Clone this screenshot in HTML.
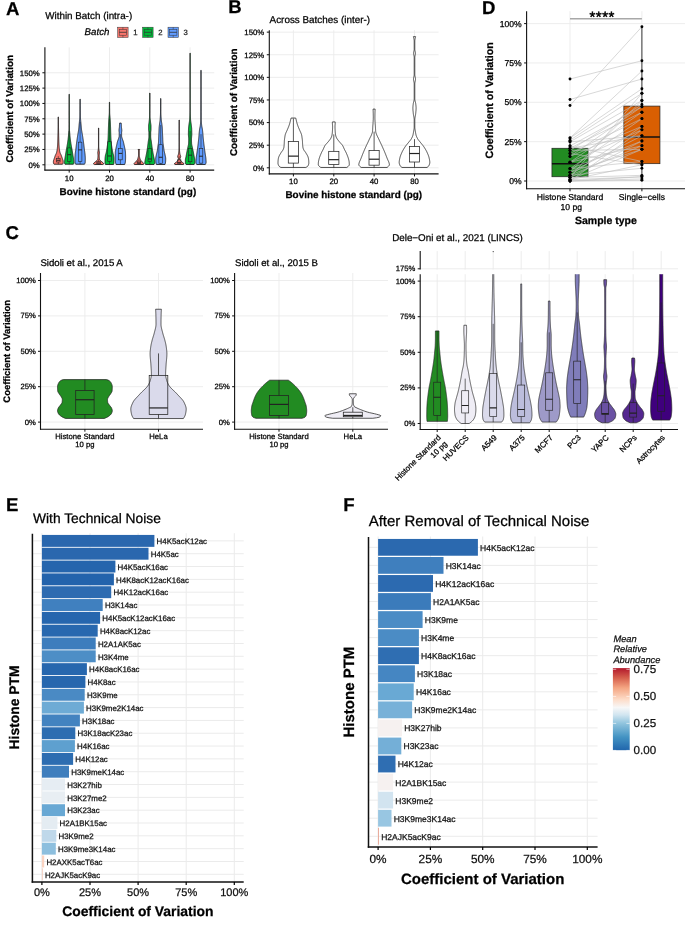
<!DOCTYPE html><html><head><meta charset="utf-8"><style>html,body{margin:0;padding:0;background:#fff;}svg{display:block;will-change:transform;}</style></head><body><svg text-rendering="geometricPrecision" width="685" height="928" viewBox="0 0 685 928" font-family='"Liberation Sans", sans-serif'>
<style>text{stroke:currentColor;stroke-width:0.25px;paint-order:stroke;}</style>
<rect width="685" height="928" fill="#fff"/>
<line x1="44.90" y1="164.80" x2="214.20" y2="164.80" stroke="#EBEBEB" stroke-width="0.9"/>
<line x1="44.90" y1="149.46" x2="214.20" y2="149.46" stroke="#EBEBEB" stroke-width="0.9"/>
<line x1="44.90" y1="134.12" x2="214.20" y2="134.12" stroke="#EBEBEB" stroke-width="0.9"/>
<line x1="44.90" y1="118.79" x2="214.20" y2="118.79" stroke="#EBEBEB" stroke-width="0.9"/>
<line x1="44.90" y1="103.45" x2="214.20" y2="103.45" stroke="#EBEBEB" stroke-width="0.9"/>
<line x1="44.90" y1="88.11" x2="214.20" y2="88.11" stroke="#EBEBEB" stroke-width="0.9"/>
<line x1="44.90" y1="72.78" x2="214.20" y2="72.78" stroke="#EBEBEB" stroke-width="0.9"/>
<line x1="69.20" y1="47.30" x2="69.20" y2="170.10" stroke="#EBEBEB" stroke-width="0.9"/>
<line x1="109.50" y1="47.30" x2="109.50" y2="170.10" stroke="#EBEBEB" stroke-width="0.9"/>
<line x1="149.80" y1="47.30" x2="149.80" y2="170.10" stroke="#EBEBEB" stroke-width="0.9"/>
<line x1="190.10" y1="47.30" x2="190.10" y2="170.10" stroke="#EBEBEB" stroke-width="0.9"/>
<path d="M62.50,164.19 L62.90,163.68 L63.17,163.18 L63.20,162.68 L63.20,162.18 L63.20,161.67 L63.20,161.17 L63.14,160.67 L62.96,160.17 L62.75,159.66 L62.56,159.16 L62.40,158.66 L62.24,158.16 L62.07,157.65 L61.90,157.15 L61.73,156.65 L61.55,156.15 L61.36,155.64 L61.17,155.14 L60.94,154.64 L60.67,154.14 L60.40,153.63 L60.20,153.13 L60.04,152.63 L59.90,152.13 L59.78,151.62 L59.68,151.12 L59.59,150.62 L59.51,150.12 L59.44,149.61 L59.37,149.11 L59.31,148.61 L59.25,148.10 L59.20,147.60 L59.15,147.10 L59.11,146.60 L59.08,146.09 L59.05,145.59 L59.01,145.09 L58.98,144.59 L58.96,144.08 L58.93,143.58 L58.90,143.08 L58.88,142.58 L58.86,142.07 L58.84,141.57 L58.82,141.07 L58.81,140.57 L58.79,140.06 L58.78,139.56 L58.77,139.06 L58.75,138.56 L58.74,138.05 L58.73,137.55 L58.72,137.05 L58.70,136.55 L58.69,136.04 L58.68,135.54 L58.67,135.04 L58.65,134.54 L58.64,134.03 L58.63,133.53 L58.62,133.03 L58.61,132.53 L58.60,132.02 L58.59,131.52 L58.58,131.02 L58.57,130.52 L58.56,130.01 L58.55,129.51 L58.54,129.01 L58.53,128.51 L58.52,128.00 L58.51,127.50 L58.50,127.00 L58.50,126.50 L58.49,125.99 L58.48,125.49 L58.48,124.99 L58.47,124.49 L58.46,123.98 L58.46,123.48 L58.45,122.98 L58.45,122.48 L58.44,121.97 L58.44,121.47 L58.43,120.97 L58.43,120.46 L58.43,119.96 L58.43,119.46 L58.42,118.96 L58.42,118.45 L58.42,117.95 L58.42,117.45 L58.42,116.95 L58.18,116.95 L58.18,117.45 L58.18,117.95 L58.18,118.45 L58.18,118.96 L58.17,119.46 L58.17,119.96 L58.17,120.46 L58.17,120.97 L58.16,121.47 L58.16,121.97 L58.15,122.48 L58.15,122.98 L58.14,123.48 L58.14,123.98 L58.13,124.49 L58.12,124.99 L58.12,125.49 L58.11,125.99 L58.10,126.50 L58.10,127.00 L58.09,127.50 L58.08,128.00 L58.07,128.51 L58.06,129.01 L58.05,129.51 L58.04,130.01 L58.03,130.52 L58.02,131.02 L58.01,131.52 L58.00,132.02 L57.99,132.53 L57.98,133.03 L57.97,133.53 L57.96,134.03 L57.95,134.54 L57.93,135.04 L57.92,135.54 L57.91,136.04 L57.90,136.55 L57.88,137.05 L57.87,137.55 L57.86,138.05 L57.85,138.56 L57.83,139.06 L57.82,139.56 L57.81,140.06 L57.79,140.57 L57.78,141.07 L57.76,141.57 L57.74,142.07 L57.72,142.58 L57.70,143.08 L57.67,143.58 L57.64,144.08 L57.62,144.59 L57.59,145.09 L57.55,145.59 L57.52,146.09 L57.49,146.60 L57.45,147.10 L57.40,147.60 L57.35,148.10 L57.29,148.61 L57.23,149.11 L57.16,149.61 L57.09,150.12 L57.01,150.62 L56.92,151.12 L56.82,151.62 L56.70,152.13 L56.56,152.63 L56.40,153.13 L56.20,153.63 L55.93,154.14 L55.66,154.64 L55.43,155.14 L55.24,155.64 L55.05,156.15 L54.87,156.65 L54.70,157.15 L54.53,157.65 L54.36,158.16 L54.20,158.66 L54.04,159.16 L53.85,159.66 L53.64,160.17 L53.46,160.67 L53.40,161.17 L53.40,161.67 L53.40,162.18 L53.40,162.68 L53.43,163.18 L53.70,163.68 L54.10,164.19 Z" fill="#F8766D" stroke="#1a1a1a" stroke-width="0.85" stroke-linejoin="round"/>
<g stroke="#222" stroke-width="0.6">
<line x1="58.30" y1="164.19" x2="58.30" y2="161.98" stroke="#222" stroke-width="0.6"/>
<line x1="58.30" y1="158.67" x2="58.30" y2="156.21" stroke="#222" stroke-width="0.6"/>
<rect x="56.50" y="158.67" width="3.60" height="3.31" fill="none" stroke="#222" stroke-width="0.6"/>
<line x1="56.50" y1="160.26" x2="60.10" y2="160.26" stroke="#222" stroke-width="1.0"/>
</g>
<path d="M73.40,164.19 L73.69,163.68 L73.88,163.18 L73.90,162.68 L73.88,162.17 L73.84,161.67 L73.80,161.17 L73.76,160.66 L73.70,160.16 L73.64,159.66 L73.57,159.15 L73.50,158.65 L73.43,158.15 L73.35,157.65 L73.26,157.14 L73.18,156.64 L73.09,156.14 L73.01,155.63 L72.92,155.13 L72.84,154.63 L72.76,154.12 L72.68,153.62 L72.60,153.12 L72.52,152.61 L72.44,152.11 L72.36,151.61 L72.27,151.10 L72.18,150.60 L72.09,150.10 L72.00,149.59 L71.91,149.09 L71.81,148.59 L71.71,148.09 L71.62,147.58 L71.52,147.08 L71.43,146.58 L71.34,146.07 L71.26,145.57 L71.17,145.07 L71.09,144.56 L71.00,144.06 L70.92,143.56 L70.84,143.05 L70.77,142.55 L70.69,142.05 L70.62,141.54 L70.55,141.04 L70.48,140.54 L70.42,140.03 L70.35,139.53 L70.29,139.03 L70.23,138.53 L70.17,138.02 L70.12,137.52 L70.07,137.02 L70.01,136.51 L69.97,136.01 L69.92,135.51 L69.87,135.00 L69.83,134.50 L69.79,134.00 L69.75,133.49 L69.71,132.99 L69.66,132.49 L69.62,131.98 L69.58,131.48 L69.54,130.98 L69.50,130.47 L69.47,129.97 L69.44,129.47 L69.42,128.97 L69.41,128.46 L69.40,127.96 L69.40,127.46 L69.39,126.95 L69.39,126.45 L69.39,125.95 L69.39,125.44 L69.38,124.94 L69.38,124.44 L69.38,123.93 L69.38,123.43 L69.37,122.93 L69.37,122.42 L69.37,121.92 L69.37,121.42 L69.37,120.91 L69.36,120.41 L69.36,119.91 L69.36,119.41 L69.36,118.90 L69.36,118.40 L69.35,117.90 L69.35,117.39 L69.35,116.89 L69.35,116.39 L69.35,115.88 L69.35,115.38 L69.34,114.88 L69.34,114.37 L69.34,113.87 L69.34,113.37 L69.34,112.86 L69.34,112.36 L69.34,111.86 L69.34,111.35 L69.33,110.85 L69.33,110.35 L69.33,109.85 L69.33,109.34 L69.33,108.84 L69.33,108.34 L69.33,107.83 L69.33,107.33 L69.33,106.83 L69.33,106.32 L69.33,105.82 L69.33,105.32 L69.33,104.81 L69.32,104.31 L69.32,103.81 L69.32,103.30 L69.32,102.80 L69.32,102.30 L69.32,101.79 L69.32,101.29 L69.32,100.79 L69.32,100.29 L69.32,99.78 L69.32,99.28 L69.32,98.78 L69.32,98.27 L69.32,97.77 L69.32,97.27 L69.32,96.76 L69.32,96.26 L69.32,95.76 L69.32,95.25 L69.32,94.75 L69.32,94.25 L69.08,94.25 L69.08,94.75 L69.08,95.25 L69.08,95.76 L69.08,96.26 L69.08,96.76 L69.08,97.27 L69.08,97.77 L69.08,98.27 L69.08,98.78 L69.08,99.28 L69.08,99.78 L69.08,100.29 L69.08,100.79 L69.08,101.29 L69.08,101.79 L69.08,102.30 L69.08,102.80 L69.08,103.30 L69.08,103.81 L69.08,104.31 L69.07,104.81 L69.07,105.32 L69.07,105.82 L69.07,106.32 L69.07,106.83 L69.07,107.33 L69.07,107.83 L69.07,108.34 L69.07,108.84 L69.07,109.34 L69.07,109.85 L69.07,110.35 L69.07,110.85 L69.06,111.35 L69.06,111.86 L69.06,112.36 L69.06,112.86 L69.06,113.37 L69.06,113.87 L69.06,114.37 L69.06,114.88 L69.05,115.38 L69.05,115.88 L69.05,116.39 L69.05,116.89 L69.05,117.39 L69.05,117.90 L69.04,118.40 L69.04,118.90 L69.04,119.41 L69.04,119.91 L69.04,120.41 L69.03,120.91 L69.03,121.42 L69.03,121.92 L69.03,122.42 L69.03,122.93 L69.02,123.43 L69.02,123.93 L69.02,124.44 L69.02,124.94 L69.01,125.44 L69.01,125.95 L69.01,126.45 L69.01,126.95 L69.00,127.46 L69.00,127.96 L68.99,128.46 L68.98,128.97 L68.96,129.47 L68.93,129.97 L68.90,130.47 L68.86,130.98 L68.82,131.48 L68.78,131.98 L68.74,132.49 L68.69,132.99 L68.65,133.49 L68.61,134.00 L68.57,134.50 L68.53,135.00 L68.48,135.51 L68.43,136.01 L68.39,136.51 L68.33,137.02 L68.28,137.52 L68.23,138.02 L68.17,138.53 L68.11,139.03 L68.05,139.53 L67.98,140.03 L67.92,140.54 L67.85,141.04 L67.78,141.54 L67.71,142.05 L67.63,142.55 L67.56,143.05 L67.48,143.56 L67.40,144.06 L67.31,144.56 L67.23,145.07 L67.14,145.57 L67.06,146.07 L66.97,146.58 L66.88,147.08 L66.78,147.58 L66.69,148.09 L66.59,148.59 L66.49,149.09 L66.40,149.59 L66.31,150.10 L66.22,150.60 L66.13,151.10 L66.04,151.61 L65.96,152.11 L65.88,152.61 L65.80,153.12 L65.72,153.62 L65.64,154.12 L65.56,154.63 L65.48,155.13 L65.39,155.63 L65.31,156.14 L65.22,156.64 L65.14,157.14 L65.05,157.65 L64.97,158.15 L64.90,158.65 L64.83,159.15 L64.76,159.66 L64.70,160.16 L64.64,160.66 L64.60,161.17 L64.56,161.67 L64.52,162.17 L64.50,162.68 L64.52,163.18 L64.71,163.68 L65.00,164.19 Z" fill="#00BA38" stroke="#1a1a1a" stroke-width="0.85" stroke-linejoin="round"/>
<g stroke="#222" stroke-width="0.6">
<line x1="69.20" y1="164.19" x2="69.20" y2="161.55" stroke="#222" stroke-width="0.6"/>
<line x1="69.20" y1="147.93" x2="69.20" y2="131.06" stroke="#222" stroke-width="0.6"/>
<rect x="67.40" y="147.93" width="3.60" height="13.62" fill="none" stroke="#222" stroke-width="0.6"/>
<line x1="67.40" y1="154.68" x2="71.00" y2="154.68" stroke="#222" stroke-width="1.0"/>
</g>
<path d="M84.50,164.19 L84.75,163.69 L84.99,163.19 L85.15,162.69 L85.21,162.19 L85.23,161.69 L85.25,161.19 L85.27,160.68 L85.28,160.18 L85.29,159.68 L85.30,159.18 L85.30,158.68 L85.29,158.18 L85.28,157.68 L85.26,157.18 L85.22,156.68 L85.19,156.18 L85.15,155.68 L85.11,155.18 L85.08,154.68 L85.03,154.18 L84.97,153.68 L84.91,153.18 L84.85,152.68 L84.78,152.18 L84.71,151.68 L84.64,151.18 L84.56,150.68 L84.49,150.18 L84.43,149.68 L84.36,149.18 L84.30,148.68 L84.24,148.18 L84.18,147.68 L84.12,147.18 L84.06,146.68 L84.01,146.18 L83.95,145.68 L83.89,145.18 L83.83,144.68 L83.77,144.18 L83.70,143.68 L83.64,143.18 L83.58,142.68 L83.51,142.18 L83.44,141.68 L83.37,141.18 L83.30,140.68 L83.23,140.18 L83.16,139.67 L83.08,139.17 L83.01,138.67 L82.93,138.17 L82.86,137.67 L82.78,137.17 L82.70,136.67 L82.63,136.17 L82.55,135.67 L82.47,135.17 L82.39,134.67 L82.31,134.17 L82.22,133.67 L82.13,133.17 L82.04,132.67 L81.95,132.17 L81.86,131.67 L81.78,131.17 L81.70,130.67 L81.62,130.17 L81.56,129.67 L81.49,129.17 L81.44,128.67 L81.39,128.17 L81.34,127.67 L81.30,127.17 L81.25,126.67 L81.21,126.17 L81.17,125.67 L81.12,125.17 L81.08,124.67 L81.03,124.17 L80.97,123.67 L80.92,123.17 L80.87,122.67 L80.83,122.17 L80.78,121.67 L80.74,121.17 L80.69,120.67 L80.65,120.17 L80.60,119.67 L80.55,119.17 L80.51,118.66 L80.47,118.16 L80.44,117.66 L80.40,117.16 L80.38,116.66 L80.36,116.16 L80.35,115.66 L80.34,115.16 L80.33,114.66 L80.33,114.16 L80.32,113.66 L80.31,113.16 L80.31,112.66 L80.30,112.16 L80.29,111.66 L80.29,111.16 L80.28,110.66 L80.28,110.16 L80.27,109.66 L80.27,109.16 L80.26,108.66 L80.26,108.16 L80.25,107.66 L80.25,107.16 L80.25,106.66 L80.24,106.16 L80.24,105.66 L80.24,105.16 L80.23,104.66 L80.23,104.16 L80.23,103.66 L80.23,103.16 L80.23,102.66 L80.22,102.16 L80.22,101.66 L80.22,101.16 L80.22,100.66 L80.22,100.16 L80.22,99.66 L80.22,99.16 L79.98,99.16 L79.98,99.66 L79.98,100.16 L79.98,100.66 L79.98,101.16 L79.98,101.66 L79.98,102.16 L79.97,102.66 L79.97,103.16 L79.97,103.66 L79.97,104.16 L79.97,104.66 L79.96,105.16 L79.96,105.66 L79.96,106.16 L79.95,106.66 L79.95,107.16 L79.95,107.66 L79.94,108.16 L79.94,108.66 L79.93,109.16 L79.93,109.66 L79.92,110.16 L79.92,110.66 L79.91,111.16 L79.91,111.66 L79.90,112.16 L79.89,112.66 L79.89,113.16 L79.88,113.66 L79.87,114.16 L79.87,114.66 L79.86,115.16 L79.85,115.66 L79.84,116.16 L79.82,116.66 L79.80,117.16 L79.76,117.66 L79.73,118.16 L79.69,118.66 L79.65,119.17 L79.60,119.67 L79.55,120.17 L79.51,120.67 L79.46,121.17 L79.42,121.67 L79.37,122.17 L79.33,122.67 L79.28,123.17 L79.23,123.67 L79.17,124.17 L79.12,124.67 L79.08,125.17 L79.03,125.67 L78.99,126.17 L78.95,126.67 L78.90,127.17 L78.86,127.67 L78.81,128.17 L78.76,128.67 L78.71,129.17 L78.64,129.67 L78.58,130.17 L78.50,130.67 L78.42,131.17 L78.34,131.67 L78.25,132.17 L78.16,132.67 L78.07,133.17 L77.98,133.67 L77.89,134.17 L77.81,134.67 L77.73,135.17 L77.65,135.67 L77.57,136.17 L77.50,136.67 L77.42,137.17 L77.34,137.67 L77.27,138.17 L77.19,138.67 L77.12,139.17 L77.04,139.67 L76.97,140.18 L76.90,140.68 L76.83,141.18 L76.76,141.68 L76.69,142.18 L76.62,142.68 L76.56,143.18 L76.50,143.68 L76.43,144.18 L76.37,144.68 L76.31,145.18 L76.25,145.68 L76.19,146.18 L76.14,146.68 L76.08,147.18 L76.02,147.68 L75.96,148.18 L75.90,148.68 L75.84,149.18 L75.77,149.68 L75.71,150.18 L75.64,150.68 L75.56,151.18 L75.49,151.68 L75.42,152.18 L75.35,152.68 L75.29,153.18 L75.23,153.68 L75.17,154.18 L75.12,154.68 L75.09,155.18 L75.05,155.68 L75.01,156.18 L74.98,156.68 L74.94,157.18 L74.92,157.68 L74.91,158.18 L74.90,158.68 L74.90,159.18 L74.91,159.68 L74.92,160.18 L74.93,160.68 L74.95,161.19 L74.97,161.69 L74.99,162.19 L75.05,162.69 L75.21,163.19 L75.45,163.69 L75.70,164.19 Z" fill="#619CFF" stroke="#1a1a1a" stroke-width="0.85" stroke-linejoin="round"/>
<g stroke="#222" stroke-width="0.6">
<line x1="80.10" y1="164.19" x2="80.10" y2="161.55" stroke="#222" stroke-width="0.6"/>
<line x1="80.10" y1="142.16" x2="80.10" y2="121.86" stroke="#222" stroke-width="0.6"/>
<rect x="78.30" y="142.16" width="3.60" height="19.39" fill="none" stroke="#222" stroke-width="0.6"/>
<line x1="78.30" y1="149.89" x2="81.90" y2="149.89" stroke="#222" stroke-width="1.0"/>
</g>
<path d="M102.80,164.49 L103.66,163.99 L103.58,163.49 L103.22,162.99 L102.75,162.49 L102.13,161.99 L101.48,161.49 L100.76,160.99 L100.19,160.49 L99.82,159.99 L99.56,159.49 L99.46,158.99 L99.39,158.49 L99.33,157.99 L99.28,157.49 L99.24,156.99 L99.22,156.49 L99.20,155.99 L99.20,155.49 L99.22,154.99 L99.26,154.49 L99.31,153.99 L99.35,153.49 L99.39,152.99 L99.40,152.49 L99.35,151.99 L99.25,151.49 L99.15,150.99 L99.08,150.49 L99.01,149.99 L98.95,149.49 L98.89,148.99 L98.84,148.49 L98.79,147.99 L98.76,147.49 L98.73,146.99 L98.72,146.49 L98.72,145.99 L98.72,145.49 L98.72,144.99 L98.72,144.49 L98.72,143.99 L98.72,143.49 L98.72,142.99 L98.72,142.49 L98.72,141.99 L98.72,141.49 L98.72,140.99 L98.72,140.49 L98.72,139.99 L98.72,139.49 L98.72,138.99 L98.72,138.49 L98.72,137.99 L98.72,137.49 L98.72,136.99 L98.72,136.49 L98.72,135.99 L98.72,135.49 L98.72,134.99 L98.72,134.49 L98.72,133.99 L98.72,133.49 L98.72,132.99 L98.72,132.49 L98.72,131.99 L98.72,131.49 L98.72,130.99 L98.72,130.49 L98.72,129.99 L98.72,129.49 L98.72,128.99 L98.72,128.49 L98.72,127.99 L98.48,127.99 L98.48,128.49 L98.48,128.99 L98.48,129.49 L98.48,129.99 L98.48,130.49 L98.48,130.99 L98.48,131.49 L98.48,131.99 L98.48,132.49 L98.48,132.99 L98.48,133.49 L98.48,133.99 L98.48,134.49 L98.48,134.99 L98.48,135.49 L98.48,135.99 L98.48,136.49 L98.48,136.99 L98.48,137.49 L98.48,137.99 L98.48,138.49 L98.48,138.99 L98.48,139.49 L98.48,139.99 L98.48,140.49 L98.48,140.99 L98.48,141.49 L98.48,141.99 L98.48,142.49 L98.48,142.99 L98.48,143.49 L98.48,143.99 L98.48,144.49 L98.48,144.99 L98.48,145.49 L98.48,145.99 L98.48,146.49 L98.47,146.99 L98.44,147.49 L98.41,147.99 L98.36,148.49 L98.31,148.99 L98.25,149.49 L98.19,149.99 L98.12,150.49 L98.05,150.99 L97.95,151.49 L97.85,151.99 L97.80,152.49 L97.81,152.99 L97.85,153.49 L97.89,153.99 L97.94,154.49 L97.98,154.99 L98.00,155.49 L98.00,155.99 L97.98,156.49 L97.96,156.99 L97.92,157.49 L97.87,157.99 L97.81,158.49 L97.74,158.99 L97.64,159.49 L97.38,159.99 L97.01,160.49 L96.44,160.99 L95.72,161.49 L95.07,161.99 L94.45,162.49 L93.98,162.99 L93.62,163.49 L93.54,163.99 L94.40,164.49 Z" fill="#F8766D" stroke="#1a1a1a" stroke-width="0.85" stroke-linejoin="round"/>
<g stroke="#222" stroke-width="0.6">
<line x1="98.60" y1="164.49" x2="98.60" y2="163.88" stroke="#222" stroke-width="0.6"/>
<line x1="98.60" y1="161.73" x2="98.60" y2="159.28" stroke="#222" stroke-width="0.6"/>
<rect x="96.80" y="161.73" width="3.60" height="2.15" fill="none" stroke="#222" stroke-width="0.6"/>
<line x1="96.80" y1="162.96" x2="100.40" y2="162.96" stroke="#222" stroke-width="1.0"/>
</g>
<path d="M113.50,164.49 L113.72,163.99 L113.91,163.49 L114.00,162.99 L114.00,162.48 L114.00,161.98 L114.00,161.48 L114.00,160.98 L114.00,160.48 L114.00,159.97 L113.99,159.47 L113.97,158.97 L113.94,158.47 L113.90,157.96 L113.85,157.46 L113.79,156.96 L113.73,156.46 L113.66,155.96 L113.57,155.45 L113.45,154.95 L113.31,154.45 L113.17,153.95 L113.03,153.45 L112.90,152.94 L112.78,152.44 L112.68,151.94 L112.57,151.44 L112.47,150.93 L112.38,150.43 L112.28,149.93 L112.20,149.43 L112.11,148.93 L112.03,148.42 L111.95,147.92 L111.87,147.42 L111.80,146.92 L111.72,146.41 L111.65,145.91 L111.58,145.41 L111.51,144.91 L111.44,144.41 L111.38,143.90 L111.32,143.40 L111.27,142.90 L111.23,142.40 L111.18,141.90 L111.14,141.39 L111.11,140.89 L111.07,140.39 L111.04,139.89 L111.00,139.38 L110.97,138.88 L110.94,138.38 L110.92,137.88 L110.89,137.38 L110.87,136.87 L110.84,136.37 L110.82,135.87 L110.80,135.37 L110.78,134.86 L110.76,134.36 L110.75,133.86 L110.73,133.36 L110.72,132.86 L110.70,132.35 L110.69,131.85 L110.68,131.35 L110.66,130.85 L110.65,130.35 L110.64,129.84 L110.62,129.34 L110.61,128.84 L110.59,128.34 L110.58,127.83 L110.56,127.33 L110.54,126.83 L110.53,126.33 L110.51,125.83 L110.49,125.32 L110.47,124.82 L110.45,124.32 L110.43,123.82 L110.41,123.31 L110.39,122.81 L110.36,122.31 L110.33,121.81 L110.30,121.31 L110.27,120.80 L110.24,120.30 L110.21,119.80 L110.18,119.30 L110.14,118.79 L110.11,118.29 L110.07,117.79 L110.03,117.29 L109.99,116.79 L109.94,116.28 L109.90,115.78 L109.85,115.28 L109.81,114.78 L109.77,114.28 L109.74,113.77 L109.72,113.27 L109.70,112.77 L109.69,112.27 L109.69,111.76 L109.68,111.26 L109.67,110.76 L109.67,110.26 L109.66,109.76 L109.66,109.25 L109.65,108.75 L109.65,108.25 L109.64,107.75 L109.64,107.24 L109.64,106.74 L109.63,106.24 L109.63,105.74 L109.63,105.24 L109.62,104.73 L109.62,104.23 L109.62,103.73 L109.62,103.23 L109.62,102.73 L109.62,102.22 L109.38,102.22 L109.38,102.73 L109.38,103.23 L109.38,103.73 L109.38,104.23 L109.38,104.73 L109.37,105.24 L109.37,105.74 L109.37,106.24 L109.36,106.74 L109.36,107.24 L109.36,107.75 L109.35,108.25 L109.35,108.75 L109.34,109.25 L109.34,109.76 L109.33,110.26 L109.33,110.76 L109.32,111.26 L109.31,111.76 L109.31,112.27 L109.30,112.77 L109.28,113.27 L109.26,113.77 L109.23,114.28 L109.19,114.78 L109.15,115.28 L109.10,115.78 L109.06,116.28 L109.01,116.79 L108.97,117.29 L108.93,117.79 L108.89,118.29 L108.86,118.79 L108.82,119.30 L108.79,119.80 L108.76,120.30 L108.73,120.80 L108.70,121.31 L108.67,121.81 L108.64,122.31 L108.61,122.81 L108.59,123.31 L108.57,123.82 L108.55,124.32 L108.53,124.82 L108.51,125.32 L108.49,125.83 L108.47,126.33 L108.46,126.83 L108.44,127.33 L108.42,127.83 L108.41,128.34 L108.39,128.84 L108.38,129.34 L108.36,129.84 L108.35,130.35 L108.34,130.85 L108.32,131.35 L108.31,131.85 L108.30,132.35 L108.28,132.86 L108.27,133.36 L108.25,133.86 L108.24,134.36 L108.22,134.86 L108.20,135.37 L108.18,135.87 L108.16,136.37 L108.13,136.87 L108.11,137.38 L108.08,137.88 L108.06,138.38 L108.03,138.88 L108.00,139.38 L107.96,139.89 L107.93,140.39 L107.89,140.89 L107.86,141.39 L107.82,141.90 L107.77,142.40 L107.73,142.90 L107.68,143.40 L107.62,143.90 L107.56,144.41 L107.49,144.91 L107.42,145.41 L107.35,145.91 L107.28,146.41 L107.20,146.92 L107.13,147.42 L107.05,147.92 L106.97,148.42 L106.89,148.93 L106.80,149.43 L106.72,149.93 L106.62,150.43 L106.53,150.93 L106.43,151.44 L106.32,151.94 L106.22,152.44 L106.10,152.94 L105.97,153.45 L105.83,153.95 L105.69,154.45 L105.55,154.95 L105.43,155.45 L105.34,155.96 L105.27,156.46 L105.21,156.96 L105.15,157.46 L105.10,157.96 L105.06,158.47 L105.03,158.97 L105.01,159.47 L105.00,159.97 L105.00,160.48 L105.00,160.98 L105.00,161.48 L105.00,161.98 L105.00,162.48 L105.00,162.99 L105.09,163.49 L105.28,163.99 L105.50,164.49 Z" fill="#00BA38" stroke="#1a1a1a" stroke-width="0.85" stroke-linejoin="round"/>
<g stroke="#222" stroke-width="0.6">
<line x1="109.50" y1="164.49" x2="109.50" y2="161.55" stroke="#222" stroke-width="0.6"/>
<line x1="109.50" y1="141.73" x2="109.50" y2="118.79" stroke="#222" stroke-width="0.6"/>
<rect x="107.70" y="141.73" width="3.60" height="19.82" fill="none" stroke="#222" stroke-width="0.6"/>
<line x1="107.70" y1="155.97" x2="111.30" y2="155.97" stroke="#222" stroke-width="1.0"/>
</g>
<path d="M124.70,164.49 L124.87,163.99 L125.03,163.48 L125.17,162.98 L125.29,162.47 L125.38,161.97 L125.42,161.46 L125.46,160.96 L125.49,160.45 L125.53,159.95 L125.55,159.44 L125.57,158.94 L125.59,158.43 L125.60,157.93 L125.60,157.42 L125.60,156.92 L125.59,156.41 L125.59,155.91 L125.58,155.40 L125.57,154.90 L125.56,154.39 L125.54,153.89 L125.53,153.38 L125.51,152.88 L125.49,152.37 L125.45,151.87 L125.39,151.36 L125.32,150.86 L125.22,150.35 L125.13,149.85 L125.02,149.34 L124.92,148.84 L124.82,148.33 L124.72,147.83 L124.62,147.32 L124.51,146.82 L124.40,146.31 L124.28,145.81 L124.17,145.30 L124.05,144.80 L123.94,144.29 L123.83,143.79 L123.73,143.28 L123.62,142.78 L123.50,142.27 L123.38,141.77 L123.23,141.26 L123.06,140.76 L122.87,140.25 L122.67,139.75 L122.48,139.24 L122.30,138.74 L122.14,138.23 L121.98,137.73 L121.82,137.22 L121.69,136.72 L121.61,136.21 L121.60,135.71 L121.60,135.20 L121.60,134.70 L121.60,134.19 L121.60,133.69 L121.60,133.18 L121.60,132.68 L121.64,132.17 L121.70,131.67 L121.76,131.16 L121.80,130.66 L121.79,130.15 L121.76,129.65 L121.70,129.14 L121.63,128.64 L121.56,128.13 L121.48,127.63 L121.43,127.12 L121.39,126.62 L121.37,126.11 L121.35,125.61 L121.34,125.10 L121.31,124.60 L121.29,124.09 L121.25,123.59 L121.20,123.08 L119.60,123.08 L119.55,123.59 L119.51,124.09 L119.49,124.60 L119.46,125.10 L119.45,125.61 L119.43,126.11 L119.41,126.62 L119.37,127.12 L119.32,127.63 L119.24,128.13 L119.17,128.64 L119.10,129.14 L119.04,129.65 L119.01,130.15 L119.00,130.66 L119.04,131.16 L119.10,131.67 L119.16,132.17 L119.20,132.68 L119.20,133.18 L119.20,133.69 L119.20,134.19 L119.20,134.70 L119.20,135.20 L119.20,135.71 L119.19,136.21 L119.11,136.72 L118.98,137.22 L118.82,137.73 L118.66,138.23 L118.50,138.74 L118.32,139.24 L118.13,139.75 L117.93,140.25 L117.74,140.76 L117.57,141.26 L117.42,141.77 L117.30,142.27 L117.18,142.78 L117.07,143.28 L116.97,143.79 L116.86,144.29 L116.75,144.80 L116.63,145.30 L116.52,145.81 L116.40,146.31 L116.29,146.82 L116.18,147.32 L116.08,147.83 L115.98,148.33 L115.88,148.84 L115.78,149.34 L115.67,149.85 L115.58,150.35 L115.48,150.86 L115.41,151.36 L115.35,151.87 L115.31,152.37 L115.29,152.88 L115.27,153.38 L115.26,153.89 L115.24,154.39 L115.23,154.90 L115.22,155.40 L115.21,155.91 L115.21,156.41 L115.20,156.92 L115.20,157.42 L115.20,157.93 L115.21,158.43 L115.23,158.94 L115.25,159.44 L115.27,159.95 L115.31,160.45 L115.34,160.96 L115.38,161.46 L115.42,161.97 L115.51,162.47 L115.63,162.98 L115.77,163.48 L115.93,163.99 L116.10,164.49 Z" fill="#619CFF" stroke="#1a1a1a" stroke-width="0.85" stroke-linejoin="round"/>
<g stroke="#222" stroke-width="0.6">
<line x1="120.40" y1="164.49" x2="120.40" y2="159.83" stroke="#222" stroke-width="0.6"/>
<line x1="120.40" y1="148.48" x2="120.40" y2="134.12" stroke="#222" stroke-width="0.6"/>
<rect x="118.60" y="148.48" width="3.60" height="11.35" fill="none" stroke="#222" stroke-width="0.6"/>
<line x1="118.60" y1="153.39" x2="122.20" y2="153.39" stroke="#222" stroke-width="1.0"/>
</g>
<path d="M143.40,164.49 L143.88,163.99 L143.71,163.49 L143.23,162.99 L142.78,162.49 L142.31,161.99 L141.85,161.49 L141.38,160.99 L140.92,160.49 L140.55,159.98 L140.30,159.48 L140.09,158.98 L139.92,158.48 L139.78,157.98 L139.64,157.48 L139.51,156.98 L139.39,156.48 L139.32,155.98 L139.30,155.47 L139.30,154.97 L139.30,154.47 L139.30,153.97 L139.30,153.47 L139.30,152.97 L139.30,152.47 L139.30,151.97 L139.30,151.47 L139.30,150.97 L139.32,150.46 L139.49,149.96 L139.70,149.46 L138.10,149.46 L138.31,149.96 L138.48,150.46 L138.50,150.97 L138.50,151.47 L138.50,151.97 L138.50,152.47 L138.50,152.97 L138.50,153.47 L138.50,153.97 L138.50,154.47 L138.50,154.97 L138.50,155.47 L138.48,155.98 L138.41,156.48 L138.29,156.98 L138.16,157.48 L138.02,157.98 L137.88,158.48 L137.71,158.98 L137.50,159.48 L137.25,159.98 L136.88,160.49 L136.42,160.99 L135.95,161.49 L135.49,161.99 L135.02,162.49 L134.57,162.99 L134.09,163.49 L133.92,163.99 L134.40,164.49 Z" fill="#F8766D" stroke="#1a1a1a" stroke-width="0.85" stroke-linejoin="round"/>
<g stroke="#222" stroke-width="0.6">
<line x1="138.90" y1="164.49" x2="138.90" y2="163.45" stroke="#222" stroke-width="0.6"/>
<line x1="138.90" y1="161.12" x2="138.90" y2="158.67" stroke="#222" stroke-width="0.6"/>
<rect x="137.10" y="161.12" width="3.60" height="2.33" fill="none" stroke="#222" stroke-width="0.6"/>
<line x1="137.10" y1="162.84" x2="140.70" y2="162.84" stroke="#222" stroke-width="1.0"/>
</g>
<path d="M154.00,164.49 L154.37,163.99 L154.67,163.49 L154.80,162.98 L154.78,162.48 L154.74,161.98 L154.67,161.47 L154.59,160.97 L154.50,160.47 L154.41,159.96 L154.33,159.46 L154.23,158.96 L154.13,158.45 L154.01,157.95 L153.90,157.45 L153.79,156.94 L153.67,156.44 L153.57,155.94 L153.47,155.43 L153.37,154.93 L153.27,154.43 L153.18,153.92 L153.08,153.42 L152.99,152.92 L152.90,152.41 L152.81,151.91 L152.72,151.41 L152.63,150.90 L152.55,150.40 L152.47,149.90 L152.38,149.39 L152.31,148.89 L152.23,148.39 L152.16,147.88 L152.09,147.38 L152.02,146.88 L151.95,146.37 L151.88,145.87 L151.82,145.37 L151.75,144.86 L151.69,144.36 L151.62,143.86 L151.56,143.35 L151.50,142.85 L151.43,142.35 L151.37,141.84 L151.29,141.34 L151.21,140.84 L151.12,140.33 L151.04,139.83 L150.96,139.33 L150.88,138.82 L150.82,138.32 L150.76,137.82 L150.72,137.31 L150.70,136.81 L150.70,136.31 L150.70,135.80 L150.70,135.30 L150.70,134.80 L150.70,134.29 L150.70,133.79 L150.70,133.29 L150.70,132.78 L150.72,132.28 L150.77,131.78 L150.82,131.27 L150.88,130.77 L150.94,130.27 L150.98,129.76 L151.00,129.26 L151.00,128.76 L151.00,128.25 L151.00,127.75 L151.00,127.25 L151.00,126.74 L151.00,126.24 L150.99,125.74 L150.96,125.23 L150.90,124.73 L150.84,124.23 L150.76,123.72 L150.68,123.22 L150.61,122.72 L150.54,122.21 L150.49,121.71 L150.43,121.21 L150.38,120.70 L150.33,120.20 L150.27,119.70 L150.22,119.19 L150.17,118.69 L150.13,118.19 L150.09,117.68 L150.05,117.18 L150.03,116.68 L150.01,116.17 L150.00,115.67 L150.00,115.17 L149.99,114.66 L149.99,114.16 L149.98,113.66 L149.98,113.15 L149.98,112.65 L149.97,112.15 L149.97,111.64 L149.97,111.14 L149.96,110.64 L149.96,110.13 L149.96,109.63 L149.96,109.13 L149.95,108.62 L149.95,108.12 L149.95,107.62 L149.95,107.11 L149.94,106.61 L149.94,106.11 L149.94,105.60 L149.94,105.10 L149.94,104.60 L149.94,104.09 L149.93,103.59 L149.93,103.09 L149.93,102.58 L149.93,102.08 L149.93,101.58 L149.93,101.07 L149.93,100.57 L149.93,100.07 L149.93,99.56 L149.92,99.06 L149.92,98.56 L149.92,98.05 L149.92,97.55 L149.92,97.05 L149.92,96.54 L149.92,96.04 L149.92,95.54 L149.92,95.03 L149.92,94.53 L149.92,94.03 L149.92,93.52 L149.92,93.02 L149.68,93.02 L149.68,93.52 L149.68,94.03 L149.68,94.53 L149.68,95.03 L149.68,95.54 L149.68,96.04 L149.68,96.54 L149.68,97.05 L149.68,97.55 L149.68,98.05 L149.68,98.56 L149.68,99.06 L149.67,99.56 L149.67,100.07 L149.67,100.57 L149.67,101.07 L149.67,101.58 L149.67,102.08 L149.67,102.58 L149.67,103.09 L149.67,103.59 L149.66,104.09 L149.66,104.60 L149.66,105.10 L149.66,105.60 L149.66,106.11 L149.66,106.61 L149.65,107.11 L149.65,107.62 L149.65,108.12 L149.65,108.62 L149.64,109.13 L149.64,109.63 L149.64,110.13 L149.64,110.64 L149.63,111.14 L149.63,111.64 L149.63,112.15 L149.62,112.65 L149.62,113.15 L149.62,113.66 L149.61,114.16 L149.61,114.66 L149.60,115.17 L149.60,115.67 L149.59,116.17 L149.57,116.68 L149.55,117.18 L149.51,117.68 L149.47,118.19 L149.43,118.69 L149.38,119.19 L149.33,119.70 L149.27,120.20 L149.22,120.70 L149.17,121.21 L149.11,121.71 L149.06,122.21 L148.99,122.72 L148.92,123.22 L148.84,123.72 L148.76,124.23 L148.70,124.73 L148.64,125.23 L148.61,125.74 L148.60,126.24 L148.60,126.74 L148.60,127.25 L148.60,127.75 L148.60,128.25 L148.60,128.76 L148.60,129.26 L148.62,129.76 L148.66,130.27 L148.72,130.77 L148.78,131.27 L148.83,131.78 L148.88,132.28 L148.90,132.78 L148.90,133.29 L148.90,133.79 L148.90,134.29 L148.90,134.80 L148.90,135.30 L148.90,135.80 L148.90,136.31 L148.90,136.81 L148.88,137.31 L148.84,137.82 L148.78,138.32 L148.72,138.82 L148.64,139.33 L148.56,139.83 L148.48,140.33 L148.39,140.84 L148.31,141.34 L148.23,141.84 L148.17,142.35 L148.10,142.85 L148.04,143.35 L147.98,143.86 L147.91,144.36 L147.85,144.86 L147.78,145.37 L147.72,145.87 L147.65,146.37 L147.58,146.88 L147.51,147.38 L147.44,147.88 L147.37,148.39 L147.29,148.89 L147.22,149.39 L147.13,149.90 L147.05,150.40 L146.97,150.90 L146.88,151.41 L146.79,151.91 L146.70,152.41 L146.61,152.92 L146.52,153.42 L146.42,153.92 L146.33,154.43 L146.23,154.93 L146.13,155.43 L146.03,155.94 L145.93,156.44 L145.81,156.94 L145.70,157.45 L145.59,157.95 L145.47,158.45 L145.37,158.96 L145.27,159.46 L145.19,159.96 L145.10,160.47 L145.01,160.97 L144.93,161.47 L144.86,161.98 L144.82,162.48 L144.80,162.98 L144.93,163.49 L145.23,163.99 L145.60,164.49 Z" fill="#00BA38" stroke="#1a1a1a" stroke-width="0.85" stroke-linejoin="round"/>
<g stroke="#222" stroke-width="0.6">
<line x1="149.80" y1="164.49" x2="149.80" y2="161.55" stroke="#222" stroke-width="0.6"/>
<line x1="149.80" y1="148.66" x2="149.80" y2="131.06" stroke="#222" stroke-width="0.6"/>
<rect x="148.00" y="148.66" width="3.60" height="12.88" fill="none" stroke="#222" stroke-width="0.6"/>
<line x1="148.00" y1="158.97" x2="151.60" y2="158.97" stroke="#222" stroke-width="1.0"/>
</g>
<path d="M165.00,164.49 L165.15,163.99 L165.29,163.49 L165.42,162.98 L165.51,162.48 L165.58,161.98 L165.61,161.47 L165.64,160.97 L165.66,160.47 L165.68,159.96 L165.69,159.46 L165.70,158.96 L165.70,158.45 L165.66,157.95 L165.60,157.45 L165.51,156.94 L165.41,156.44 L165.30,155.93 L165.19,155.43 L165.09,154.93 L164.98,154.42 L164.87,153.92 L164.74,153.42 L164.61,152.91 L164.48,152.41 L164.36,151.91 L164.24,151.40 L164.14,150.90 L164.05,150.40 L163.97,149.89 L163.90,149.39 L163.83,148.89 L163.76,148.38 L163.70,147.88 L163.63,147.38 L163.57,146.87 L163.50,146.37 L163.42,145.87 L163.34,145.36 L163.26,144.86 L163.18,144.36 L163.10,143.85 L163.03,143.35 L162.97,142.85 L162.92,142.34 L162.88,141.84 L162.86,141.33 L162.83,140.83 L162.81,140.33 L162.79,139.82 L162.78,139.32 L162.76,138.82 L162.74,138.31 L162.72,137.81 L162.70,137.31 L162.68,136.80 L162.66,136.30 L162.64,135.80 L162.61,135.29 L162.59,134.79 L162.56,134.29 L162.54,133.78 L162.52,133.28 L162.49,132.78 L162.47,132.27 L162.46,131.77 L162.44,131.27 L162.42,130.76 L162.40,130.26 L162.39,129.76 L162.36,129.25 L162.34,128.75 L162.31,128.25 L162.28,127.74 L162.24,127.24 L162.19,126.73 L162.14,126.23 L162.08,125.73 L162.01,125.22 L161.95,124.72 L161.89,124.22 L161.82,123.71 L161.75,123.21 L161.67,122.71 L161.58,122.20 L161.51,121.70 L161.43,121.20 L161.37,120.69 L161.32,120.19 L161.27,119.69 L161.23,119.18 L161.19,118.68 L161.16,118.18 L161.12,117.67 L161.09,117.17 L161.06,116.67 L161.03,116.16 L161.00,115.66 L160.97,115.16 L160.95,114.65 L160.93,114.15 L160.92,113.65 L160.91,113.14 L160.90,112.64 L160.89,112.14 L160.89,111.63 L160.88,111.13 L160.88,110.62 L160.87,110.12 L160.87,109.62 L160.87,109.11 L160.86,108.61 L160.86,108.11 L160.85,107.60 L160.85,107.10 L160.85,106.60 L160.84,106.09 L160.84,105.59 L160.84,105.09 L160.83,104.58 L160.83,104.08 L160.83,103.58 L160.83,103.07 L160.83,102.57 L160.83,102.07 L160.82,101.56 L160.82,101.06 L160.82,100.56 L160.82,100.05 L160.82,99.55 L160.82,99.05 L160.82,98.54 L160.58,98.54 L160.58,99.05 L160.58,99.55 L160.58,100.05 L160.58,100.56 L160.58,101.06 L160.58,101.56 L160.57,102.07 L160.57,102.57 L160.57,103.07 L160.57,103.58 L160.57,104.08 L160.57,104.58 L160.56,105.09 L160.56,105.59 L160.56,106.09 L160.55,106.60 L160.55,107.10 L160.55,107.60 L160.54,108.11 L160.54,108.61 L160.53,109.11 L160.53,109.62 L160.53,110.12 L160.52,110.62 L160.52,111.13 L160.51,111.63 L160.51,112.14 L160.50,112.64 L160.49,113.14 L160.48,113.65 L160.47,114.15 L160.45,114.65 L160.43,115.16 L160.40,115.66 L160.37,116.16 L160.34,116.67 L160.31,117.17 L160.28,117.67 L160.24,118.18 L160.21,118.68 L160.17,119.18 L160.13,119.69 L160.08,120.19 L160.03,120.69 L159.97,121.20 L159.89,121.70 L159.82,122.20 L159.73,122.71 L159.65,123.21 L159.58,123.71 L159.51,124.22 L159.45,124.72 L159.39,125.22 L159.32,125.73 L159.26,126.23 L159.21,126.73 L159.16,127.24 L159.12,127.74 L159.09,128.25 L159.06,128.75 L159.04,129.25 L159.01,129.76 L159.00,130.26 L158.98,130.76 L158.96,131.27 L158.94,131.77 L158.93,132.27 L158.91,132.78 L158.88,133.28 L158.86,133.78 L158.84,134.29 L158.81,134.79 L158.79,135.29 L158.76,135.80 L158.74,136.30 L158.72,136.80 L158.70,137.31 L158.68,137.81 L158.66,138.31 L158.64,138.82 L158.62,139.32 L158.61,139.82 L158.59,140.33 L158.57,140.83 L158.54,141.33 L158.52,141.84 L158.48,142.34 L158.43,142.85 L158.37,143.35 L158.30,143.85 L158.22,144.36 L158.14,144.86 L158.06,145.36 L157.98,145.87 L157.90,146.37 L157.83,146.87 L157.77,147.38 L157.70,147.88 L157.64,148.38 L157.57,148.89 L157.50,149.39 L157.43,149.89 L157.35,150.40 L157.26,150.90 L157.16,151.40 L157.04,151.91 L156.92,152.41 L156.79,152.91 L156.66,153.42 L156.53,153.92 L156.42,154.42 L156.31,154.93 L156.21,155.43 L156.10,155.93 L155.99,156.44 L155.89,156.94 L155.80,157.45 L155.74,157.95 L155.70,158.45 L155.70,158.96 L155.71,159.46 L155.72,159.96 L155.74,160.47 L155.76,160.97 L155.79,161.47 L155.82,161.98 L155.89,162.48 L155.98,162.98 L156.11,163.49 L156.25,163.99 L156.40,164.49 Z" fill="#619CFF" stroke="#1a1a1a" stroke-width="0.85" stroke-linejoin="round"/>
<g stroke="#222" stroke-width="0.6">
<line x1="160.70" y1="164.49" x2="160.70" y2="163.27" stroke="#222" stroke-width="0.6"/>
<line x1="160.70" y1="144.74" x2="160.70" y2="124.92" stroke="#222" stroke-width="0.6"/>
<rect x="158.90" y="144.74" width="3.60" height="18.53" fill="none" stroke="#222" stroke-width="0.6"/>
<line x1="158.90" y1="157.25" x2="162.50" y2="157.25" stroke="#222" stroke-width="1.0"/>
</g>
<path d="M183.40,164.49 L184.07,163.99 L183.85,163.48 L183.22,162.98 L182.61,162.47 L181.97,161.97 L181.39,161.46 L180.83,160.96 L180.48,160.45 L180.27,159.94 L180.11,159.44 L180.01,158.93 L180.04,158.43 L180.29,157.92 L180.50,157.42 L180.62,156.91 L180.69,156.41 L180.64,155.90 L180.38,155.40 L180.17,154.89 L180.04,154.38 L179.92,153.88 L179.82,153.37 L179.74,152.87 L179.68,152.36 L179.63,151.86 L179.58,151.35 L179.54,150.85 L179.50,150.34 L179.46,149.84 L179.42,149.33 L179.39,148.82 L179.37,148.32 L179.35,147.81 L179.33,147.31 L179.32,146.80 L179.32,146.30 L179.32,145.79 L179.32,145.29 L179.32,144.78 L179.32,144.28 L179.32,143.77 L179.32,143.26 L179.32,142.76 L179.32,142.25 L179.32,141.75 L179.32,141.24 L179.32,140.74 L179.32,140.23 L179.32,139.73 L179.32,139.22 L179.32,138.72 L179.32,138.21 L179.32,137.70 L179.32,137.20 L179.32,136.69 L179.32,136.19 L179.32,135.68 L179.32,135.18 L179.32,134.67 L179.32,134.17 L179.32,133.66 L179.32,133.16 L179.32,132.65 L179.32,132.15 L179.32,131.64 L179.32,131.13 L179.32,130.63 L179.32,130.12 L179.32,129.62 L179.32,129.11 L179.32,128.61 L179.32,128.10 L179.32,127.60 L179.32,127.09 L179.32,126.59 L179.32,126.08 L179.32,125.57 L179.32,125.07 L179.32,124.56 L179.32,124.06 L179.32,123.55 L179.32,123.05 L179.32,122.54 L179.32,122.04 L179.32,121.53 L179.32,121.03 L179.32,120.52 L179.32,120.01 L179.08,120.01 L179.08,120.52 L179.08,121.03 L179.08,121.53 L179.08,122.04 L179.08,122.54 L179.08,123.05 L179.08,123.55 L179.08,124.06 L179.08,124.56 L179.08,125.07 L179.08,125.57 L179.08,126.08 L179.08,126.59 L179.08,127.09 L179.08,127.60 L179.08,128.10 L179.08,128.61 L179.08,129.11 L179.08,129.62 L179.08,130.12 L179.08,130.63 L179.08,131.13 L179.08,131.64 L179.08,132.15 L179.08,132.65 L179.08,133.16 L179.08,133.66 L179.08,134.17 L179.08,134.67 L179.08,135.18 L179.08,135.68 L179.08,136.19 L179.08,136.69 L179.08,137.20 L179.08,137.70 L179.08,138.21 L179.08,138.72 L179.08,139.22 L179.08,139.73 L179.08,140.23 L179.08,140.74 L179.08,141.24 L179.08,141.75 L179.08,142.25 L179.08,142.76 L179.08,143.26 L179.08,143.77 L179.08,144.28 L179.08,144.78 L179.08,145.29 L179.08,145.79 L179.08,146.30 L179.08,146.80 L179.07,147.31 L179.05,147.81 L179.03,148.32 L179.01,148.82 L178.98,149.33 L178.94,149.84 L178.90,150.34 L178.86,150.85 L178.82,151.35 L178.77,151.86 L178.72,152.36 L178.66,152.87 L178.58,153.37 L178.48,153.88 L178.36,154.38 L178.23,154.89 L178.02,155.40 L177.76,155.90 L177.71,156.41 L177.78,156.91 L177.90,157.42 L178.11,157.92 L178.36,158.43 L178.39,158.93 L178.29,159.44 L178.13,159.94 L177.92,160.45 L177.57,160.96 L177.01,161.46 L176.43,161.97 L175.79,162.47 L175.18,162.98 L174.55,163.48 L174.33,163.99 L175.00,164.49 Z" fill="#F8766D" stroke="#1a1a1a" stroke-width="0.85" stroke-linejoin="round"/>
<g stroke="#222" stroke-width="0.6">
<line x1="179.20" y1="164.49" x2="179.20" y2="163.57" stroke="#222" stroke-width="0.6"/>
<line x1="179.20" y1="159.89" x2="179.20" y2="156.21" stroke="#222" stroke-width="0.6"/>
<rect x="177.40" y="159.89" width="3.60" height="3.68" fill="none" stroke="#222" stroke-width="0.6"/>
<line x1="177.40" y1="162.35" x2="181.00" y2="162.35" stroke="#222" stroke-width="1.0"/>
</g>
<path d="M194.10,164.49 L194.41,163.99 L194.67,163.49 L194.80,162.99 L194.82,162.49 L194.83,161.99 L194.84,161.48 L194.85,160.98 L194.85,160.48 L194.83,159.98 L194.78,159.48 L194.70,158.98 L194.60,158.47 L194.49,157.97 L194.37,157.47 L194.25,156.97 L194.15,156.47 L194.06,155.97 L193.97,155.46 L193.87,154.96 L193.78,154.46 L193.69,153.96 L193.60,153.46 L193.50,152.96 L193.41,152.46 L193.31,151.95 L193.21,151.45 L193.10,150.95 L193.00,150.45 L192.89,149.95 L192.78,149.45 L192.67,148.94 L192.57,148.44 L192.46,147.94 L192.36,147.44 L192.25,146.94 L192.14,146.44 L192.02,145.93 L191.91,145.43 L191.80,144.93 L191.71,144.43 L191.65,143.93 L191.60,143.43 L191.58,142.93 L191.57,142.42 L191.55,141.92 L191.53,141.42 L191.52,140.92 L191.51,140.42 L191.50,139.92 L191.50,139.41 L191.50,138.91 L191.51,138.41 L191.54,137.91 L191.58,137.41 L191.62,136.91 L191.67,136.40 L191.71,135.90 L191.75,135.40 L191.78,134.90 L191.80,134.40 L191.80,133.90 L191.80,133.40 L191.79,132.89 L191.78,132.39 L191.78,131.89 L191.76,131.39 L191.75,130.89 L191.74,130.39 L191.72,129.88 L191.71,129.38 L191.69,128.88 L191.66,128.38 L191.62,127.88 L191.57,127.38 L191.51,126.87 L191.46,126.37 L191.39,125.87 L191.33,125.37 L191.27,124.87 L191.21,124.37 L191.14,123.87 L191.07,123.36 L190.99,122.86 L190.90,122.36 L190.82,121.86 L190.75,121.36 L190.68,120.86 L190.63,120.35 L190.59,119.85 L190.56,119.35 L190.53,118.85 L190.50,118.35 L190.47,117.85 L190.45,117.34 L190.42,116.84 L190.39,116.34 L190.37,115.84 L190.35,115.34 L190.33,114.84 L190.31,114.34 L190.29,113.83 L190.28,113.33 L190.26,112.83 L190.25,112.33 L190.24,111.83 L190.23,111.33 L190.23,110.82 L190.22,110.32 L190.22,109.82 L190.22,109.32 L190.22,108.82 L190.22,108.32 L190.22,107.81 L190.22,107.31 L190.22,106.81 L190.22,106.31 L190.22,105.81 L190.22,105.31 L190.22,104.81 L190.22,104.30 L190.22,103.80 L190.22,103.30 L190.22,102.80 L190.22,102.30 L190.22,101.80 L190.22,101.29 L190.22,100.79 L190.22,100.29 L190.22,99.79 L190.22,99.29 L190.22,98.79 L190.22,98.28 L190.22,97.78 L190.22,97.28 L190.22,96.78 L190.22,96.28 L190.22,95.78 L190.22,95.28 L190.22,94.77 L190.22,94.27 L190.22,93.77 L190.22,93.27 L190.22,92.77 L190.22,92.27 L190.22,91.76 L190.22,91.26 L190.22,90.76 L190.22,90.26 L190.22,89.76 L190.22,89.26 L190.22,88.76 L190.22,88.25 L190.22,87.75 L190.22,87.25 L190.22,86.75 L190.22,86.25 L190.22,85.75 L190.22,85.24 L190.22,84.74 L190.22,84.24 L190.22,83.74 L190.22,83.24 L190.22,82.74 L190.22,82.23 L190.22,81.73 L190.22,81.23 L190.22,80.73 L190.22,80.23 L190.22,79.73 L190.22,79.23 L190.22,78.72 L190.22,78.22 L190.22,77.72 L190.22,77.22 L190.22,76.72 L190.22,76.22 L190.22,75.71 L190.22,75.21 L190.22,74.71 L190.22,74.21 L190.22,73.71 L190.22,73.21 L190.22,72.70 L190.22,72.20 L190.22,71.70 L190.22,71.20 L190.22,70.70 L190.22,70.20 L190.22,69.70 L190.22,69.19 L190.22,68.69 L190.22,68.19 L190.22,67.69 L190.22,67.19 L190.22,66.69 L190.22,66.18 L190.22,65.68 L190.22,65.18 L190.22,64.68 L190.22,64.18 L190.22,63.68 L190.22,63.17 L190.22,62.67 L190.22,62.17 L190.22,61.67 L190.22,61.17 L190.22,60.67 L190.22,60.17 L190.22,59.66 L190.22,59.16 L190.22,58.66 L190.22,58.16 L190.22,57.66 L190.22,57.16 L190.22,56.65 L190.22,56.15 L190.22,55.65 L190.22,55.15 L190.22,54.65 L190.22,54.15 L190.22,53.64 L190.22,53.14 L189.98,53.14 L189.98,53.64 L189.98,54.15 L189.98,54.65 L189.98,55.15 L189.98,55.65 L189.98,56.15 L189.98,56.65 L189.98,57.16 L189.98,57.66 L189.98,58.16 L189.98,58.66 L189.98,59.16 L189.98,59.66 L189.98,60.17 L189.98,60.67 L189.98,61.17 L189.98,61.67 L189.98,62.17 L189.98,62.67 L189.98,63.17 L189.98,63.68 L189.98,64.18 L189.98,64.68 L189.98,65.18 L189.98,65.68 L189.98,66.18 L189.98,66.69 L189.98,67.19 L189.98,67.69 L189.98,68.19 L189.98,68.69 L189.98,69.19 L189.98,69.70 L189.98,70.20 L189.98,70.70 L189.98,71.20 L189.98,71.70 L189.98,72.20 L189.98,72.70 L189.98,73.21 L189.98,73.71 L189.98,74.21 L189.98,74.71 L189.98,75.21 L189.98,75.71 L189.98,76.22 L189.98,76.72 L189.98,77.22 L189.98,77.72 L189.98,78.22 L189.98,78.72 L189.98,79.23 L189.98,79.73 L189.98,80.23 L189.98,80.73 L189.98,81.23 L189.98,81.73 L189.98,82.23 L189.98,82.74 L189.98,83.24 L189.98,83.74 L189.98,84.24 L189.98,84.74 L189.98,85.24 L189.98,85.75 L189.98,86.25 L189.98,86.75 L189.98,87.25 L189.98,87.75 L189.98,88.25 L189.98,88.76 L189.98,89.26 L189.98,89.76 L189.98,90.26 L189.98,90.76 L189.98,91.26 L189.98,91.76 L189.98,92.27 L189.98,92.77 L189.98,93.27 L189.98,93.77 L189.98,94.27 L189.98,94.77 L189.98,95.28 L189.98,95.78 L189.98,96.28 L189.98,96.78 L189.98,97.28 L189.98,97.78 L189.98,98.28 L189.98,98.79 L189.98,99.29 L189.98,99.79 L189.98,100.29 L189.98,100.79 L189.98,101.29 L189.98,101.80 L189.98,102.30 L189.98,102.80 L189.98,103.30 L189.98,103.80 L189.98,104.30 L189.98,104.81 L189.98,105.31 L189.98,105.81 L189.98,106.31 L189.98,106.81 L189.98,107.31 L189.98,107.81 L189.98,108.32 L189.98,108.82 L189.98,109.32 L189.98,109.82 L189.98,110.32 L189.97,110.82 L189.97,111.33 L189.96,111.83 L189.95,112.33 L189.94,112.83 L189.92,113.33 L189.91,113.83 L189.89,114.34 L189.87,114.84 L189.85,115.34 L189.83,115.84 L189.81,116.34 L189.78,116.84 L189.75,117.34 L189.73,117.85 L189.70,118.35 L189.67,118.85 L189.64,119.35 L189.61,119.85 L189.57,120.35 L189.52,120.86 L189.45,121.36 L189.38,121.86 L189.30,122.36 L189.21,122.86 L189.13,123.36 L189.06,123.87 L188.99,124.37 L188.93,124.87 L188.87,125.37 L188.81,125.87 L188.74,126.37 L188.69,126.87 L188.63,127.38 L188.58,127.88 L188.54,128.38 L188.51,128.88 L188.49,129.38 L188.48,129.88 L188.46,130.39 L188.45,130.89 L188.44,131.39 L188.42,131.89 L188.42,132.39 L188.41,132.89 L188.40,133.40 L188.40,133.90 L188.40,134.40 L188.42,134.90 L188.45,135.40 L188.49,135.90 L188.53,136.40 L188.58,136.91 L188.62,137.41 L188.66,137.91 L188.69,138.41 L188.70,138.91 L188.70,139.41 L188.70,139.92 L188.69,140.42 L188.68,140.92 L188.67,141.42 L188.65,141.92 L188.63,142.42 L188.62,142.93 L188.60,143.43 L188.55,143.93 L188.49,144.43 L188.40,144.93 L188.29,145.43 L188.18,145.93 L188.06,146.44 L187.95,146.94 L187.84,147.44 L187.74,147.94 L187.63,148.44 L187.53,148.94 L187.42,149.45 L187.31,149.95 L187.20,150.45 L187.10,150.95 L186.99,151.45 L186.89,151.95 L186.79,152.46 L186.70,152.96 L186.60,153.46 L186.51,153.96 L186.42,154.46 L186.33,154.96 L186.23,155.46 L186.14,155.97 L186.05,156.47 L185.95,156.97 L185.83,157.47 L185.71,157.97 L185.60,158.47 L185.50,158.98 L185.42,159.48 L185.37,159.98 L185.35,160.48 L185.35,160.98 L185.36,161.48 L185.37,161.99 L185.38,162.49 L185.40,162.99 L185.53,163.49 L185.79,163.99 L186.10,164.49 Z" fill="#00BA38" stroke="#1a1a1a" stroke-width="0.85" stroke-linejoin="round"/>
<g stroke="#222" stroke-width="0.6">
<line x1="190.10" y1="164.49" x2="190.10" y2="161.73" stroke="#222" stroke-width="0.6"/>
<line x1="190.10" y1="148.42" x2="190.10" y2="131.06" stroke="#222" stroke-width="0.6"/>
<rect x="188.30" y="148.42" width="3.60" height="13.31" fill="none" stroke="#222" stroke-width="0.6"/>
<line x1="188.30" y1="155.17" x2="191.90" y2="155.17" stroke="#222" stroke-width="1.0"/>
</g>
<path d="M205.30,164.49 L205.57,163.99 L205.81,163.49 L206.00,162.99 L206.09,162.49 L206.10,161.99 L206.08,161.49 L206.06,160.99 L206.03,160.49 L206.00,159.99 L205.96,159.48 L205.92,158.98 L205.89,158.48 L205.84,157.98 L205.78,157.48 L205.71,156.98 L205.63,156.48 L205.55,155.98 L205.47,155.48 L205.39,154.98 L205.31,154.47 L205.23,153.97 L205.16,153.47 L205.09,152.97 L205.01,152.47 L204.94,151.97 L204.87,151.47 L204.80,150.97 L204.72,150.47 L204.65,149.97 L204.58,149.47 L204.52,148.96 L204.45,148.46 L204.38,147.96 L204.32,147.46 L204.25,146.96 L204.19,146.46 L204.12,145.96 L204.06,145.46 L204.00,144.96 L203.93,144.46 L203.87,143.96 L203.81,143.45 L203.76,142.95 L203.70,142.45 L203.64,141.95 L203.58,141.45 L203.53,140.95 L203.47,140.45 L203.42,139.95 L203.36,139.45 L203.31,138.95 L203.26,138.45 L203.21,137.94 L203.17,137.44 L203.12,136.94 L203.08,136.44 L203.05,135.94 L203.01,135.44 L202.97,134.94 L202.93,134.44 L202.89,133.94 L202.85,133.44 L202.80,132.94 L202.76,132.43 L202.71,131.93 L202.66,131.43 L202.61,130.93 L202.55,130.43 L202.49,129.93 L202.43,129.43 L202.36,128.93 L202.26,128.43 L202.16,127.93 L202.05,127.43 L201.94,126.92 L201.84,126.42 L201.75,125.92 L201.69,125.42 L201.63,124.92 L201.58,124.42 L201.52,123.92 L201.47,123.42 L201.43,122.92 L201.38,122.42 L201.34,121.92 L201.30,121.41 L201.27,120.91 L201.24,120.41 L201.22,119.91 L201.21,119.41 L201.20,118.91 L201.20,118.41 L201.20,117.91 L201.19,117.41 L201.19,116.91 L201.19,116.41 L201.19,115.90 L201.19,115.40 L201.18,114.90 L201.18,114.40 L201.18,113.90 L201.18,113.40 L201.18,112.90 L201.18,112.40 L201.17,111.90 L201.17,111.40 L201.17,110.90 L201.17,110.39 L201.17,109.89 L201.17,109.39 L201.16,108.89 L201.16,108.39 L201.16,107.89 L201.16,107.39 L201.16,106.89 L201.16,106.39 L201.16,105.89 L201.16,105.39 L201.15,104.88 L201.15,104.38 L201.15,103.88 L201.15,103.38 L201.15,102.88 L201.15,102.38 L201.15,101.88 L201.15,101.38 L201.15,100.88 L201.14,100.38 L201.14,99.88 L201.14,99.37 L201.14,98.87 L201.14,98.37 L201.14,97.87 L201.14,97.37 L201.14,96.87 L201.14,96.37 L201.14,95.87 L201.14,95.37 L201.13,94.87 L201.13,94.36 L201.13,93.86 L201.13,93.36 L201.13,92.86 L201.13,92.36 L201.13,91.86 L201.13,91.36 L201.13,90.86 L201.13,90.36 L201.13,89.86 L201.13,89.36 L201.13,88.85 L201.13,88.35 L201.13,87.85 L201.13,87.35 L201.13,86.85 L201.13,86.35 L201.12,85.85 L201.12,85.35 L201.12,84.85 L201.12,84.35 L201.12,83.85 L201.12,83.34 L201.12,82.84 L201.12,82.34 L201.12,81.84 L201.12,81.34 L201.12,80.84 L201.12,80.34 L201.12,79.84 L201.12,79.34 L201.12,78.84 L201.12,78.34 L201.12,77.83 L201.12,77.33 L201.12,76.83 L201.12,76.33 L201.12,75.83 L201.12,75.33 L201.12,74.83 L201.12,74.33 L201.12,73.83 L201.12,73.33 L201.12,72.83 L201.12,72.32 L201.12,71.82 L201.12,71.32 L201.12,70.82 L201.12,70.32 L200.88,70.32 L200.88,70.82 L200.88,71.32 L200.88,71.82 L200.88,72.32 L200.88,72.83 L200.88,73.33 L200.88,73.83 L200.88,74.33 L200.88,74.83 L200.88,75.33 L200.88,75.83 L200.88,76.33 L200.88,76.83 L200.88,77.33 L200.88,77.83 L200.88,78.34 L200.88,78.84 L200.88,79.34 L200.88,79.84 L200.88,80.34 L200.88,80.84 L200.88,81.34 L200.88,81.84 L200.88,82.34 L200.88,82.84 L200.88,83.34 L200.88,83.85 L200.88,84.35 L200.88,84.85 L200.88,85.35 L200.88,85.85 L200.87,86.35 L200.87,86.85 L200.87,87.35 L200.87,87.85 L200.87,88.35 L200.87,88.85 L200.87,89.36 L200.87,89.86 L200.87,90.36 L200.87,90.86 L200.87,91.36 L200.87,91.86 L200.87,92.36 L200.87,92.86 L200.87,93.36 L200.87,93.86 L200.87,94.36 L200.87,94.87 L200.86,95.37 L200.86,95.87 L200.86,96.37 L200.86,96.87 L200.86,97.37 L200.86,97.87 L200.86,98.37 L200.86,98.87 L200.86,99.37 L200.86,99.88 L200.86,100.38 L200.85,100.88 L200.85,101.38 L200.85,101.88 L200.85,102.38 L200.85,102.88 L200.85,103.38 L200.85,103.88 L200.85,104.38 L200.85,104.88 L200.84,105.39 L200.84,105.89 L200.84,106.39 L200.84,106.89 L200.84,107.39 L200.84,107.89 L200.84,108.39 L200.84,108.89 L200.83,109.39 L200.83,109.89 L200.83,110.39 L200.83,110.90 L200.83,111.40 L200.83,111.90 L200.82,112.40 L200.82,112.90 L200.82,113.40 L200.82,113.90 L200.82,114.40 L200.82,114.90 L200.81,115.40 L200.81,115.90 L200.81,116.41 L200.81,116.91 L200.81,117.41 L200.80,117.91 L200.80,118.41 L200.80,118.91 L200.79,119.41 L200.78,119.91 L200.76,120.41 L200.73,120.91 L200.70,121.41 L200.66,121.92 L200.62,122.42 L200.57,122.92 L200.53,123.42 L200.48,123.92 L200.42,124.42 L200.37,124.92 L200.31,125.42 L200.25,125.92 L200.16,126.42 L200.06,126.92 L199.95,127.43 L199.84,127.93 L199.74,128.43 L199.64,128.93 L199.57,129.43 L199.51,129.93 L199.45,130.43 L199.39,130.93 L199.34,131.43 L199.29,131.93 L199.24,132.43 L199.20,132.94 L199.15,133.44 L199.11,133.94 L199.07,134.44 L199.03,134.94 L198.99,135.44 L198.95,135.94 L198.92,136.44 L198.88,136.94 L198.83,137.44 L198.79,137.94 L198.74,138.45 L198.69,138.95 L198.64,139.45 L198.58,139.95 L198.53,140.45 L198.47,140.95 L198.42,141.45 L198.36,141.95 L198.30,142.45 L198.24,142.95 L198.19,143.45 L198.13,143.96 L198.07,144.46 L198.00,144.96 L197.94,145.46 L197.88,145.96 L197.81,146.46 L197.75,146.96 L197.68,147.46 L197.62,147.96 L197.55,148.46 L197.48,148.96 L197.42,149.47 L197.35,149.97 L197.28,150.47 L197.20,150.97 L197.13,151.47 L197.06,151.97 L196.99,152.47 L196.91,152.97 L196.84,153.47 L196.77,153.97 L196.69,154.47 L196.61,154.98 L196.53,155.48 L196.45,155.98 L196.37,156.48 L196.29,156.98 L196.22,157.48 L196.16,157.98 L196.11,158.48 L196.08,158.98 L196.04,159.48 L196.00,159.99 L195.97,160.49 L195.94,160.99 L195.92,161.49 L195.90,161.99 L195.91,162.49 L196.00,162.99 L196.19,163.49 L196.43,163.99 L196.70,164.49 Z" fill="#619CFF" stroke="#1a1a1a" stroke-width="0.85" stroke-linejoin="round"/>
<g stroke="#222" stroke-width="0.6">
<line x1="201.00" y1="164.49" x2="201.00" y2="163.14" stroke="#222" stroke-width="0.6"/>
<line x1="201.00" y1="148.42" x2="201.00" y2="134.12" stroke="#222" stroke-width="0.6"/>
<rect x="199.20" y="148.42" width="3.60" height="14.72" fill="none" stroke="#222" stroke-width="0.6"/>
<line x1="199.20" y1="156.21" x2="202.80" y2="156.21" stroke="#222" stroke-width="1.0"/>
</g>
<line x1="44.90" y1="47.30" x2="44.90" y2="170.60" stroke="#111" stroke-width="1.1"/>
<line x1="44.40" y1="170.10" x2="214.20" y2="170.10" stroke="#111" stroke-width="1.1"/>
<line x1="42.40" y1="164.80" x2="44.90" y2="164.80" stroke="#111" stroke-width="1.0"/>
<text x="39.80" y="167.60" font-size="7.8" text-anchor="end" fill="#000" color="#000">0%</text>
<line x1="42.40" y1="149.46" x2="44.90" y2="149.46" stroke="#111" stroke-width="1.0"/>
<text x="39.80" y="152.26" font-size="7.8" text-anchor="end" fill="#000" color="#000">25%</text>
<line x1="42.40" y1="134.12" x2="44.90" y2="134.12" stroke="#111" stroke-width="1.0"/>
<text x="39.80" y="136.93" font-size="7.8" text-anchor="end" fill="#000" color="#000">50%</text>
<line x1="42.40" y1="118.79" x2="44.90" y2="118.79" stroke="#111" stroke-width="1.0"/>
<text x="39.80" y="121.59" font-size="7.8" text-anchor="end" fill="#000" color="#000">75%</text>
<line x1="42.40" y1="103.45" x2="44.90" y2="103.45" stroke="#111" stroke-width="1.0"/>
<text x="39.80" y="106.25" font-size="7.8" text-anchor="end" fill="#000" color="#000">100%</text>
<line x1="42.40" y1="88.11" x2="44.90" y2="88.11" stroke="#111" stroke-width="1.0"/>
<text x="39.80" y="90.91" font-size="7.8" text-anchor="end" fill="#000" color="#000">125%</text>
<line x1="42.40" y1="72.78" x2="44.90" y2="72.78" stroke="#111" stroke-width="1.0"/>
<text x="39.80" y="75.58" font-size="7.8" text-anchor="end" fill="#000" color="#000">150%</text>
<line x1="69.20" y1="170.10" x2="69.20" y2="172.60" stroke="#111" stroke-width="1.0"/>
<text x="69.20" y="180.90" font-size="7.8" text-anchor="middle" fill="#000" color="#000">10</text>
<line x1="109.50" y1="170.10" x2="109.50" y2="172.60" stroke="#111" stroke-width="1.0"/>
<text x="109.50" y="180.90" font-size="7.8" text-anchor="middle" fill="#000" color="#000">20</text>
<line x1="149.80" y1="170.10" x2="149.80" y2="172.60" stroke="#111" stroke-width="1.0"/>
<text x="149.80" y="180.90" font-size="7.8" text-anchor="middle" fill="#000" color="#000">40</text>
<line x1="190.10" y1="170.10" x2="190.10" y2="172.60" stroke="#111" stroke-width="1.0"/>
<text x="190.10" y="180.90" font-size="7.8" text-anchor="middle" fill="#000" color="#000">80</text>
<text x="127.90" y="194.50" font-size="9.9" text-anchor="middle" font-weight="bold" fill="#000" color="#000">Bovine histone standard (pg)</text>
<text x="12.60" y="108.80" font-size="9.9" text-anchor="middle" font-weight="bold" fill="#000" color="#000" transform="rotate(-90 12.60 108.80)">Coefficient of Variation</text>
<text x="45.20" y="19.40" font-size="9.85" text-anchor="start" fill="#000" color="#000">Within Batch (intra-)</text>
<text x="84.60" y="35.20" font-size="9.7" text-anchor="start" font-style="italic" fill="#000" color="#000">Batch</text>
<rect x="117.70" y="27.20" width="10.40" height="10.20" fill="#F8766D" stroke="#333" stroke-width="0.5"/>
<line x1="122.90" y1="27.20" x2="122.90" y2="29.40" stroke="#333" stroke-width="0.5"/>
<line x1="122.90" y1="35.20" x2="122.90" y2="37.40" stroke="#333" stroke-width="0.5"/>
<rect x="119.20" y="29.4" width="7.4" height="5.8" fill="none" stroke="#333" stroke-width="0.5"/>
<line x1="119.20" y1="32.30" x2="126.60" y2="32.30" stroke="#333" stroke-width="0.8"/>
<text x="133.20" y="35.30" font-size="7.7" text-anchor="start" fill="#222" color="#222">1</text>
<rect x="142.70" y="27.20" width="10.40" height="10.20" fill="#00BA38" stroke="#333" stroke-width="0.5"/>
<line x1="147.90" y1="27.20" x2="147.90" y2="29.40" stroke="#333" stroke-width="0.5"/>
<line x1="147.90" y1="35.20" x2="147.90" y2="37.40" stroke="#333" stroke-width="0.5"/>
<rect x="144.20" y="29.4" width="7.4" height="5.8" fill="none" stroke="#333" stroke-width="0.5"/>
<line x1="144.20" y1="32.30" x2="151.60" y2="32.30" stroke="#333" stroke-width="0.8"/>
<text x="158.20" y="35.30" font-size="7.7" text-anchor="start" fill="#222" color="#222">2</text>
<rect x="168.00" y="27.20" width="10.40" height="10.20" fill="#619CFF" stroke="#333" stroke-width="0.5"/>
<line x1="173.20" y1="27.20" x2="173.20" y2="29.40" stroke="#333" stroke-width="0.5"/>
<line x1="173.20" y1="35.20" x2="173.20" y2="37.40" stroke="#333" stroke-width="0.5"/>
<rect x="169.50" y="29.4" width="7.4" height="5.8" fill="none" stroke="#333" stroke-width="0.5"/>
<line x1="169.50" y1="32.30" x2="176.90" y2="32.30" stroke="#333" stroke-width="0.8"/>
<text x="183.50" y="35.30" font-size="7.7" text-anchor="start" fill="#222" color="#222">3</text>
<text x="6.00" y="14.50" font-size="18.6" text-anchor="start" font-weight="bold" fill="#000" color="#000">A</text>
<line x1="269.30" y1="167.80" x2="438.60" y2="167.80" stroke="#EBEBEB" stroke-width="0.9"/>
<line x1="269.30" y1="145.19" x2="438.60" y2="145.19" stroke="#EBEBEB" stroke-width="0.9"/>
<line x1="269.30" y1="122.58" x2="438.60" y2="122.58" stroke="#EBEBEB" stroke-width="0.9"/>
<line x1="269.30" y1="99.96" x2="438.60" y2="99.96" stroke="#EBEBEB" stroke-width="0.9"/>
<line x1="269.30" y1="77.35" x2="438.60" y2="77.35" stroke="#EBEBEB" stroke-width="0.9"/>
<line x1="269.30" y1="54.74" x2="438.60" y2="54.74" stroke="#EBEBEB" stroke-width="0.9"/>
<line x1="269.30" y1="32.13" x2="438.60" y2="32.13" stroke="#EBEBEB" stroke-width="0.9"/>
<line x1="293.40" y1="30.20" x2="293.40" y2="173.90" stroke="#EBEBEB" stroke-width="0.9"/>
<line x1="333.80" y1="30.20" x2="333.80" y2="173.90" stroke="#EBEBEB" stroke-width="0.9"/>
<line x1="374.10" y1="30.20" x2="374.10" y2="173.90" stroke="#EBEBEB" stroke-width="0.9"/>
<line x1="414.50" y1="30.20" x2="414.50" y2="173.90" stroke="#EBEBEB" stroke-width="0.9"/>
<path d="M305.90,167.44 L306.77,166.93 L307.50,166.43 L307.94,165.93 L308.19,165.42 L308.41,164.92 L308.59,164.41 L308.72,163.91 L308.79,163.41 L308.80,162.90 L308.79,162.40 L308.77,161.89 L308.75,161.39 L308.72,160.89 L308.69,160.38 L308.64,159.88 L308.58,159.38 L308.50,158.87 L308.41,158.37 L308.30,157.86 L308.17,157.36 L308.00,156.86 L307.80,156.35 L307.57,155.85 L307.31,155.34 L307.03,154.84 L306.74,154.34 L306.44,153.83 L306.13,153.33 L305.83,152.82 L305.52,152.32 L305.16,151.82 L304.77,151.31 L304.38,150.81 L304.03,150.30 L303.74,149.80 L303.52,149.30 L303.32,148.79 L303.15,148.29 L303.00,147.78 L302.90,147.28 L302.83,146.78 L302.77,146.27 L302.72,145.77 L302.67,145.27 L302.63,144.76 L302.60,144.26 L302.57,143.75 L302.54,143.25 L302.52,142.75 L302.50,142.24 L302.48,141.74 L302.46,141.23 L302.43,140.73 L302.39,140.23 L302.34,139.72 L302.28,139.22 L302.21,138.71 L302.14,138.21 L302.06,137.71 L301.99,137.20 L301.92,136.70 L301.84,136.19 L301.75,135.69 L301.65,135.19 L301.53,134.68 L301.38,134.18 L301.20,133.67 L301.01,133.17 L300.79,132.67 L300.56,132.16 L300.33,131.66 L300.10,131.15 L299.86,130.65 L299.64,130.15 L299.43,129.64 L299.22,129.14 L299.00,128.64 L298.78,128.13 L298.57,127.63 L298.36,127.12 L298.16,126.62 L297.97,126.12 L297.79,125.61 L297.61,125.11 L297.44,124.60 L297.27,124.10 L297.12,123.60 L296.97,123.09 L296.83,122.59 L296.71,122.08 L296.59,121.58 L296.48,121.08 L296.37,120.57 L296.25,120.07 L296.12,119.56 L295.99,119.06 L295.85,118.56 L295.70,118.05 L291.10,118.05 L290.95,118.56 L290.81,119.06 L290.68,119.56 L290.55,120.07 L290.43,120.57 L290.32,121.08 L290.21,121.58 L290.09,122.08 L289.97,122.59 L289.83,123.09 L289.68,123.60 L289.53,124.10 L289.36,124.60 L289.19,125.11 L289.01,125.61 L288.83,126.12 L288.64,126.62 L288.44,127.12 L288.23,127.63 L288.02,128.13 L287.80,128.64 L287.58,129.14 L287.37,129.64 L287.16,130.15 L286.94,130.65 L286.70,131.15 L286.47,131.66 L286.24,132.16 L286.01,132.67 L285.79,133.17 L285.60,133.67 L285.42,134.18 L285.27,134.68 L285.15,135.19 L285.05,135.69 L284.96,136.19 L284.88,136.70 L284.81,137.20 L284.74,137.71 L284.66,138.21 L284.59,138.71 L284.52,139.22 L284.46,139.72 L284.41,140.23 L284.37,140.73 L284.34,141.23 L284.32,141.74 L284.30,142.24 L284.28,142.75 L284.26,143.25 L284.23,143.75 L284.20,144.26 L284.17,144.76 L284.13,145.27 L284.08,145.77 L284.03,146.27 L283.97,146.78 L283.90,147.28 L283.80,147.78 L283.65,148.29 L283.48,148.79 L283.28,149.30 L283.06,149.80 L282.77,150.30 L282.42,150.81 L282.03,151.31 L281.64,151.82 L281.28,152.32 L280.97,152.82 L280.67,153.33 L280.36,153.83 L280.06,154.34 L279.77,154.84 L279.49,155.34 L279.23,155.85 L279.00,156.35 L278.80,156.86 L278.63,157.36 L278.50,157.86 L278.39,158.37 L278.30,158.87 L278.22,159.38 L278.16,159.88 L278.11,160.38 L278.08,160.89 L278.05,161.39 L278.03,161.89 L278.01,162.40 L278.00,162.90 L278.01,163.41 L278.08,163.91 L278.21,164.41 L278.39,164.92 L278.61,165.42 L278.86,165.93 L279.30,166.43 L280.03,166.93 L280.90,167.44 Z" fill="#fff" stroke="#222" stroke-width="0.8" stroke-linejoin="round"/>
<g stroke="#222" stroke-width="0.75">
<line x1="293.40" y1="167.44" x2="293.40" y2="163.10" stroke="#222" stroke-width="0.75"/>
<line x1="293.40" y1="141.48" x2="293.40" y2="118.50" stroke="#222" stroke-width="0.75"/>
<rect x="288.30" y="141.48" width="10.20" height="21.62" fill="none" stroke="#222" stroke-width="0.75"/>
<line x1="288.30" y1="156.13" x2="298.50" y2="156.13" stroke="#222" stroke-width="1.2"/>
</g>
<path d="M346.80,167.44 L347.56,166.93 L348.19,166.43 L348.66,165.92 L349.06,165.42 L349.29,164.91 L349.30,164.41 L349.28,163.90 L349.26,163.39 L349.23,162.89 L349.20,162.38 L349.15,161.88 L349.07,161.37 L348.98,160.87 L348.86,160.36 L348.75,159.86 L348.62,159.35 L348.49,158.84 L348.35,158.34 L348.19,157.83 L348.02,157.33 L347.84,156.82 L347.65,156.32 L347.46,155.81 L347.26,155.31 L347.05,154.80 L346.84,154.29 L346.62,153.79 L346.40,153.28 L346.18,152.78 L345.95,152.27 L345.70,151.77 L345.43,151.26 L345.15,150.76 L344.88,150.25 L344.62,149.75 L344.37,149.24 L344.14,148.73 L343.92,148.23 L343.70,147.72 L343.48,147.22 L343.24,146.71 L342.98,146.21 L342.69,145.70 L342.36,145.20 L341.97,144.69 L341.54,144.18 L341.08,143.68 L340.62,143.17 L340.17,142.67 L339.74,142.16 L339.30,141.66 L338.88,141.15 L338.46,140.65 L338.08,140.14 L337.69,139.63 L337.32,139.13 L336.97,138.62 L336.68,138.12 L336.45,137.61 L336.23,137.11 L336.03,136.60 L335.86,136.10 L335.71,135.59 L335.61,135.09 L335.52,134.58 L335.44,134.07 L335.38,133.57 L335.32,133.06 L335.27,132.56 L335.23,132.05 L335.20,131.55 L335.17,131.04 L335.14,130.54 L335.11,130.03 L335.09,129.52 L335.06,129.02 L335.04,128.51 L335.03,128.01 L335.01,127.50 L335.00,127.00 L335.00,126.49 L335.01,125.99 L335.04,125.48 L335.09,124.97 L335.14,124.47 L335.18,123.96 L335.20,123.46 L335.20,122.95 L335.20,122.45 L335.20,121.94 L332.40,121.94 L332.40,122.45 L332.40,122.95 L332.40,123.46 L332.42,123.96 L332.46,124.47 L332.51,124.97 L332.56,125.48 L332.59,125.99 L332.60,126.49 L332.60,127.00 L332.59,127.50 L332.57,128.01 L332.56,128.51 L332.54,129.02 L332.51,129.52 L332.49,130.03 L332.46,130.54 L332.43,131.04 L332.40,131.55 L332.37,132.05 L332.33,132.56 L332.28,133.06 L332.22,133.57 L332.16,134.07 L332.08,134.58 L331.99,135.09 L331.89,135.59 L331.74,136.10 L331.57,136.60 L331.37,137.11 L331.15,137.61 L330.92,138.12 L330.63,138.62 L330.28,139.13 L329.91,139.63 L329.52,140.14 L329.14,140.65 L328.72,141.15 L328.30,141.66 L327.86,142.16 L327.43,142.67 L326.98,143.17 L326.52,143.68 L326.06,144.18 L325.63,144.69 L325.24,145.20 L324.91,145.70 L324.62,146.21 L324.36,146.71 L324.12,147.22 L323.90,147.72 L323.68,148.23 L323.46,148.73 L323.23,149.24 L322.98,149.75 L322.72,150.25 L322.45,150.76 L322.17,151.26 L321.90,151.77 L321.65,152.27 L321.42,152.78 L321.20,153.28 L320.98,153.79 L320.76,154.29 L320.55,154.80 L320.34,155.31 L320.14,155.81 L319.95,156.32 L319.76,156.82 L319.58,157.33 L319.41,157.83 L319.25,158.34 L319.11,158.84 L318.98,159.35 L318.85,159.86 L318.74,160.36 L318.62,160.87 L318.53,161.37 L318.45,161.88 L318.40,162.38 L318.37,162.89 L318.34,163.39 L318.32,163.90 L318.30,164.41 L318.31,164.91 L318.54,165.42 L318.94,165.92 L319.41,166.43 L320.04,166.93 L320.80,167.44 Z" fill="#fff" stroke="#222" stroke-width="0.8" stroke-linejoin="round"/>
<g stroke="#222" stroke-width="0.75">
<line x1="333.80" y1="167.44" x2="333.80" y2="164.54" stroke="#222" stroke-width="0.75"/>
<line x1="333.80" y1="151.34" x2="333.80" y2="134.33" stroke="#222" stroke-width="0.75"/>
<rect x="328.70" y="151.34" width="10.20" height="13.21" fill="none" stroke="#222" stroke-width="0.75"/>
<line x1="328.70" y1="159.66" x2="338.90" y2="159.66" stroke="#222" stroke-width="1.2"/>
</g>
<path d="M387.10,167.44 L387.76,166.94 L388.31,166.43 L388.75,165.93 L389.15,165.43 L389.39,164.92 L389.38,164.42 L389.31,163.92 L389.19,163.41 L389.05,162.91 L388.91,162.41 L388.74,161.91 L388.53,161.40 L388.29,160.90 L388.04,160.40 L387.80,159.89 L387.59,159.39 L387.38,158.89 L387.18,158.39 L386.98,157.88 L386.78,157.38 L386.58,156.88 L386.39,156.37 L386.20,155.87 L386.00,155.37 L385.81,154.86 L385.61,154.36 L385.41,153.86 L385.21,153.36 L385.00,152.85 L384.79,152.35 L384.58,151.85 L384.37,151.34 L384.15,150.84 L383.94,150.34 L383.72,149.84 L383.50,149.33 L383.28,148.83 L383.06,148.33 L382.83,147.82 L382.61,147.32 L382.38,146.82 L382.15,146.32 L381.92,145.81 L381.69,145.31 L381.45,144.81 L381.21,144.30 L380.97,143.80 L380.73,143.30 L380.48,142.79 L380.24,142.29 L380.00,141.79 L379.77,141.29 L379.54,140.78 L379.31,140.28 L379.09,139.78 L378.86,139.27 L378.63,138.77 L378.39,138.27 L378.14,137.77 L377.87,137.26 L377.61,136.76 L377.36,136.26 L377.12,135.75 L376.90,135.25 L376.70,134.75 L376.50,134.24 L376.30,133.74 L376.11,133.24 L375.95,132.74 L375.82,132.23 L375.72,131.73 L375.67,131.23 L375.63,130.72 L375.60,130.22 L375.57,129.72 L375.54,129.22 L375.52,128.71 L375.50,128.21 L375.48,127.71 L375.45,127.20 L375.43,126.70 L375.39,126.20 L375.36,125.69 L375.31,125.19 L375.27,124.69 L375.22,124.19 L375.18,123.68 L375.14,123.18 L375.11,122.68 L375.08,122.17 L375.05,121.67 L375.02,121.17 L375.00,120.67 L374.97,120.16 L374.95,119.66 L374.93,119.16 L374.92,118.65 L374.90,118.15 L374.90,117.65 L374.90,117.14 L374.90,116.64 L374.91,116.14 L374.91,115.64 L374.92,115.13 L374.93,114.63 L374.94,114.13 L374.95,113.62 L374.96,113.12 L374.98,112.62 L374.99,112.12 L375.00,111.61 L375.02,111.11 L375.05,110.61 L375.08,110.10 L375.11,109.60 L375.15,109.10 L373.05,109.10 L373.09,109.60 L373.12,110.10 L373.15,110.61 L373.18,111.11 L373.20,111.61 L373.21,112.12 L373.22,112.62 L373.24,113.12 L373.25,113.62 L373.26,114.13 L373.27,114.63 L373.28,115.13 L373.29,115.64 L373.29,116.14 L373.30,116.64 L373.30,117.14 L373.30,117.65 L373.30,118.15 L373.28,118.65 L373.27,119.16 L373.25,119.66 L373.23,120.16 L373.20,120.67 L373.18,121.17 L373.15,121.67 L373.12,122.17 L373.09,122.68 L373.06,123.18 L373.02,123.68 L372.98,124.19 L372.93,124.69 L372.89,125.19 L372.84,125.69 L372.81,126.20 L372.77,126.70 L372.75,127.20 L372.72,127.71 L372.70,128.21 L372.68,128.71 L372.66,129.22 L372.63,129.72 L372.60,130.22 L372.57,130.72 L372.53,131.23 L372.48,131.73 L372.38,132.23 L372.25,132.74 L372.09,133.24 L371.90,133.74 L371.70,134.24 L371.50,134.75 L371.30,135.25 L371.08,135.75 L370.84,136.26 L370.59,136.76 L370.33,137.26 L370.06,137.77 L369.81,138.27 L369.57,138.77 L369.34,139.27 L369.11,139.78 L368.89,140.28 L368.66,140.78 L368.43,141.29 L368.20,141.79 L367.96,142.29 L367.72,142.79 L367.47,143.30 L367.23,143.80 L366.99,144.30 L366.75,144.81 L366.51,145.31 L366.28,145.81 L366.05,146.32 L365.82,146.82 L365.59,147.32 L365.37,147.82 L365.14,148.33 L364.92,148.83 L364.70,149.33 L364.48,149.84 L364.26,150.34 L364.05,150.84 L363.83,151.34 L363.62,151.85 L363.41,152.35 L363.20,152.85 L362.99,153.36 L362.79,153.86 L362.59,154.36 L362.39,154.86 L362.20,155.37 L362.00,155.87 L361.81,156.37 L361.62,156.88 L361.42,157.38 L361.22,157.88 L361.02,158.39 L360.82,158.89 L360.61,159.39 L360.40,159.89 L360.16,160.40 L359.91,160.90 L359.67,161.40 L359.46,161.91 L359.29,162.41 L359.15,162.91 L359.01,163.41 L358.89,163.92 L358.82,164.42 L358.81,164.92 L359.05,165.43 L359.45,165.93 L359.89,166.43 L360.44,166.94 L361.10,167.44 Z" fill="#fff" stroke="#222" stroke-width="0.8" stroke-linejoin="round"/>
<g stroke="#222" stroke-width="0.75">
<line x1="374.10" y1="167.44" x2="374.10" y2="165.18" stroke="#222" stroke-width="0.75"/>
<line x1="374.10" y1="150.52" x2="374.10" y2="131.62" stroke="#222" stroke-width="0.75"/>
<rect x="369.00" y="150.52" width="10.20" height="14.65" fill="none" stroke="#222" stroke-width="0.75"/>
<line x1="369.00" y1="159.21" x2="379.20" y2="159.21" stroke="#222" stroke-width="1.2"/>
</g>
<path d="M427.00,167.44 L427.72,166.94 L428.34,166.44 L428.73,165.93 L428.98,165.43 L429.21,164.93 L429.40,164.43 L429.57,163.93 L429.69,163.43 L429.77,162.93 L429.80,162.43 L429.79,161.93 L429.75,161.42 L429.70,160.92 L429.62,160.42 L429.54,159.92 L429.44,159.42 L429.33,158.92 L429.22,158.42 L429.11,157.92 L429.00,157.42 L428.86,156.91 L428.71,156.41 L428.54,155.91 L428.36,155.41 L428.17,154.91 L427.97,154.41 L427.75,153.91 L427.54,153.41 L427.32,152.91 L427.09,152.40 L426.86,151.90 L426.61,151.40 L426.36,150.90 L426.08,150.40 L425.80,149.90 L425.51,149.40 L425.21,148.90 L424.90,148.40 L424.58,147.89 L424.26,147.39 L423.93,146.89 L423.58,146.39 L423.22,145.89 L422.83,145.39 L422.44,144.89 L422.03,144.39 L421.63,143.89 L421.22,143.38 L420.82,142.88 L420.43,142.38 L420.02,141.88 L419.60,141.38 L419.18,140.88 L418.77,140.38 L418.38,139.88 L418.02,139.38 L417.71,138.87 L417.43,138.37 L417.17,137.87 L416.92,137.37 L416.69,136.87 L416.48,136.37 L416.29,135.87 L416.14,135.37 L416.00,134.87 L415.89,134.36 L415.78,133.86 L415.69,133.36 L415.60,132.86 L415.52,132.36 L415.44,131.86 L415.36,131.36 L415.27,130.86 L415.18,130.36 L415.09,129.85 L415.01,129.35 L414.93,128.85 L414.87,128.35 L414.83,127.85 L414.80,127.35 L414.80,126.85 L414.80,126.35 L414.80,125.85 L414.80,125.34 L414.80,124.84 L414.80,124.34 L414.80,123.84 L414.80,123.34 L414.80,122.84 L414.80,122.34 L414.80,121.84 L414.80,121.34 L414.80,120.83 L414.80,120.33 L414.80,119.83 L414.81,119.33 L414.85,118.83 L414.91,118.33 L414.98,117.83 L415.06,117.33 L415.15,116.83 L415.24,116.32 L415.34,115.82 L415.44,115.32 L415.52,114.82 L415.60,114.32 L415.67,113.82 L415.72,113.32 L415.77,112.82 L415.82,112.32 L415.87,111.81 L415.92,111.31 L415.97,110.81 L416.01,110.31 L416.04,109.81 L416.07,109.31 L416.09,108.81 L416.10,108.31 L416.10,107.81 L416.08,107.30 L416.05,106.80 L416.01,106.30 L415.97,105.80 L415.91,105.30 L415.85,104.80 L415.79,104.30 L415.73,103.80 L415.66,103.30 L415.56,102.79 L415.44,102.29 L415.31,101.79 L415.17,101.29 L415.04,100.79 L414.93,100.29 L414.85,99.79 L414.81,99.29 L414.80,98.79 L414.80,98.28 L414.80,97.78 L414.80,97.28 L414.80,96.78 L414.80,96.28 L414.80,95.78 L414.80,95.28 L414.80,94.78 L414.80,94.28 L414.80,93.77 L414.80,93.27 L414.80,92.77 L414.80,92.27 L414.80,91.77 L414.80,91.27 L414.80,90.77 L414.80,90.27 L414.80,89.77 L414.80,89.26 L414.80,88.76 L414.80,88.26 L414.80,87.76 L414.80,87.26 L414.80,86.76 L414.80,86.26 L414.80,85.76 L414.80,85.26 L414.80,84.75 L414.80,84.25 L414.80,83.75 L414.82,83.25 L414.88,82.75 L414.97,82.25 L415.07,81.75 L415.19,81.25 L415.30,80.75 L415.40,80.24 L415.47,79.74 L415.50,79.24 L415.48,78.74 L415.43,78.24 L415.34,77.74 L415.23,77.24 L415.11,76.74 L415.00,76.24 L414.90,75.73 L414.83,75.23 L414.80,74.73 L414.80,74.23 L414.80,73.73 L414.80,73.23 L414.80,72.73 L414.80,72.23 L414.80,71.73 L414.80,71.22 L414.80,70.72 L414.80,70.22 L414.80,69.72 L414.80,69.22 L414.80,68.72 L414.80,68.22 L414.80,67.72 L414.80,67.22 L414.80,66.71 L414.80,66.21 L414.80,65.71 L414.80,65.21 L414.80,64.71 L414.80,64.21 L414.80,63.71 L414.80,63.21 L414.80,62.71 L414.80,62.20 L414.80,61.70 L414.80,61.20 L414.80,60.70 L414.80,60.20 L414.80,59.70 L414.80,59.20 L414.80,58.70 L414.80,58.20 L414.80,57.69 L414.81,57.19 L414.85,56.69 L414.93,56.19 L415.03,55.69 L415.14,55.19 L415.24,54.69 L415.33,54.19 L415.38,53.69 L415.40,53.18 L415.36,52.68 L415.29,52.18 L415.19,51.68 L415.07,51.18 L414.96,50.68 L414.87,50.18 L414.81,49.68 L414.80,49.18 L414.80,48.67 L414.80,48.17 L414.80,47.67 L414.80,47.17 L414.80,46.67 L414.80,46.17 L414.80,45.67 L414.80,45.17 L414.80,44.67 L414.80,44.16 L414.80,43.66 L414.80,43.16 L414.80,42.66 L414.80,42.16 L414.80,41.66 L414.80,41.16 L414.82,40.66 L414.86,40.16 L414.93,39.65 L415.02,39.15 L415.12,38.65 L415.23,38.15 L415.35,37.65 L415.48,37.15 L415.60,36.65 L413.40,36.65 L413.52,37.15 L413.65,37.65 L413.77,38.15 L413.88,38.65 L413.98,39.15 L414.07,39.65 L414.14,40.16 L414.18,40.66 L414.20,41.16 L414.20,41.66 L414.20,42.16 L414.20,42.66 L414.20,43.16 L414.20,43.66 L414.20,44.16 L414.20,44.67 L414.20,45.17 L414.20,45.67 L414.20,46.17 L414.20,46.67 L414.20,47.17 L414.20,47.67 L414.20,48.17 L414.20,48.67 L414.20,49.18 L414.19,49.68 L414.13,50.18 L414.04,50.68 L413.93,51.18 L413.81,51.68 L413.71,52.18 L413.64,52.68 L413.60,53.18 L413.62,53.69 L413.67,54.19 L413.76,54.69 L413.86,55.19 L413.97,55.69 L414.07,56.19 L414.15,56.69 L414.19,57.19 L414.20,57.69 L414.20,58.20 L414.20,58.70 L414.20,59.20 L414.20,59.70 L414.20,60.20 L414.20,60.70 L414.20,61.20 L414.20,61.70 L414.20,62.20 L414.20,62.71 L414.20,63.21 L414.20,63.71 L414.20,64.21 L414.20,64.71 L414.20,65.21 L414.20,65.71 L414.20,66.21 L414.20,66.71 L414.20,67.22 L414.20,67.72 L414.20,68.22 L414.20,68.72 L414.20,69.22 L414.20,69.72 L414.20,70.22 L414.20,70.72 L414.20,71.22 L414.20,71.73 L414.20,72.23 L414.20,72.73 L414.20,73.23 L414.20,73.73 L414.20,74.23 L414.20,74.73 L414.17,75.23 L414.10,75.73 L414.00,76.24 L413.89,76.74 L413.77,77.24 L413.66,77.74 L413.57,78.24 L413.52,78.74 L413.50,79.24 L413.53,79.74 L413.60,80.24 L413.70,80.75 L413.81,81.25 L413.93,81.75 L414.03,82.25 L414.12,82.75 L414.18,83.25 L414.20,83.75 L414.20,84.25 L414.20,84.75 L414.20,85.26 L414.20,85.76 L414.20,86.26 L414.20,86.76 L414.20,87.26 L414.20,87.76 L414.20,88.26 L414.20,88.76 L414.20,89.26 L414.20,89.77 L414.20,90.27 L414.20,90.77 L414.20,91.27 L414.20,91.77 L414.20,92.27 L414.20,92.77 L414.20,93.27 L414.20,93.77 L414.20,94.28 L414.20,94.78 L414.20,95.28 L414.20,95.78 L414.20,96.28 L414.20,96.78 L414.20,97.28 L414.20,97.78 L414.20,98.28 L414.20,98.79 L414.19,99.29 L414.15,99.79 L414.07,100.29 L413.96,100.79 L413.83,101.29 L413.69,101.79 L413.56,102.29 L413.44,102.79 L413.34,103.30 L413.27,103.80 L413.21,104.30 L413.15,104.80 L413.09,105.30 L413.03,105.80 L412.99,106.30 L412.95,106.80 L412.92,107.30 L412.90,107.81 L412.90,108.31 L412.91,108.81 L412.93,109.31 L412.96,109.81 L412.99,110.31 L413.03,110.81 L413.08,111.31 L413.13,111.81 L413.18,112.32 L413.23,112.82 L413.28,113.32 L413.33,113.82 L413.40,114.32 L413.48,114.82 L413.56,115.32 L413.66,115.82 L413.76,116.32 L413.85,116.83 L413.94,117.33 L414.02,117.83 L414.09,118.33 L414.15,118.83 L414.19,119.33 L414.20,119.83 L414.20,120.33 L414.20,120.83 L414.20,121.34 L414.20,121.84 L414.20,122.34 L414.20,122.84 L414.20,123.34 L414.20,123.84 L414.20,124.34 L414.20,124.84 L414.20,125.34 L414.20,125.85 L414.20,126.35 L414.20,126.85 L414.20,127.35 L414.17,127.85 L414.13,128.35 L414.07,128.85 L413.99,129.35 L413.91,129.85 L413.82,130.36 L413.73,130.86 L413.64,131.36 L413.56,131.86 L413.48,132.36 L413.40,132.86 L413.31,133.36 L413.22,133.86 L413.11,134.36 L413.00,134.87 L412.86,135.37 L412.71,135.87 L412.52,136.37 L412.31,136.87 L412.08,137.37 L411.83,137.87 L411.57,138.37 L411.29,138.87 L410.98,139.38 L410.62,139.88 L410.23,140.38 L409.82,140.88 L409.40,141.38 L408.98,141.88 L408.57,142.38 L408.18,142.88 L407.78,143.38 L407.37,143.89 L406.97,144.39 L406.56,144.89 L406.17,145.39 L405.78,145.89 L405.42,146.39 L405.07,146.89 L404.74,147.39 L404.42,147.89 L404.10,148.40 L403.79,148.90 L403.49,149.40 L403.20,149.90 L402.92,150.40 L402.64,150.90 L402.39,151.40 L402.14,151.90 L401.91,152.40 L401.68,152.91 L401.46,153.41 L401.25,153.91 L401.03,154.41 L400.83,154.91 L400.64,155.41 L400.46,155.91 L400.29,156.41 L400.14,156.91 L400.00,157.42 L399.89,157.92 L399.78,158.42 L399.67,158.92 L399.56,159.42 L399.46,159.92 L399.38,160.42 L399.30,160.92 L399.25,161.42 L399.21,161.93 L399.20,162.43 L399.23,162.93 L399.31,163.43 L399.43,163.93 L399.60,164.43 L399.79,164.93 L400.02,165.43 L400.27,165.93 L400.66,166.44 L401.28,166.94 L402.00,167.44 Z" fill="#fff" stroke="#222" stroke-width="0.8" stroke-linejoin="round"/>
<g stroke="#222" stroke-width="0.75">
<line x1="414.50" y1="167.44" x2="414.50" y2="162.01" stroke="#222" stroke-width="0.75"/>
<line x1="414.50" y1="146.54" x2="414.50" y2="139.13" stroke="#222" stroke-width="0.75"/>
<rect x="409.40" y="146.54" width="10.20" height="15.47" fill="none" stroke="#222" stroke-width="0.75"/>
<line x1="409.40" y1="153.51" x2="419.60" y2="153.51" stroke="#222" stroke-width="1.2"/>
</g>
<line x1="269.30" y1="30.20" x2="269.30" y2="174.40" stroke="#111" stroke-width="1.1"/>
<line x1="268.80" y1="173.90" x2="438.60" y2="173.90" stroke="#111" stroke-width="1.1"/>
<line x1="266.80" y1="167.80" x2="269.30" y2="167.80" stroke="#111" stroke-width="1.0"/>
<text x="264.30" y="170.60" font-size="7.8" text-anchor="end" fill="#000" color="#000">0%</text>
<line x1="266.80" y1="145.19" x2="269.30" y2="145.19" stroke="#111" stroke-width="1.0"/>
<text x="264.30" y="147.99" font-size="7.8" text-anchor="end" fill="#000" color="#000">25%</text>
<line x1="266.80" y1="122.58" x2="269.30" y2="122.58" stroke="#111" stroke-width="1.0"/>
<text x="264.30" y="125.38" font-size="7.8" text-anchor="end" fill="#000" color="#000">50%</text>
<line x1="266.80" y1="99.96" x2="269.30" y2="99.96" stroke="#111" stroke-width="1.0"/>
<text x="264.30" y="102.76" font-size="7.8" text-anchor="end" fill="#000" color="#000">75%</text>
<line x1="266.80" y1="77.35" x2="269.30" y2="77.35" stroke="#111" stroke-width="1.0"/>
<text x="264.30" y="80.15" font-size="7.8" text-anchor="end" fill="#000" color="#000">100%</text>
<line x1="266.80" y1="54.74" x2="269.30" y2="54.74" stroke="#111" stroke-width="1.0"/>
<text x="264.30" y="57.54" font-size="7.8" text-anchor="end" fill="#000" color="#000">125%</text>
<line x1="266.80" y1="32.13" x2="269.30" y2="32.13" stroke="#111" stroke-width="1.0"/>
<text x="264.30" y="34.93" font-size="7.8" text-anchor="end" fill="#000" color="#000">150%</text>
<line x1="293.40" y1="173.90" x2="293.40" y2="176.40" stroke="#111" stroke-width="1.0"/>
<text x="293.40" y="184.20" font-size="7.8" text-anchor="middle" fill="#000" color="#000">10</text>
<line x1="333.80" y1="173.90" x2="333.80" y2="176.40" stroke="#111" stroke-width="1.0"/>
<text x="333.80" y="184.20" font-size="7.8" text-anchor="middle" fill="#000" color="#000">20</text>
<line x1="374.10" y1="173.90" x2="374.10" y2="176.40" stroke="#111" stroke-width="1.0"/>
<text x="374.10" y="184.20" font-size="7.8" text-anchor="middle" fill="#000" color="#000">40</text>
<line x1="414.50" y1="173.90" x2="414.50" y2="176.40" stroke="#111" stroke-width="1.0"/>
<text x="414.50" y="184.20" font-size="7.8" text-anchor="middle" fill="#000" color="#000">80</text>
<text x="353.80" y="198.00" font-size="9.9" text-anchor="middle" font-weight="bold" fill="#000" color="#000">Bovine histone standard (pg)</text>
<text x="237.00" y="102.30" font-size="9.9" text-anchor="middle" font-weight="bold" fill="#000" color="#000" transform="rotate(-90 237.00 102.30)">Coefficient of Variation</text>
<text x="269.60" y="23.00" font-size="9.9" text-anchor="start" fill="#000" color="#000">Across Batches (inter-)</text>
<text x="228.30" y="13.30" font-size="18.6" text-anchor="start" font-weight="bold" fill="#000" color="#000">B</text>
<line x1="526.60" y1="181.00" x2="685.00" y2="181.00" stroke="#EBEBEB" stroke-width="0.9"/>
<line x1="526.60" y1="141.65" x2="685.00" y2="141.65" stroke="#EBEBEB" stroke-width="0.9"/>
<line x1="526.60" y1="102.30" x2="685.00" y2="102.30" stroke="#EBEBEB" stroke-width="0.9"/>
<line x1="526.60" y1="62.95" x2="685.00" y2="62.95" stroke="#EBEBEB" stroke-width="0.9"/>
<line x1="526.60" y1="23.60" x2="685.00" y2="23.60" stroke="#EBEBEB" stroke-width="0.9"/>
<line x1="570.00" y1="11.20" x2="570.00" y2="188.80" stroke="#EBEBEB" stroke-width="0.9"/>
<line x1="641.90" y1="11.20" x2="641.90" y2="188.80" stroke="#EBEBEB" stroke-width="0.9"/>
<line x1="570.00" y1="181.00" x2="570.00" y2="176.75" stroke="#222" stroke-width="0.9"/>
<line x1="570.00" y1="148.26" x2="570.00" y2="138.34" stroke="#222" stroke-width="0.9"/>
<rect x="551.95" y="148.26" width="36.10" height="28.49" fill="#228B22" stroke="#222" stroke-width="0.7"/>
<line x1="551.95" y1="163.69" x2="588.05" y2="163.69" stroke="#111" stroke-width="1.5"/>
<line x1="641.90" y1="181.00" x2="641.90" y2="163.69" stroke="#222" stroke-width="0.9"/>
<line x1="641.90" y1="106.08" x2="641.90" y2="26.75" stroke="#222" stroke-width="0.9"/>
<rect x="623.85" y="106.08" width="36.10" height="57.61" fill="#D95F02" stroke="#222" stroke-width="0.7"/>
<line x1="623.85" y1="136.93" x2="659.95" y2="136.93" stroke="#111" stroke-width="1.5"/>
<line x1="570.00" y1="79.00" x2="641.90" y2="60.75" stroke="#BDBDBD" stroke-width="0.6"/>
<line x1="570.00" y1="99.47" x2="641.90" y2="79.00" stroke="#BDBDBD" stroke-width="0.6"/>
<line x1="570.00" y1="105.45" x2="641.90" y2="26.75" stroke="#BDBDBD" stroke-width="0.6"/>
<line x1="570.00" y1="138.03" x2="641.90" y2="70.98" stroke="#BDBDBD" stroke-width="0.6"/>
<line x1="570.00" y1="138.03" x2="641.90" y2="88.76" stroke="#BDBDBD" stroke-width="0.6"/>
<line x1="570.00" y1="140.23" x2="641.90" y2="93.33" stroke="#BDBDBD" stroke-width="0.6"/>
<line x1="570.00" y1="141.81" x2="641.90" y2="100.57" stroke="#BDBDBD" stroke-width="0.6"/>
<line x1="570.00" y1="146.06" x2="641.90" y2="106.71" stroke="#BDBDBD" stroke-width="0.6"/>
<line x1="570.00" y1="146.06" x2="641.90" y2="161.48" stroke="#BDBDBD" stroke-width="0.6"/>
<line x1="570.00" y1="148.26" x2="641.90" y2="112.22" stroke="#BDBDBD" stroke-width="0.6"/>
<line x1="570.00" y1="148.26" x2="641.90" y2="135.83" stroke="#BDBDBD" stroke-width="0.6"/>
<line x1="570.00" y1="150.46" x2="641.90" y2="104.50" stroke="#BDBDBD" stroke-width="0.6"/>
<line x1="570.00" y1="150.46" x2="641.90" y2="149.36" stroke="#BDBDBD" stroke-width="0.6"/>
<line x1="570.00" y1="153.45" x2="641.90" y2="118.67" stroke="#BDBDBD" stroke-width="0.6"/>
<line x1="570.00" y1="153.45" x2="641.90" y2="164.79" stroke="#BDBDBD" stroke-width="0.6"/>
<line x1="570.00" y1="156.45" x2="641.90" y2="126.38" stroke="#BDBDBD" stroke-width="0.6"/>
<line x1="570.00" y1="156.45" x2="641.90" y2="106.71" stroke="#BDBDBD" stroke-width="0.6"/>
<line x1="570.00" y1="162.27" x2="641.90" y2="129.84" stroke="#BDBDBD" stroke-width="0.6"/>
<line x1="570.00" y1="162.27" x2="641.90" y2="112.22" stroke="#BDBDBD" stroke-width="0.6"/>
<line x1="570.00" y1="162.27" x2="641.90" y2="145.74" stroke="#BDBDBD" stroke-width="0.6"/>
<line x1="570.00" y1="168.72" x2="641.90" y2="141.02" stroke="#BDBDBD" stroke-width="0.6"/>
<line x1="570.00" y1="168.72" x2="641.90" y2="118.67" stroke="#BDBDBD" stroke-width="0.6"/>
<line x1="570.00" y1="168.72" x2="641.90" y2="161.48" stroke="#BDBDBD" stroke-width="0.6"/>
<line x1="570.00" y1="172.34" x2="641.90" y2="135.83" stroke="#BDBDBD" stroke-width="0.6"/>
<line x1="570.00" y1="172.34" x2="641.90" y2="149.36" stroke="#BDBDBD" stroke-width="0.6"/>
<line x1="570.00" y1="172.34" x2="641.90" y2="100.57" stroke="#BDBDBD" stroke-width="0.6"/>
<line x1="570.00" y1="175.33" x2="641.90" y2="145.74" stroke="#BDBDBD" stroke-width="0.6"/>
<line x1="570.00" y1="175.33" x2="641.90" y2="126.38" stroke="#BDBDBD" stroke-width="0.6"/>
<line x1="570.00" y1="175.33" x2="641.90" y2="168.25" stroke="#BDBDBD" stroke-width="0.6"/>
<line x1="570.00" y1="177.54" x2="641.90" y2="141.02" stroke="#BDBDBD" stroke-width="0.6"/>
<line x1="570.00" y1="177.54" x2="641.90" y2="175.33" stroke="#BDBDBD" stroke-width="0.6"/>
<line x1="570.00" y1="179.74" x2="641.90" y2="164.79" stroke="#BDBDBD" stroke-width="0.6"/>
<line x1="570.00" y1="179.74" x2="641.90" y2="176.75" stroke="#BDBDBD" stroke-width="0.6"/>
<line x1="570.00" y1="181.00" x2="641.90" y2="178.95" stroke="#BDBDBD" stroke-width="0.6"/>
<line x1="570.00" y1="181.00" x2="641.90" y2="180.37" stroke="#BDBDBD" stroke-width="0.6"/>
<line x1="570.00" y1="181.00" x2="641.90" y2="129.84" stroke="#BDBDBD" stroke-width="0.6"/>
<line x1="570.00" y1="177.54" x2="641.90" y2="93.33" stroke="#BDBDBD" stroke-width="0.6"/>
<line x1="570.00" y1="179.74" x2="641.90" y2="149.36" stroke="#BDBDBD" stroke-width="0.6"/>
<line x1="570.00" y1="141.81" x2="641.90" y2="135.83" stroke="#BDBDBD" stroke-width="0.6"/>
<line x1="570.00" y1="181.00" x2="641.90" y2="176.75" stroke="#BDBDBD" stroke-width="0.6"/>
<circle cx="570.0" cy="79.00" r="1.45" fill="#000"/>
<circle cx="641.9" cy="60.75" r="1.45" fill="#000"/>
<circle cx="570.0" cy="99.47" r="1.45" fill="#000"/>
<circle cx="641.9" cy="79.00" r="1.45" fill="#000"/>
<circle cx="570.0" cy="105.45" r="1.45" fill="#000"/>
<circle cx="641.9" cy="26.75" r="1.45" fill="#000"/>
<circle cx="570.0" cy="138.03" r="1.45" fill="#000"/>
<circle cx="641.9" cy="70.98" r="1.45" fill="#000"/>
<circle cx="570.0" cy="138.03" r="1.45" fill="#000"/>
<circle cx="641.9" cy="88.76" r="1.45" fill="#000"/>
<circle cx="570.0" cy="140.23" r="1.45" fill="#000"/>
<circle cx="641.9" cy="93.33" r="1.45" fill="#000"/>
<circle cx="570.0" cy="141.81" r="1.45" fill="#000"/>
<circle cx="641.9" cy="100.57" r="1.45" fill="#000"/>
<circle cx="570.0" cy="146.06" r="1.45" fill="#000"/>
<circle cx="641.9" cy="106.71" r="1.45" fill="#000"/>
<circle cx="570.0" cy="146.06" r="1.45" fill="#000"/>
<circle cx="641.9" cy="161.48" r="1.45" fill="#000"/>
<circle cx="570.0" cy="148.26" r="1.45" fill="#000"/>
<circle cx="641.9" cy="112.22" r="1.45" fill="#000"/>
<circle cx="570.0" cy="148.26" r="1.45" fill="#000"/>
<circle cx="641.9" cy="135.83" r="1.45" fill="#000"/>
<circle cx="570.0" cy="150.46" r="1.45" fill="#000"/>
<circle cx="641.9" cy="104.50" r="1.45" fill="#000"/>
<circle cx="570.0" cy="150.46" r="1.45" fill="#000"/>
<circle cx="641.9" cy="149.36" r="1.45" fill="#000"/>
<circle cx="570.0" cy="153.45" r="1.45" fill="#000"/>
<circle cx="641.9" cy="118.67" r="1.45" fill="#000"/>
<circle cx="570.0" cy="153.45" r="1.45" fill="#000"/>
<circle cx="641.9" cy="164.79" r="1.45" fill="#000"/>
<circle cx="570.0" cy="156.45" r="1.45" fill="#000"/>
<circle cx="641.9" cy="126.38" r="1.45" fill="#000"/>
<circle cx="570.0" cy="156.45" r="1.45" fill="#000"/>
<circle cx="641.9" cy="106.71" r="1.45" fill="#000"/>
<circle cx="570.0" cy="162.27" r="1.45" fill="#000"/>
<circle cx="641.9" cy="129.84" r="1.45" fill="#000"/>
<circle cx="570.0" cy="162.27" r="1.45" fill="#000"/>
<circle cx="641.9" cy="112.22" r="1.45" fill="#000"/>
<circle cx="570.0" cy="162.27" r="1.45" fill="#000"/>
<circle cx="641.9" cy="145.74" r="1.45" fill="#000"/>
<circle cx="570.0" cy="168.72" r="1.45" fill="#000"/>
<circle cx="641.9" cy="141.02" r="1.45" fill="#000"/>
<circle cx="570.0" cy="168.72" r="1.45" fill="#000"/>
<circle cx="641.9" cy="118.67" r="1.45" fill="#000"/>
<circle cx="570.0" cy="168.72" r="1.45" fill="#000"/>
<circle cx="641.9" cy="161.48" r="1.45" fill="#000"/>
<circle cx="570.0" cy="172.34" r="1.45" fill="#000"/>
<circle cx="641.9" cy="135.83" r="1.45" fill="#000"/>
<circle cx="570.0" cy="172.34" r="1.45" fill="#000"/>
<circle cx="641.9" cy="149.36" r="1.45" fill="#000"/>
<circle cx="570.0" cy="172.34" r="1.45" fill="#000"/>
<circle cx="641.9" cy="100.57" r="1.45" fill="#000"/>
<circle cx="570.0" cy="175.33" r="1.45" fill="#000"/>
<circle cx="641.9" cy="145.74" r="1.45" fill="#000"/>
<circle cx="570.0" cy="175.33" r="1.45" fill="#000"/>
<circle cx="641.9" cy="126.38" r="1.45" fill="#000"/>
<circle cx="570.0" cy="175.33" r="1.45" fill="#000"/>
<circle cx="641.9" cy="168.25" r="1.45" fill="#000"/>
<circle cx="570.0" cy="177.54" r="1.45" fill="#000"/>
<circle cx="641.9" cy="141.02" r="1.45" fill="#000"/>
<circle cx="570.0" cy="177.54" r="1.45" fill="#000"/>
<circle cx="641.9" cy="175.33" r="1.45" fill="#000"/>
<circle cx="570.0" cy="179.74" r="1.45" fill="#000"/>
<circle cx="641.9" cy="164.79" r="1.45" fill="#000"/>
<circle cx="570.0" cy="179.74" r="1.45" fill="#000"/>
<circle cx="641.9" cy="176.75" r="1.45" fill="#000"/>
<circle cx="570.0" cy="181.00" r="1.45" fill="#000"/>
<circle cx="641.9" cy="178.95" r="1.45" fill="#000"/>
<circle cx="570.0" cy="181.00" r="1.45" fill="#000"/>
<circle cx="641.9" cy="180.37" r="1.45" fill="#000"/>
<circle cx="570.0" cy="181.00" r="1.45" fill="#000"/>
<circle cx="641.9" cy="129.84" r="1.45" fill="#000"/>
<circle cx="570.0" cy="177.54" r="1.45" fill="#000"/>
<circle cx="641.9" cy="93.33" r="1.45" fill="#000"/>
<circle cx="570.0" cy="179.74" r="1.45" fill="#000"/>
<circle cx="641.9" cy="149.36" r="1.45" fill="#000"/>
<circle cx="570.0" cy="141.81" r="1.45" fill="#000"/>
<circle cx="641.9" cy="135.83" r="1.45" fill="#000"/>
<circle cx="570.0" cy="181.00" r="1.45" fill="#000"/>
<circle cx="641.9" cy="176.75" r="1.45" fill="#000"/>
<line x1="526.60" y1="11.20" x2="526.60" y2="189.30" stroke="#111" stroke-width="1.1"/>
<line x1="526.10" y1="188.80" x2="685.00" y2="188.80" stroke="#111" stroke-width="1.1"/>
<line x1="524.10" y1="181.00" x2="526.60" y2="181.00" stroke="#111" stroke-width="1.0"/>
<text x="521.70" y="184.00" font-size="8.6" text-anchor="end" fill="#000" color="#000">0%</text>
<line x1="524.10" y1="141.65" x2="526.60" y2="141.65" stroke="#111" stroke-width="1.0"/>
<text x="521.70" y="144.65" font-size="8.6" text-anchor="end" fill="#000" color="#000">25%</text>
<line x1="524.10" y1="102.30" x2="526.60" y2="102.30" stroke="#111" stroke-width="1.0"/>
<text x="521.70" y="105.30" font-size="8.6" text-anchor="end" fill="#000" color="#000">50%</text>
<line x1="524.10" y1="62.95" x2="526.60" y2="62.95" stroke="#111" stroke-width="1.0"/>
<text x="521.70" y="65.95" font-size="8.6" text-anchor="end" fill="#000" color="#000">75%</text>
<line x1="524.10" y1="23.60" x2="526.60" y2="23.60" stroke="#111" stroke-width="1.0"/>
<text x="521.70" y="26.60" font-size="8.6" text-anchor="end" fill="#000" color="#000">100%</text>
<line x1="570.00" y1="188.80" x2="570.00" y2="191.30" stroke="#111" stroke-width="1.0"/>
<line x1="641.90" y1="188.80" x2="641.90" y2="191.30" stroke="#111" stroke-width="1.0"/>
<text x="570.00" y="200.10" font-size="8.6" text-anchor="middle" fill="#000" color="#000">Histone Standard</text>
<text x="571.30" y="209.70" font-size="8.6" text-anchor="middle" fill="#000" color="#000">10 pg</text>
<text x="641.90" y="200.10" font-size="8.6" text-anchor="middle" fill="#000" color="#000">Single−cells</text>
<text x="605.90" y="223.50" font-size="10.5" text-anchor="middle" font-weight="bold" fill="#000" color="#000">Sample type</text>
<text x="492.90" y="100.30" font-size="10.7" text-anchor="middle" font-weight="bold" fill="#000" color="#000" transform="rotate(-90 492.90 100.30)">Coefficient of Variation</text>
<line x1="570.00" y1="18.80" x2="641.90" y2="18.80" stroke="#A8A8A8" stroke-width="1.5"/>
<text x="602.2" y="21.7" font-size="15" text-anchor="middle" letter-spacing="0.5" fill="#000" color="#000" style="stroke-width:0.5px">****</text>
<text x="482.00" y="14.40" font-size="18.6" text-anchor="start" font-weight="bold" fill="#000" color="#000">D</text>
<text x="5.60" y="239.20" font-size="18.6" text-anchor="start" font-weight="bold" fill="#000" color="#000">C</text>
<line x1="40.50" y1="422.10" x2="203.00" y2="422.10" stroke="#EBEBEB" stroke-width="0.9"/>
<line x1="40.50" y1="386.70" x2="203.00" y2="386.70" stroke="#EBEBEB" stroke-width="0.9"/>
<line x1="40.50" y1="351.30" x2="203.00" y2="351.30" stroke="#EBEBEB" stroke-width="0.9"/>
<line x1="40.50" y1="315.90" x2="203.00" y2="315.90" stroke="#EBEBEB" stroke-width="0.9"/>
<line x1="40.50" y1="280.50" x2="203.00" y2="280.50" stroke="#EBEBEB" stroke-width="0.9"/>
<line x1="84.90" y1="273.00" x2="84.90" y2="429.20" stroke="#EBEBEB" stroke-width="0.9"/>
<line x1="158.50" y1="273.00" x2="158.50" y2="429.20" stroke="#EBEBEB" stroke-width="0.9"/>
<path d="M104.40,418.42 L105.58,417.91 L106.68,417.41 L107.65,416.91 L108.45,416.40 L109.14,415.90 L109.79,415.40 L110.37,414.89 L110.86,414.39 L111.24,413.88 L111.51,413.38 L111.74,412.88 L111.96,412.37 L112.13,411.87 L112.25,411.36 L112.30,410.86 L112.27,410.36 L112.18,409.85 L112.04,409.35 L111.86,408.84 L111.66,408.34 L111.46,407.84 L111.17,407.33 L110.79,406.83 L110.37,406.33 L109.94,405.82 L109.55,405.32 L109.20,404.81 L108.82,404.31 L108.44,403.81 L108.10,403.30 L107.84,402.80 L107.70,402.29 L107.64,401.79 L107.59,401.29 L107.55,400.78 L107.52,400.28 L107.50,399.78 L107.51,399.27 L107.61,398.77 L107.80,398.26 L108.05,397.76 L108.34,397.26 L108.62,396.75 L108.91,396.25 L109.26,395.74 L109.65,395.24 L110.04,394.74 L110.41,394.23 L110.73,393.73 L111.04,393.22 L111.36,392.72 L111.66,392.22 L111.90,391.71 L112.06,391.21 L112.12,390.71 L112.16,390.20 L112.20,389.70 L112.23,389.19 L112.25,388.69 L112.27,388.19 L112.29,387.68 L112.30,387.18 L112.30,386.67 L112.27,386.17 L112.19,385.67 L112.07,385.16 L111.91,384.66 L111.72,384.15 L111.50,383.65 L111.26,383.15 L111.00,382.64 L110.72,382.14 L110.33,381.64 L109.81,381.13 L109.15,380.63 L108.09,380.12 L106.40,379.62 L63.40,379.62 L61.71,380.12 L60.65,380.63 L59.99,381.13 L59.47,381.64 L59.08,382.14 L58.80,382.64 L58.54,383.15 L58.30,383.65 L58.08,384.15 L57.89,384.66 L57.73,385.16 L57.61,385.67 L57.53,386.17 L57.50,386.67 L57.50,387.18 L57.51,387.68 L57.53,388.19 L57.55,388.69 L57.57,389.19 L57.60,389.70 L57.64,390.20 L57.68,390.71 L57.74,391.21 L57.90,391.71 L58.14,392.22 L58.44,392.72 L58.76,393.22 L59.07,393.73 L59.39,394.23 L59.76,394.74 L60.15,395.24 L60.54,395.74 L60.89,396.25 L61.18,396.75 L61.46,397.26 L61.75,397.76 L62.00,398.26 L62.19,398.77 L62.29,399.27 L62.30,399.78 L62.28,400.28 L62.25,400.78 L62.21,401.29 L62.16,401.79 L62.10,402.29 L61.96,402.80 L61.70,403.30 L61.36,403.81 L60.98,404.31 L60.60,404.81 L60.25,405.32 L59.86,405.82 L59.43,406.33 L59.01,406.83 L58.63,407.33 L58.34,407.84 L58.14,408.34 L57.94,408.84 L57.76,409.35 L57.62,409.85 L57.53,410.36 L57.50,410.86 L57.55,411.36 L57.67,411.87 L57.84,412.37 L58.06,412.88 L58.29,413.38 L58.56,413.88 L58.94,414.39 L59.43,414.89 L60.01,415.40 L60.66,415.90 L61.35,416.40 L62.15,416.91 L63.12,417.41 L64.22,417.91 L65.40,418.42 Z" fill="#228B22" stroke="#222" stroke-width="0.75" stroke-linejoin="round"/>
<g stroke="#222" stroke-width="0.75">
<line x1="84.90" y1="418.42" x2="84.90" y2="414.45" stroke="#222" stroke-width="0.75"/>
<line x1="84.90" y1="390.52" x2="84.90" y2="379.62" stroke="#222" stroke-width="0.75"/>
<rect x="75.70" y="390.52" width="18.40" height="23.93" fill="none" stroke="#222" stroke-width="0.75"/>
<line x1="75.70" y1="399.73" x2="94.10" y2="399.73" stroke="#222" stroke-width="1.2"/>
</g>
<path d="M183.40,418.56 L183.71,418.06 L184.02,417.56 L184.31,417.06 L184.58,416.55 L184.83,416.05 L185.05,415.55 L185.23,415.05 L185.38,414.55 L185.49,414.05 L185.61,413.55 L185.72,413.04 L185.82,412.54 L185.91,412.04 L185.99,411.54 L186.06,411.04 L186.12,410.54 L186.17,410.04 L186.19,409.53 L186.20,409.03 L186.18,408.53 L186.12,408.03 L186.04,407.53 L185.92,407.03 L185.78,406.53 L185.62,406.02 L185.44,405.52 L185.25,405.02 L185.04,404.52 L184.82,404.02 L184.60,403.52 L184.37,403.02 L184.14,402.51 L183.90,402.01 L183.62,401.51 L183.30,401.01 L182.95,400.51 L182.57,400.01 L182.16,399.51 L181.73,399.00 L181.29,398.50 L180.83,398.00 L180.35,397.50 L179.88,397.00 L179.40,396.50 L178.92,395.99 L178.44,395.49 L177.98,394.99 L177.53,394.49 L177.08,393.99 L176.61,393.49 L176.13,392.99 L175.62,392.48 L175.11,391.98 L174.58,391.48 L174.05,390.98 L173.52,390.48 L172.99,389.98 L172.47,389.48 L171.96,388.97 L171.46,388.47 L170.98,387.97 L170.52,387.47 L170.08,386.97 L169.67,386.47 L169.30,385.97 L168.96,385.46 L168.66,384.96 L168.39,384.46 L168.13,383.96 L167.89,383.46 L167.66,382.96 L167.45,382.46 L167.25,381.95 L167.06,381.45 L166.89,380.95 L166.73,380.45 L166.59,379.95 L166.46,379.45 L166.33,378.95 L166.20,378.44 L166.08,377.94 L165.96,377.44 L165.85,376.94 L165.76,376.44 L165.69,375.94 L165.63,375.44 L165.60,374.93 L165.60,374.43 L165.60,373.93 L165.61,373.43 L165.62,372.93 L165.64,372.43 L165.66,371.93 L165.68,371.42 L165.70,370.92 L165.73,370.42 L165.76,369.92 L165.79,369.42 L165.82,368.92 L165.85,368.42 L165.88,367.91 L165.92,367.41 L165.95,366.91 L165.99,366.41 L166.02,365.91 L166.05,365.41 L166.08,364.91 L166.11,364.40 L166.15,363.90 L166.18,363.40 L166.23,362.90 L166.27,362.40 L166.32,361.90 L166.37,361.40 L166.42,360.89 L166.47,360.39 L166.52,359.89 L166.56,359.39 L166.61,358.89 L166.66,358.39 L166.70,357.89 L166.74,357.38 L166.78,356.88 L166.82,356.38 L166.84,355.88 L166.87,355.38 L166.88,354.88 L166.90,354.37 L166.90,353.87 L166.90,353.37 L166.88,352.87 L166.86,352.37 L166.83,351.87 L166.79,351.37 L166.75,350.86 L166.70,350.36 L166.64,349.86 L166.59,349.36 L166.53,348.86 L166.46,348.36 L166.40,347.86 L166.34,347.35 L166.27,346.85 L166.20,346.35 L166.12,345.85 L166.03,345.35 L165.94,344.85 L165.83,344.35 L165.73,343.84 L165.61,343.34 L165.50,342.84 L165.38,342.34 L165.25,341.84 L165.13,341.34 L165.01,340.84 L164.88,340.33 L164.76,339.83 L164.62,339.33 L164.47,338.83 L164.32,338.33 L164.17,337.83 L164.01,337.33 L163.85,336.82 L163.69,336.32 L163.53,335.82 L163.37,335.32 L163.22,334.82 L163.08,334.32 L162.94,333.82 L162.80,333.31 L162.68,332.81 L162.56,332.31 L162.43,331.81 L162.30,331.31 L162.17,330.81 L162.03,330.31 L161.90,329.80 L161.77,329.30 L161.65,328.80 L161.53,328.30 L161.42,327.80 L161.32,327.30 L161.23,326.80 L161.15,326.29 L161.09,325.79 L161.04,325.29 L161.01,324.79 L161.00,324.29 L161.00,323.79 L161.00,323.29 L161.00,322.78 L161.01,322.28 L161.01,321.78 L161.02,321.28 L161.02,320.78 L161.03,320.28 L161.03,319.78 L161.04,319.27 L161.05,318.77 L161.06,318.27 L161.07,317.77 L161.07,317.27 L161.08,316.77 L161.09,316.27 L161.10,315.76 L161.11,315.26 L161.13,314.76 L161.15,314.26 L161.16,313.76 L161.19,313.26 L161.21,312.75 L161.23,312.25 L161.26,311.75 L161.28,311.25 L161.31,310.75 L161.34,310.25 L161.37,309.75 L161.40,309.24 L155.60,309.24 L155.63,309.75 L155.66,310.25 L155.69,310.75 L155.72,311.25 L155.74,311.75 L155.77,312.25 L155.79,312.75 L155.81,313.26 L155.84,313.76 L155.85,314.26 L155.87,314.76 L155.89,315.26 L155.90,315.76 L155.91,316.27 L155.92,316.77 L155.93,317.27 L155.93,317.77 L155.94,318.27 L155.95,318.77 L155.96,319.27 L155.97,319.78 L155.97,320.28 L155.98,320.78 L155.98,321.28 L155.99,321.78 L155.99,322.28 L156.00,322.78 L156.00,323.29 L156.00,323.79 L156.00,324.29 L155.99,324.79 L155.96,325.29 L155.91,325.79 L155.85,326.29 L155.77,326.80 L155.68,327.30 L155.58,327.80 L155.47,328.30 L155.35,328.80 L155.23,329.30 L155.10,329.80 L154.97,330.31 L154.83,330.81 L154.70,331.31 L154.57,331.81 L154.44,332.31 L154.32,332.81 L154.20,333.31 L154.06,333.82 L153.92,334.32 L153.78,334.82 L153.63,335.32 L153.47,335.82 L153.31,336.32 L153.15,336.82 L152.99,337.33 L152.83,337.83 L152.68,338.33 L152.53,338.83 L152.38,339.33 L152.24,339.83 L152.12,340.33 L151.99,340.84 L151.87,341.34 L151.75,341.84 L151.62,342.34 L151.50,342.84 L151.39,343.34 L151.27,343.84 L151.17,344.35 L151.06,344.85 L150.97,345.35 L150.88,345.85 L150.80,346.35 L150.73,346.85 L150.66,347.35 L150.60,347.86 L150.54,348.36 L150.47,348.86 L150.41,349.36 L150.36,349.86 L150.30,350.36 L150.25,350.86 L150.21,351.37 L150.17,351.87 L150.14,352.37 L150.12,352.87 L150.10,353.37 L150.10,353.87 L150.10,354.37 L150.12,354.88 L150.13,355.38 L150.16,355.88 L150.18,356.38 L150.22,356.88 L150.26,357.38 L150.30,357.89 L150.34,358.39 L150.39,358.89 L150.44,359.39 L150.48,359.89 L150.53,360.39 L150.58,360.89 L150.63,361.40 L150.68,361.90 L150.73,362.40 L150.77,362.90 L150.82,363.40 L150.85,363.90 L150.89,364.40 L150.92,364.91 L150.95,365.41 L150.98,365.91 L151.01,366.41 L151.05,366.91 L151.08,367.41 L151.12,367.91 L151.15,368.42 L151.18,368.92 L151.21,369.42 L151.24,369.92 L151.27,370.42 L151.30,370.92 L151.32,371.42 L151.34,371.93 L151.36,372.43 L151.38,372.93 L151.39,373.43 L151.40,373.93 L151.40,374.43 L151.40,374.93 L151.37,375.44 L151.31,375.94 L151.24,376.44 L151.15,376.94 L151.04,377.44 L150.92,377.94 L150.80,378.44 L150.67,378.95 L150.54,379.45 L150.41,379.95 L150.27,380.45 L150.11,380.95 L149.94,381.45 L149.75,381.95 L149.55,382.46 L149.34,382.96 L149.11,383.46 L148.87,383.96 L148.61,384.46 L148.34,384.96 L148.04,385.46 L147.70,385.97 L147.33,386.47 L146.92,386.97 L146.48,387.47 L146.02,387.97 L145.54,388.47 L145.04,388.97 L144.53,389.48 L144.01,389.98 L143.48,390.48 L142.95,390.98 L142.42,391.48 L141.89,391.98 L141.38,392.48 L140.87,392.99 L140.39,393.49 L139.92,393.99 L139.47,394.49 L139.02,394.99 L138.56,395.49 L138.08,395.99 L137.60,396.50 L137.12,397.00 L136.65,397.50 L136.17,398.00 L135.71,398.50 L135.27,399.00 L134.84,399.51 L134.43,400.01 L134.05,400.51 L133.70,401.01 L133.38,401.51 L133.10,402.01 L132.86,402.51 L132.63,403.02 L132.40,403.52 L132.18,404.02 L131.96,404.52 L131.75,405.02 L131.56,405.52 L131.38,406.02 L131.22,406.53 L131.08,407.03 L130.96,407.53 L130.88,408.03 L130.82,408.53 L130.80,409.03 L130.81,409.53 L130.83,410.04 L130.88,410.54 L130.94,411.04 L131.01,411.54 L131.09,412.04 L131.18,412.54 L131.28,413.04 L131.39,413.55 L131.51,414.05 L131.62,414.55 L131.77,415.05 L131.95,415.55 L132.17,416.05 L132.42,416.55 L132.69,417.06 L132.98,417.56 L133.29,418.06 L133.60,418.56 Z" fill="#DADAEB" stroke="#222" stroke-width="0.75" stroke-linejoin="round"/>
<g stroke="#222" stroke-width="0.75">
<line x1="158.50" y1="418.42" x2="158.50" y2="414.45" stroke="#222" stroke-width="0.75"/>
<line x1="158.50" y1="375.37" x2="158.50" y2="353.42" stroke="#222" stroke-width="0.75"/>
<rect x="149.20" y="375.37" width="18.60" height="39.08" fill="none" stroke="#222" stroke-width="0.75"/>
<line x1="149.20" y1="407.94" x2="167.80" y2="407.94" stroke="#222" stroke-width="1.2"/>
</g>
<line x1="40.50" y1="273.00" x2="40.50" y2="429.70" stroke="#111" stroke-width="1.1"/>
<line x1="40.00" y1="429.20" x2="203.00" y2="429.20" stroke="#111" stroke-width="1.1"/>
<line x1="38.00" y1="422.10" x2="40.50" y2="422.10" stroke="#111" stroke-width="1.0"/>
<text x="35.70" y="424.60" font-size="7.65" text-anchor="end" fill="#000" color="#000">0%</text>
<line x1="38.00" y1="386.70" x2="40.50" y2="386.70" stroke="#111" stroke-width="1.0"/>
<text x="35.70" y="389.20" font-size="7.65" text-anchor="end" fill="#000" color="#000">25%</text>
<line x1="38.00" y1="351.30" x2="40.50" y2="351.30" stroke="#111" stroke-width="1.0"/>
<text x="35.70" y="353.80" font-size="7.65" text-anchor="end" fill="#000" color="#000">50%</text>
<line x1="38.00" y1="315.90" x2="40.50" y2="315.90" stroke="#111" stroke-width="1.0"/>
<text x="35.70" y="318.40" font-size="7.65" text-anchor="end" fill="#000" color="#000">75%</text>
<line x1="38.00" y1="280.50" x2="40.50" y2="280.50" stroke="#111" stroke-width="1.0"/>
<text x="35.70" y="283.00" font-size="7.65" text-anchor="end" fill="#000" color="#000">100%</text>
<line x1="84.90" y1="429.20" x2="84.90" y2="431.70" stroke="#111" stroke-width="1.0"/>
<line x1="158.50" y1="429.20" x2="158.50" y2="431.70" stroke="#111" stroke-width="1.0"/>
<text x="84.90" y="438.80" font-size="7.7" text-anchor="middle" fill="#000" color="#000">Histone Standard</text>
<text x="84.90" y="447.30" font-size="7.7" text-anchor="middle" fill="#000" color="#000">10 pg</text>
<text x="158.50" y="438.80" font-size="7.7" text-anchor="middle" fill="#000" color="#000">HeLa</text>
<text x="40.40" y="265.80" font-size="9.65" text-anchor="start" fill="#000" color="#000">Sidoli et al., 2015 A</text>
<line x1="234.60" y1="422.10" x2="388.00" y2="422.10" stroke="#EBEBEB" stroke-width="0.9"/>
<line x1="234.60" y1="386.70" x2="388.00" y2="386.70" stroke="#EBEBEB" stroke-width="0.9"/>
<line x1="234.60" y1="351.30" x2="388.00" y2="351.30" stroke="#EBEBEB" stroke-width="0.9"/>
<line x1="234.60" y1="315.90" x2="388.00" y2="315.90" stroke="#EBEBEB" stroke-width="0.9"/>
<line x1="234.60" y1="280.50" x2="388.00" y2="280.50" stroke="#EBEBEB" stroke-width="0.9"/>
<line x1="279.00" y1="273.00" x2="279.00" y2="429.20" stroke="#EBEBEB" stroke-width="0.9"/>
<line x1="352.80" y1="273.00" x2="352.80" y2="429.20" stroke="#EBEBEB" stroke-width="0.9"/>
<path d="M302.00,418.28 L303.63,417.78 L304.83,417.27 L305.36,416.77 L305.76,416.27 L306.05,415.77 L306.24,415.27 L306.34,414.77 L306.42,414.27 L306.49,413.77 L306.56,413.26 L306.61,412.76 L306.65,412.26 L306.68,411.76 L306.69,411.26 L306.70,410.76 L306.69,410.26 L306.67,409.76 L306.63,409.26 L306.59,408.75 L306.53,408.25 L306.47,407.75 L306.40,407.25 L306.33,406.75 L306.26,406.25 L306.15,405.75 L306.02,405.25 L305.86,404.74 L305.69,404.24 L305.52,403.74 L305.34,403.24 L305.16,402.74 L304.99,402.24 L304.82,401.74 L304.66,401.24 L304.49,400.74 L304.32,400.23 L304.14,399.73 L303.96,399.23 L303.78,398.73 L303.58,398.23 L303.38,397.73 L303.17,397.23 L302.96,396.73 L302.73,396.22 L302.50,395.72 L302.26,395.22 L302.01,394.72 L301.74,394.22 L301.47,393.72 L301.17,393.22 L300.85,392.72 L300.52,392.21 L300.17,391.71 L299.81,391.21 L299.43,390.71 L299.04,390.21 L298.64,389.71 L298.23,389.21 L297.81,388.71 L297.36,388.21 L296.90,387.70 L296.42,387.20 L295.93,386.70 L295.43,386.20 L294.93,385.70 L294.41,385.20 L293.89,384.70 L293.36,384.20 L292.81,383.69 L292.25,383.19 L291.66,382.69 L291.06,382.19 L290.43,381.69 L289.76,381.19 L289.04,380.69 L288.30,380.19 L269.70,380.19 L268.96,380.69 L268.24,381.19 L267.57,381.69 L266.94,382.19 L266.34,382.69 L265.75,383.19 L265.19,383.69 L264.64,384.20 L264.11,384.70 L263.59,385.20 L263.07,385.70 L262.57,386.20 L262.07,386.70 L261.58,387.20 L261.10,387.70 L260.64,388.21 L260.19,388.71 L259.77,389.21 L259.36,389.71 L258.96,390.21 L258.57,390.71 L258.19,391.21 L257.83,391.71 L257.48,392.21 L257.15,392.72 L256.83,393.22 L256.53,393.72 L256.26,394.22 L255.99,394.72 L255.74,395.22 L255.50,395.72 L255.27,396.22 L255.04,396.73 L254.83,397.23 L254.62,397.73 L254.42,398.23 L254.22,398.73 L254.04,399.23 L253.86,399.73 L253.68,400.23 L253.51,400.74 L253.34,401.24 L253.18,401.74 L253.01,402.24 L252.84,402.74 L252.66,403.24 L252.48,403.74 L252.31,404.24 L252.14,404.74 L251.98,405.25 L251.85,405.75 L251.74,406.25 L251.67,406.75 L251.60,407.25 L251.53,407.75 L251.47,408.25 L251.41,408.75 L251.37,409.26 L251.33,409.76 L251.31,410.26 L251.30,410.76 L251.31,411.26 L251.32,411.76 L251.35,412.26 L251.39,412.76 L251.44,413.26 L251.51,413.77 L251.58,414.27 L251.66,414.77 L251.76,415.27 L251.95,415.77 L252.24,416.27 L252.64,416.77 L253.17,417.27 L254.37,417.78 L256.00,418.28 Z" fill="#228B22" stroke="#222" stroke-width="0.75" stroke-linejoin="round"/>
<g stroke="#222" stroke-width="0.75">
<line x1="279.00" y1="418.28" x2="279.00" y2="415.44" stroke="#222" stroke-width="0.75"/>
<line x1="279.00" y1="395.48" x2="279.00" y2="380.19" stroke="#222" stroke-width="0.75"/>
<rect x="269.50" y="395.48" width="19.00" height="19.97" fill="none" stroke="#222" stroke-width="0.75"/>
<line x1="269.50" y1="404.40" x2="288.50" y2="404.40" stroke="#222" stroke-width="1.2"/>
</g>
<path d="M372.80,418.28 L376.54,417.77 L379.03,417.26 L379.97,416.75 L380.57,416.24 L380.80,415.73 L380.00,415.21 L378.24,414.70 L376.39,414.19 L374.30,413.68 L371.95,413.17 L369.64,412.66 L367.68,412.15 L366.06,411.64 L364.60,411.13 L363.24,410.62 L361.92,410.11 L360.62,409.60 L359.36,409.09 L358.17,408.58 L357.06,408.07 L355.99,407.56 L354.95,407.05 L354.31,406.54 L354.03,406.03 L353.81,405.52 L353.63,405.01 L353.50,404.50 L353.42,403.99 L353.39,403.48 L353.37,402.97 L353.35,402.46 L353.34,401.95 L353.32,401.44 L353.31,400.92 L353.31,400.41 L353.30,399.90 L353.30,399.39 L353.41,398.88 L353.64,398.37 L353.96,397.86 L354.28,397.35 L354.69,396.84 L355.22,396.33 L355.73,395.82 L356.06,395.31 L356.19,394.80 L356.27,394.29 L356.30,393.78 L349.30,393.78 L349.33,394.29 L349.41,394.80 L349.54,395.31 L349.87,395.82 L350.38,396.33 L350.91,396.84 L351.32,397.35 L351.64,397.86 L351.96,398.37 L352.19,398.88 L352.30,399.39 L352.30,399.90 L352.29,400.41 L352.29,400.92 L352.28,401.44 L352.26,401.95 L352.25,402.46 L352.23,402.97 L352.21,403.48 L352.18,403.99 L352.10,404.50 L351.97,405.01 L351.79,405.52 L351.57,406.03 L351.29,406.54 L350.65,407.05 L349.61,407.56 L348.54,408.07 L347.43,408.58 L346.24,409.09 L344.98,409.60 L343.68,410.11 L342.36,410.62 L341.00,411.13 L339.54,411.64 L337.92,412.15 L335.96,412.66 L333.65,413.17 L331.30,413.68 L329.21,414.19 L327.36,414.70 L325.60,415.21 L324.80,415.73 L325.03,416.24 L325.63,416.75 L326.57,417.26 L329.06,417.77 L332.80,418.28 Z" fill="#EFEDF5" stroke="#222" stroke-width="0.75" stroke-linejoin="round"/>
<g stroke="#222" stroke-width="0.75">
<line x1="352.80" y1="418.28" x2="352.80" y2="416.72" stroke="#222" stroke-width="0.75"/>
<line x1="352.80" y1="412.19" x2="352.80" y2="407.23" stroke="#222" stroke-width="0.75"/>
<rect x="343.30" y="412.19" width="19.00" height="4.53" fill="none" stroke="#222" stroke-width="0.75"/>
<line x1="343.30" y1="415.44" x2="362.30" y2="415.44" stroke="#222" stroke-width="1.2"/>
</g>
<line x1="234.60" y1="273.00" x2="234.60" y2="429.70" stroke="#111" stroke-width="1.1"/>
<line x1="234.10" y1="429.20" x2="388.00" y2="429.20" stroke="#111" stroke-width="1.1"/>
<line x1="232.10" y1="422.10" x2="234.60" y2="422.10" stroke="#111" stroke-width="1.0"/>
<text x="229.80" y="424.60" font-size="7.65" text-anchor="end" fill="#000" color="#000">0%</text>
<line x1="232.10" y1="386.70" x2="234.60" y2="386.70" stroke="#111" stroke-width="1.0"/>
<text x="229.80" y="389.20" font-size="7.65" text-anchor="end" fill="#000" color="#000">25%</text>
<line x1="232.10" y1="351.30" x2="234.60" y2="351.30" stroke="#111" stroke-width="1.0"/>
<text x="229.80" y="353.80" font-size="7.65" text-anchor="end" fill="#000" color="#000">50%</text>
<line x1="232.10" y1="315.90" x2="234.60" y2="315.90" stroke="#111" stroke-width="1.0"/>
<text x="229.80" y="318.40" font-size="7.65" text-anchor="end" fill="#000" color="#000">75%</text>
<line x1="232.10" y1="280.50" x2="234.60" y2="280.50" stroke="#111" stroke-width="1.0"/>
<text x="229.80" y="283.00" font-size="7.65" text-anchor="end" fill="#000" color="#000">100%</text>
<line x1="279.00" y1="429.20" x2="279.00" y2="431.70" stroke="#111" stroke-width="1.0"/>
<line x1="352.80" y1="429.20" x2="352.80" y2="431.70" stroke="#111" stroke-width="1.0"/>
<text x="279.00" y="438.80" font-size="7.7" text-anchor="middle" fill="#000" color="#000">Histone Standard</text>
<text x="279.00" y="447.30" font-size="7.7" text-anchor="middle" fill="#000" color="#000">10 pg</text>
<text x="352.80" y="438.80" font-size="7.7" text-anchor="middle" fill="#000" color="#000">HeLa</text>
<text x="235.00" y="265.80" font-size="9.65" text-anchor="start" fill="#000" color="#000">Sidoli et al., 2015 B</text>
<text x="9.60" y="351.30" font-size="9.45" text-anchor="middle" font-weight="bold" fill="#000" color="#000" transform="rotate(-90 9.60 351.30)">Coefficient of Variation</text>
<defs><clipPath id="c3clip"><rect x="420" y="274.2" width="260" height="160"/></clipPath></defs>
<line x1="420.20" y1="423.50" x2="678.00" y2="423.50" stroke="#EBEBEB" stroke-width="0.9"/>
<line x1="420.20" y1="387.90" x2="678.00" y2="387.90" stroke="#EBEBEB" stroke-width="0.9"/>
<line x1="420.20" y1="352.30" x2="678.00" y2="352.30" stroke="#EBEBEB" stroke-width="0.9"/>
<line x1="420.20" y1="316.70" x2="678.00" y2="316.70" stroke="#EBEBEB" stroke-width="0.9"/>
<line x1="420.20" y1="281.10" x2="678.00" y2="281.10" stroke="#EBEBEB" stroke-width="0.9"/>
<line x1="420.20" y1="268.80" x2="678.00" y2="268.80" stroke="#EBEBEB" stroke-width="0.9"/>
<line x1="437.20" y1="274.20" x2="437.20" y2="429.50" stroke="#EBEBEB" stroke-width="0.9"/>
<line x1="437.20" y1="251.10" x2="437.20" y2="269.60" stroke="#EBEBEB" stroke-width="0.9"/>
<line x1="465.20" y1="274.20" x2="465.20" y2="429.50" stroke="#EBEBEB" stroke-width="0.9"/>
<line x1="465.20" y1="251.10" x2="465.20" y2="269.60" stroke="#EBEBEB" stroke-width="0.9"/>
<line x1="493.20" y1="274.20" x2="493.20" y2="429.50" stroke="#EBEBEB" stroke-width="0.9"/>
<line x1="493.20" y1="251.10" x2="493.20" y2="269.60" stroke="#EBEBEB" stroke-width="0.9"/>
<line x1="521.20" y1="274.20" x2="521.20" y2="429.50" stroke="#EBEBEB" stroke-width="0.9"/>
<line x1="521.20" y1="251.10" x2="521.20" y2="269.60" stroke="#EBEBEB" stroke-width="0.9"/>
<line x1="549.20" y1="274.20" x2="549.20" y2="429.50" stroke="#EBEBEB" stroke-width="0.9"/>
<line x1="549.20" y1="251.10" x2="549.20" y2="269.60" stroke="#EBEBEB" stroke-width="0.9"/>
<line x1="577.20" y1="274.20" x2="577.20" y2="429.50" stroke="#EBEBEB" stroke-width="0.9"/>
<line x1="577.20" y1="251.10" x2="577.20" y2="269.60" stroke="#EBEBEB" stroke-width="0.9"/>
<line x1="605.20" y1="274.20" x2="605.20" y2="429.50" stroke="#EBEBEB" stroke-width="0.9"/>
<line x1="605.20" y1="251.10" x2="605.20" y2="269.60" stroke="#EBEBEB" stroke-width="0.9"/>
<line x1="633.20" y1="274.20" x2="633.20" y2="429.50" stroke="#EBEBEB" stroke-width="0.9"/>
<line x1="633.20" y1="251.10" x2="633.20" y2="269.60" stroke="#EBEBEB" stroke-width="0.9"/>
<line x1="661.20" y1="274.20" x2="661.20" y2="429.50" stroke="#EBEBEB" stroke-width="0.9"/>
<line x1="661.20" y1="251.10" x2="661.20" y2="269.60" stroke="#EBEBEB" stroke-width="0.9"/>
<path d="M447.40,421.36 L447.45,420.86 L447.49,420.36 L447.53,419.86 L447.57,419.35 L447.61,418.85 L447.64,418.35 L447.66,417.85 L447.68,417.35 L447.70,416.84 L447.70,416.34 L447.70,415.84 L447.70,415.34 L447.69,414.83 L447.69,414.33 L447.68,413.83 L447.68,413.33 L447.67,412.82 L447.66,412.32 L447.65,411.82 L447.64,411.32 L447.63,410.81 L447.62,410.31 L447.61,409.81 L447.60,409.31 L447.59,408.81 L447.57,408.30 L447.55,407.80 L447.53,407.30 L447.51,406.80 L447.48,406.29 L447.45,405.79 L447.42,405.29 L447.39,404.79 L447.36,404.28 L447.32,403.78 L447.28,403.28 L447.25,402.78 L447.21,402.27 L447.17,401.77 L447.13,401.27 L447.08,400.77 L447.03,400.27 L446.98,399.76 L446.92,399.26 L446.87,398.76 L446.81,398.26 L446.74,397.75 L446.68,397.25 L446.62,396.75 L446.55,396.25 L446.49,395.74 L446.43,395.24 L446.36,394.74 L446.30,394.24 L446.24,393.73 L446.17,393.23 L446.11,392.73 L446.04,392.23 L445.97,391.73 L445.90,391.22 L445.83,390.72 L445.76,390.22 L445.68,389.72 L445.61,389.21 L445.53,388.71 L445.45,388.21 L445.37,387.71 L445.28,387.20 L445.19,386.70 L445.10,386.20 L445.00,385.70 L444.90,385.19 L444.80,384.69 L444.69,384.19 L444.59,383.69 L444.48,383.18 L444.38,382.68 L444.28,382.18 L444.17,381.68 L444.08,381.18 L443.98,380.67 L443.88,380.17 L443.79,379.67 L443.70,379.17 L443.60,378.66 L443.51,378.16 L443.42,377.66 L443.33,377.16 L443.23,376.65 L443.14,376.15 L443.05,375.65 L442.96,375.15 L442.87,374.64 L442.78,374.14 L442.70,373.64 L442.61,373.14 L442.52,372.64 L442.43,372.13 L442.34,371.63 L442.26,371.13 L442.17,370.63 L442.08,370.12 L442.00,369.62 L441.91,369.12 L441.83,368.62 L441.75,368.11 L441.67,367.61 L441.59,367.11 L441.51,366.61 L441.43,366.10 L441.36,365.60 L441.28,365.10 L441.20,364.60 L441.13,364.10 L441.06,363.59 L440.98,363.09 L440.91,362.59 L440.84,362.09 L440.77,361.58 L440.71,361.08 L440.64,360.58 L440.58,360.08 L440.52,359.57 L440.46,359.07 L440.40,358.57 L440.35,358.07 L440.30,357.56 L440.25,357.06 L440.20,356.56 L440.15,356.06 L440.10,355.56 L440.05,355.05 L440.00,354.55 L439.96,354.05 L439.91,353.55 L439.87,353.04 L439.82,352.54 L439.78,352.04 L439.73,351.54 L439.68,351.03 L439.63,350.53 L439.58,350.03 L439.53,349.53 L439.48,349.02 L439.44,348.52 L439.39,348.02 L439.35,347.52 L439.31,347.02 L439.27,346.51 L439.24,346.01 L439.21,345.51 L439.19,345.01 L439.17,344.50 L439.15,344.00 L439.13,343.50 L439.11,343.00 L439.09,342.49 L439.07,341.99 L439.06,341.49 L439.04,340.99 L439.03,340.48 L439.02,339.98 L439.01,339.48 L439.00,338.98 L439.00,338.48 L439.00,337.97 L439.00,337.47 L439.00,336.97 L439.00,336.47 L439.00,335.96 L439.00,335.46 L439.00,334.96 L439.00,334.46 L439.00,333.95 L439.00,333.45 L439.00,332.95 L439.00,332.45 L439.00,331.94 L439.00,331.44 L439.00,330.94 L435.40,330.94 L435.40,331.44 L435.40,331.94 L435.40,332.45 L435.40,332.95 L435.40,333.45 L435.40,333.95 L435.40,334.46 L435.40,334.96 L435.40,335.46 L435.40,335.96 L435.40,336.47 L435.40,336.97 L435.40,337.47 L435.40,337.97 L435.40,338.48 L435.40,338.98 L435.39,339.48 L435.38,339.98 L435.37,340.48 L435.36,340.99 L435.34,341.49 L435.33,341.99 L435.31,342.49 L435.29,343.00 L435.27,343.50 L435.25,344.00 L435.23,344.50 L435.21,345.01 L435.19,345.51 L435.16,346.01 L435.13,346.51 L435.09,347.02 L435.05,347.52 L435.01,348.02 L434.96,348.52 L434.92,349.02 L434.87,349.53 L434.82,350.03 L434.77,350.53 L434.72,351.03 L434.67,351.54 L434.62,352.04 L434.58,352.54 L434.53,353.04 L434.49,353.55 L434.44,354.05 L434.40,354.55 L434.35,355.05 L434.30,355.56 L434.25,356.06 L434.20,356.56 L434.15,357.06 L434.10,357.56 L434.05,358.07 L434.00,358.57 L433.94,359.07 L433.88,359.57 L433.82,360.08 L433.76,360.58 L433.69,361.08 L433.63,361.58 L433.56,362.09 L433.49,362.59 L433.42,363.09 L433.34,363.59 L433.27,364.10 L433.20,364.60 L433.12,365.10 L433.04,365.60 L432.97,366.10 L432.89,366.61 L432.81,367.11 L432.73,367.61 L432.65,368.11 L432.57,368.62 L432.49,369.12 L432.40,369.62 L432.32,370.12 L432.23,370.63 L432.14,371.13 L432.06,371.63 L431.97,372.13 L431.88,372.64 L431.79,373.14 L431.70,373.64 L431.62,374.14 L431.53,374.64 L431.44,375.15 L431.35,375.65 L431.26,376.15 L431.17,376.65 L431.07,377.16 L430.98,377.66 L430.89,378.16 L430.80,378.66 L430.70,379.17 L430.61,379.67 L430.52,380.17 L430.42,380.67 L430.32,381.18 L430.23,381.68 L430.12,382.18 L430.02,382.68 L429.92,383.18 L429.81,383.69 L429.71,384.19 L429.60,384.69 L429.50,385.19 L429.40,385.70 L429.30,386.20 L429.21,386.70 L429.12,387.20 L429.03,387.71 L428.95,388.21 L428.87,388.71 L428.79,389.21 L428.72,389.72 L428.64,390.22 L428.57,390.72 L428.50,391.22 L428.43,391.73 L428.36,392.23 L428.29,392.73 L428.23,393.23 L428.16,393.73 L428.10,394.24 L428.04,394.74 L427.97,395.24 L427.91,395.74 L427.85,396.25 L427.78,396.75 L427.72,397.25 L427.66,397.75 L427.59,398.26 L427.53,398.76 L427.48,399.26 L427.42,399.76 L427.37,400.27 L427.32,400.77 L427.27,401.27 L427.23,401.77 L427.19,402.27 L427.15,402.78 L427.12,403.28 L427.08,403.78 L427.04,404.28 L427.01,404.79 L426.98,405.29 L426.95,405.79 L426.92,406.29 L426.89,406.80 L426.87,407.30 L426.85,407.80 L426.83,408.30 L426.81,408.81 L426.80,409.31 L426.79,409.81 L426.78,410.31 L426.77,410.81 L426.76,411.32 L426.75,411.82 L426.74,412.32 L426.73,412.82 L426.72,413.33 L426.72,413.83 L426.71,414.33 L426.71,414.83 L426.70,415.34 L426.70,415.84 L426.70,416.34 L426.70,416.84 L426.72,417.35 L426.74,417.85 L426.76,418.35 L426.79,418.85 L426.83,419.35 L426.87,419.86 L426.91,420.36 L426.95,420.86 L427.00,421.36 Z" fill="#228B22" stroke="#222" stroke-width="0.7" stroke-linejoin="round" clip-path="url(#c3clip)"/>
<g stroke="#222" stroke-width="0.65" clip-path="url(#c3clip)">
<line x1="437.20" y1="421.36" x2="437.20" y2="415.38" stroke="#222" stroke-width="0.65"/>
<line x1="437.20" y1="382.20" x2="437.20" y2="330.94" stroke="#222" stroke-width="0.65"/>
<rect x="433.70" y="382.20" width="7.00" height="33.18" fill="none" stroke="#222" stroke-width="0.65"/>
<line x1="433.70" y1="397.30" x2="440.70" y2="397.30" stroke="#222" stroke-width="1.1"/>
</g>
<path d="M469.20,423.50 L469.88,423.00 L470.53,422.50 L471.15,422.00 L471.73,421.49 L472.27,420.99 L472.75,420.49 L473.18,419.99 L473.54,419.49 L473.84,418.99 L474.11,418.49 L474.37,417.99 L474.61,417.48 L474.82,416.98 L475.01,416.48 L475.17,415.98 L475.30,415.48 L475.40,414.98 L475.47,414.48 L475.54,413.98 L475.60,413.47 L475.66,412.97 L475.72,412.47 L475.77,411.97 L475.81,411.47 L475.85,410.97 L475.87,410.47 L475.89,409.96 L475.90,409.46 L475.90,408.96 L475.89,408.46 L475.86,407.96 L475.83,407.46 L475.79,406.96 L475.75,406.46 L475.69,405.95 L475.64,405.45 L475.58,404.95 L475.51,404.45 L475.45,403.95 L475.38,403.45 L475.31,402.95 L475.21,402.45 L475.10,401.94 L474.98,401.44 L474.85,400.94 L474.72,400.44 L474.58,399.94 L474.44,399.44 L474.29,398.94 L474.15,398.43 L474.02,397.93 L473.88,397.43 L473.75,396.93 L473.60,396.43 L473.46,395.93 L473.31,395.43 L473.16,394.93 L473.02,394.42 L472.87,393.92 L472.73,393.42 L472.59,392.92 L472.46,392.42 L472.34,391.92 L472.21,391.42 L472.09,390.92 L471.97,390.41 L471.86,389.91 L471.74,389.41 L471.63,388.91 L471.52,388.41 L471.41,387.91 L471.30,387.41 L471.19,386.90 L471.08,386.40 L470.98,385.90 L470.87,385.40 L470.77,384.90 L470.66,384.40 L470.56,383.90 L470.46,383.40 L470.36,382.89 L470.25,382.39 L470.15,381.89 L470.05,381.39 L469.96,380.89 L469.86,380.39 L469.76,379.89 L469.67,379.39 L469.57,378.88 L469.48,378.38 L469.39,377.88 L469.30,377.38 L469.22,376.88 L469.13,376.38 L469.05,375.88 L468.97,375.37 L468.89,374.87 L468.81,374.37 L468.73,373.87 L468.64,373.37 L468.56,372.87 L468.48,372.37 L468.39,371.87 L468.30,371.36 L468.21,370.86 L468.11,370.36 L468.01,369.86 L467.89,369.36 L467.78,368.86 L467.66,368.36 L467.54,367.86 L467.43,367.35 L467.32,366.85 L467.21,366.35 L467.12,365.85 L467.03,365.35 L466.96,364.85 L466.89,364.35 L466.83,363.84 L466.77,363.34 L466.71,362.84 L466.65,362.34 L466.60,361.84 L466.55,361.34 L466.50,360.84 L466.46,360.34 L466.43,359.83 L466.39,359.33 L466.36,358.83 L466.34,358.33 L466.31,357.83 L466.28,357.33 L466.26,356.83 L466.23,356.32 L466.21,355.82 L466.19,355.32 L466.17,354.82 L466.16,354.32 L466.14,353.82 L466.12,353.32 L466.11,352.82 L466.10,352.31 L466.09,351.81 L466.08,351.31 L466.07,350.81 L466.06,350.31 L466.05,349.81 L466.04,349.31 L466.03,348.81 L466.02,348.30 L466.02,347.80 L466.01,347.30 L466.01,346.80 L466.00,346.30 L466.00,345.80 L466.00,345.30 L466.00,344.79 L466.01,344.29 L466.02,343.79 L466.04,343.29 L466.06,342.79 L466.08,342.29 L466.10,341.79 L466.13,341.29 L466.16,340.78 L466.19,340.28 L466.21,339.78 L466.24,339.28 L466.27,338.78 L466.29,338.28 L466.31,337.78 L466.34,337.28 L466.36,336.77 L466.39,336.27 L466.42,335.77 L466.45,335.27 L466.47,334.77 L466.50,334.27 L466.52,333.77 L466.55,333.26 L466.57,332.76 L466.58,332.26 L466.59,331.76 L466.60,331.26 L466.60,330.76 L466.60,330.26 L466.60,329.76 L466.59,329.25 L466.59,328.75 L466.58,328.25 L466.58,327.75 L466.57,327.25 L466.55,326.75 L466.54,326.25 L466.52,325.75 L466.50,325.24 L463.90,325.24 L463.88,325.75 L463.86,326.25 L463.85,326.75 L463.83,327.25 L463.82,327.75 L463.82,328.25 L463.81,328.75 L463.81,329.25 L463.80,329.76 L463.80,330.26 L463.80,330.76 L463.80,331.26 L463.81,331.76 L463.82,332.26 L463.83,332.76 L463.85,333.26 L463.88,333.77 L463.90,334.27 L463.93,334.77 L463.95,335.27 L463.98,335.77 L464.01,336.27 L464.04,336.77 L464.06,337.28 L464.09,337.78 L464.11,338.28 L464.13,338.78 L464.16,339.28 L464.19,339.78 L464.21,340.28 L464.24,340.78 L464.27,341.29 L464.30,341.79 L464.32,342.29 L464.34,342.79 L464.36,343.29 L464.38,343.79 L464.39,344.29 L464.40,344.79 L464.40,345.30 L464.40,345.80 L464.40,346.30 L464.39,346.80 L464.39,347.30 L464.38,347.80 L464.38,348.30 L464.37,348.81 L464.36,349.31 L464.35,349.81 L464.34,350.31 L464.33,350.81 L464.32,351.31 L464.31,351.81 L464.30,352.31 L464.29,352.82 L464.28,353.32 L464.26,353.82 L464.24,354.32 L464.23,354.82 L464.21,355.32 L464.19,355.82 L464.17,356.32 L464.14,356.83 L464.12,357.33 L464.09,357.83 L464.06,358.33 L464.04,358.83 L464.01,359.33 L463.97,359.83 L463.94,360.34 L463.90,360.84 L463.85,361.34 L463.80,361.84 L463.75,362.34 L463.69,362.84 L463.63,363.34 L463.57,363.84 L463.51,364.35 L463.44,364.85 L463.37,365.35 L463.28,365.85 L463.19,366.35 L463.08,366.85 L462.97,367.35 L462.86,367.86 L462.74,368.36 L462.62,368.86 L462.51,369.36 L462.39,369.86 L462.29,370.36 L462.19,370.86 L462.10,371.36 L462.01,371.87 L461.92,372.37 L461.84,372.87 L461.76,373.37 L461.67,373.87 L461.59,374.37 L461.51,374.87 L461.43,375.37 L461.35,375.88 L461.27,376.38 L461.18,376.88 L461.10,377.38 L461.01,377.88 L460.92,378.38 L460.83,378.88 L460.73,379.39 L460.64,379.89 L460.54,380.39 L460.44,380.89 L460.35,381.39 L460.25,381.89 L460.15,382.39 L460.04,382.89 L459.94,383.40 L459.84,383.90 L459.74,384.40 L459.63,384.90 L459.53,385.40 L459.42,385.90 L459.32,386.40 L459.21,386.90 L459.10,387.41 L458.99,387.91 L458.88,388.41 L458.77,388.91 L458.66,389.41 L458.54,389.91 L458.43,390.41 L458.31,390.92 L458.19,391.42 L458.06,391.92 L457.94,392.42 L457.81,392.92 L457.67,393.42 L457.53,393.92 L457.38,394.42 L457.24,394.93 L457.09,395.43 L456.94,395.93 L456.80,396.43 L456.65,396.93 L456.52,397.43 L456.38,397.93 L456.25,398.43 L456.11,398.94 L455.96,399.44 L455.82,399.94 L455.68,400.44 L455.55,400.94 L455.42,401.44 L455.30,401.94 L455.19,402.45 L455.09,402.95 L455.02,403.45 L454.95,403.95 L454.89,404.45 L454.82,404.95 L454.76,405.45 L454.71,405.95 L454.65,406.46 L454.61,406.96 L454.57,407.46 L454.54,407.96 L454.51,408.46 L454.50,408.96 L454.50,409.46 L454.51,409.96 L454.53,410.47 L454.55,410.97 L454.59,411.47 L454.63,411.97 L454.68,412.47 L454.74,412.97 L454.80,413.47 L454.86,413.98 L454.93,414.48 L455.00,414.98 L455.10,415.48 L455.23,415.98 L455.39,416.48 L455.58,416.98 L455.79,417.48 L456.03,417.99 L456.29,418.49 L456.56,418.99 L456.86,419.49 L457.22,419.99 L457.65,420.49 L458.13,420.99 L458.67,421.49 L459.25,422.00 L459.87,422.50 L460.52,423.00 L461.20,423.50 Z" fill="#EFEDF5" stroke="#222" stroke-width="0.7" stroke-linejoin="round" clip-path="url(#c3clip)"/>
<g stroke="#222" stroke-width="0.65" clip-path="url(#c3clip)">
<line x1="465.20" y1="423.50" x2="465.20" y2="412.96" stroke="#222" stroke-width="0.65"/>
<line x1="465.20" y1="390.75" x2="465.20" y2="378.64" stroke="#222" stroke-width="0.65"/>
<rect x="461.70" y="390.75" width="7.00" height="22.21" fill="none" stroke="#222" stroke-width="0.65"/>
<line x1="461.70" y1="405.56" x2="468.70" y2="405.56" stroke="#222" stroke-width="1.1"/>
</g>
<path d="M501.70,422.08 L502.09,421.57 L502.47,421.07 L502.81,420.57 L503.09,420.07 L503.31,419.57 L503.43,419.07 L503.53,418.57 L503.62,418.07 L503.70,417.57 L503.76,417.07 L503.82,416.56 L503.86,416.06 L503.89,415.56 L503.90,415.06 L503.90,414.56 L503.89,414.06 L503.88,413.56 L503.87,413.06 L503.86,412.56 L503.84,412.06 L503.82,411.55 L503.79,411.05 L503.77,410.55 L503.74,410.05 L503.72,409.55 L503.69,409.05 L503.65,408.55 L503.60,408.05 L503.55,407.55 L503.49,407.04 L503.42,406.54 L503.35,406.04 L503.27,405.54 L503.19,405.04 L503.10,404.54 L503.02,404.04 L502.93,403.54 L502.85,403.04 L502.76,402.54 L502.68,402.03 L502.60,401.53 L502.52,401.03 L502.43,400.53 L502.34,400.03 L502.25,399.53 L502.16,399.03 L502.07,398.53 L501.97,398.03 L501.88,397.53 L501.78,397.02 L501.69,396.52 L501.59,396.02 L501.50,395.52 L501.40,395.02 L501.30,394.52 L501.21,394.02 L501.11,393.52 L501.02,393.02 L500.92,392.51 L500.82,392.01 L500.72,391.51 L500.62,391.01 L500.52,390.51 L500.43,390.01 L500.32,389.51 L500.22,389.01 L500.12,388.51 L500.02,388.01 L499.92,387.50 L499.81,387.00 L499.71,386.50 L499.60,386.00 L499.49,385.50 L499.39,385.00 L499.28,384.50 L499.17,384.00 L499.06,383.50 L498.95,383.00 L498.85,382.49 L498.74,381.99 L498.64,381.49 L498.54,380.99 L498.44,380.49 L498.35,379.99 L498.25,379.49 L498.15,378.99 L498.06,378.49 L497.96,377.98 L497.87,377.48 L497.77,376.98 L497.68,376.48 L497.59,375.98 L497.50,375.48 L497.42,374.98 L497.33,374.48 L497.25,373.98 L497.17,373.48 L497.09,372.97 L497.01,372.47 L496.93,371.97 L496.85,371.47 L496.78,370.97 L496.70,370.47 L496.63,369.97 L496.55,369.47 L496.49,368.97 L496.42,368.47 L496.36,367.96 L496.30,367.46 L496.24,366.96 L496.19,366.46 L496.14,365.96 L496.10,365.46 L496.05,364.96 L496.01,364.46 L495.96,363.96 L495.92,363.45 L495.88,362.95 L495.84,362.45 L495.80,361.95 L495.76,361.45 L495.72,360.95 L495.68,360.45 L495.65,359.95 L495.61,359.45 L495.58,358.95 L495.54,358.44 L495.51,357.94 L495.48,357.44 L495.45,356.94 L495.42,356.44 L495.39,355.94 L495.36,355.44 L495.33,354.94 L495.31,354.44 L495.28,353.93 L495.25,353.43 L495.23,352.93 L495.21,352.43 L495.18,351.93 L495.16,351.43 L495.13,350.93 L495.11,350.43 L495.09,349.93 L495.06,349.43 L495.04,348.92 L495.01,348.42 L494.99,347.92 L494.97,347.42 L494.94,346.92 L494.92,346.42 L494.90,345.92 L494.88,345.42 L494.86,344.92 L494.84,344.42 L494.82,343.91 L494.80,343.41 L494.78,342.91 L494.77,342.41 L494.75,341.91 L494.74,341.41 L494.73,340.91 L494.72,340.41 L494.71,339.91 L494.71,339.40 L494.70,338.90 L494.70,338.40 L494.70,337.90 L494.70,337.40 L494.70,336.90 L494.70,336.40 L494.70,335.90 L494.70,335.40 L494.70,334.90 L494.70,334.39 L494.70,333.89 L494.70,333.39 L494.70,332.89 L494.70,332.39 L494.70,331.89 L494.70,331.39 L494.70,330.89 L494.70,330.39 L494.70,329.89 L494.70,329.38 L494.70,328.88 L494.70,328.38 L494.70,327.88 L494.70,327.38 L494.70,326.88 L494.70,326.38 L494.70,325.88 L494.70,325.38 L494.70,324.87 L494.70,324.37 L494.70,323.87 L494.70,323.37 L494.70,322.87 L494.69,322.37 L494.69,321.87 L494.68,321.37 L494.68,320.87 L494.67,320.37 L494.66,319.86 L494.65,319.36 L494.64,318.86 L494.63,318.36 L494.62,317.86 L494.61,317.36 L494.60,316.86 L494.58,316.36 L494.57,315.86 L494.56,315.36 L494.54,314.85 L494.53,314.35 L494.52,313.85 L494.50,313.35 L494.49,312.85 L494.47,312.35 L494.46,311.85 L494.45,311.35 L494.43,310.85 L494.42,310.34 L494.41,309.84 L494.39,309.34 L494.38,308.84 L494.37,308.34 L494.35,307.84 L494.34,307.34 L494.33,306.84 L494.31,306.34 L494.30,305.84 L494.28,305.33 L494.27,304.83 L494.25,304.33 L494.23,303.83 L494.22,303.33 L494.20,302.83 L494.19,302.33 L494.17,301.83 L494.16,301.33 L494.14,300.83 L494.12,300.32 L494.11,299.82 L494.10,299.32 L494.08,298.82 L494.07,298.32 L494.06,297.82 L494.04,297.32 L494.03,296.82 L494.02,296.32 L494.01,295.81 L494.00,295.31 L493.99,294.81 L493.98,294.31 L493.97,293.81 L493.96,293.31 L493.95,292.81 L493.95,292.31 L493.94,291.81 L493.93,291.31 L493.92,290.80 L493.91,290.30 L493.90,289.80 L493.90,289.30 L493.89,288.80 L493.88,288.30 L493.87,287.80 L493.87,287.30 L493.86,286.80 L493.85,286.29 L493.85,285.79 L493.84,285.29 L493.83,284.79 L493.83,284.29 L493.82,283.79 L493.82,283.29 L493.81,282.79 L493.81,282.29 L493.81,281.79 L493.80,281.28 L493.80,280.78 L493.79,280.28 L493.79,279.78 L493.79,279.28 L493.78,278.78 L493.78,278.28 L493.78,277.78 L493.77,277.28 L493.77,276.78 L493.77,276.27 L493.76,275.77 L493.76,275.27 L493.76,274.77 L493.75,274.27 L493.75,273.77 L493.75,273.27 L493.74,272.77 L493.74,272.27 L493.74,271.76 L493.74,271.26 L493.73,270.76 L493.73,270.26 L493.73,269.76 L493.72,269.26 L493.72,268.76 L493.72,268.26 L493.72,267.76 L493.72,267.26 L493.71,266.75 L493.71,266.25 L493.71,265.75 L493.71,265.25 L493.71,264.75 L493.71,264.25 L493.70,263.75 L493.70,263.25 L493.70,262.75 L493.70,262.25 L493.70,261.74 L493.70,261.24 L493.70,260.74 L493.70,260.24 L493.70,259.74 L492.70,259.74 L492.70,260.24 L492.70,260.74 L492.70,261.24 L492.70,261.74 L492.70,262.25 L492.70,262.75 L492.70,263.25 L492.70,263.75 L492.69,264.25 L492.69,264.75 L492.69,265.25 L492.69,265.75 L492.69,266.25 L492.69,266.75 L492.68,267.26 L492.68,267.76 L492.68,268.26 L492.68,268.76 L492.68,269.26 L492.67,269.76 L492.67,270.26 L492.67,270.76 L492.66,271.26 L492.66,271.76 L492.66,272.27 L492.66,272.77 L492.65,273.27 L492.65,273.77 L492.65,274.27 L492.64,274.77 L492.64,275.27 L492.64,275.77 L492.63,276.27 L492.63,276.78 L492.63,277.28 L492.62,277.78 L492.62,278.28 L492.62,278.78 L492.61,279.28 L492.61,279.78 L492.61,280.28 L492.60,280.78 L492.60,281.28 L492.59,281.79 L492.59,282.29 L492.59,282.79 L492.58,283.29 L492.58,283.79 L492.57,284.29 L492.57,284.79 L492.56,285.29 L492.55,285.79 L492.55,286.29 L492.54,286.80 L492.53,287.30 L492.53,287.80 L492.52,288.30 L492.51,288.80 L492.50,289.30 L492.50,289.80 L492.49,290.30 L492.48,290.80 L492.47,291.31 L492.46,291.81 L492.45,292.31 L492.45,292.81 L492.44,293.31 L492.43,293.81 L492.42,294.31 L492.41,294.81 L492.40,295.31 L492.39,295.81 L492.38,296.32 L492.37,296.82 L492.36,297.32 L492.34,297.82 L492.33,298.32 L492.32,298.82 L492.30,299.32 L492.29,299.82 L492.28,300.32 L492.26,300.83 L492.24,301.33 L492.23,301.83 L492.21,302.33 L492.20,302.83 L492.18,303.33 L492.17,303.83 L492.15,304.33 L492.13,304.83 L492.12,305.33 L492.10,305.84 L492.09,306.34 L492.07,306.84 L492.06,307.34 L492.05,307.84 L492.03,308.34 L492.02,308.84 L492.01,309.34 L491.99,309.84 L491.98,310.34 L491.97,310.85 L491.95,311.35 L491.94,311.85 L491.93,312.35 L491.91,312.85 L491.90,313.35 L491.88,313.85 L491.87,314.35 L491.86,314.85 L491.84,315.36 L491.83,315.86 L491.82,316.36 L491.80,316.86 L491.79,317.36 L491.78,317.86 L491.77,318.36 L491.76,318.86 L491.75,319.36 L491.74,319.86 L491.73,320.37 L491.72,320.87 L491.72,321.37 L491.71,321.87 L491.71,322.37 L491.70,322.87 L491.70,323.37 L491.70,323.87 L491.70,324.37 L491.70,324.87 L491.70,325.38 L491.70,325.88 L491.70,326.38 L491.70,326.88 L491.70,327.38 L491.70,327.88 L491.70,328.38 L491.70,328.88 L491.70,329.38 L491.70,329.89 L491.70,330.39 L491.70,330.89 L491.70,331.39 L491.70,331.89 L491.70,332.39 L491.70,332.89 L491.70,333.39 L491.70,333.89 L491.70,334.39 L491.70,334.90 L491.70,335.40 L491.70,335.90 L491.70,336.40 L491.70,336.90 L491.70,337.40 L491.70,337.90 L491.70,338.40 L491.70,338.90 L491.69,339.40 L491.69,339.91 L491.68,340.41 L491.67,340.91 L491.66,341.41 L491.65,341.91 L491.63,342.41 L491.62,342.91 L491.60,343.41 L491.58,343.91 L491.56,344.42 L491.54,344.92 L491.52,345.42 L491.50,345.92 L491.48,346.42 L491.46,346.92 L491.43,347.42 L491.41,347.92 L491.39,348.42 L491.36,348.92 L491.34,349.43 L491.31,349.93 L491.29,350.43 L491.27,350.93 L491.24,351.43 L491.22,351.93 L491.19,352.43 L491.17,352.93 L491.15,353.43 L491.12,353.93 L491.09,354.44 L491.07,354.94 L491.04,355.44 L491.01,355.94 L490.98,356.44 L490.95,356.94 L490.92,357.44 L490.89,357.94 L490.86,358.44 L490.82,358.95 L490.79,359.45 L490.75,359.95 L490.72,360.45 L490.68,360.95 L490.64,361.45 L490.60,361.95 L490.56,362.45 L490.52,362.95 L490.48,363.45 L490.44,363.96 L490.39,364.46 L490.35,364.96 L490.30,365.46 L490.26,365.96 L490.21,366.46 L490.16,366.96 L490.10,367.46 L490.04,367.96 L489.98,368.47 L489.91,368.97 L489.85,369.47 L489.77,369.97 L489.70,370.47 L489.62,370.97 L489.55,371.47 L489.47,371.97 L489.39,372.47 L489.31,372.97 L489.23,373.48 L489.15,373.98 L489.07,374.48 L488.98,374.98 L488.90,375.48 L488.81,375.98 L488.72,376.48 L488.63,376.98 L488.53,377.48 L488.44,377.98 L488.34,378.49 L488.25,378.99 L488.15,379.49 L488.05,379.99 L487.96,380.49 L487.86,380.99 L487.76,381.49 L487.66,381.99 L487.55,382.49 L487.45,383.00 L487.34,383.50 L487.23,384.00 L487.12,384.50 L487.01,385.00 L486.91,385.50 L486.80,386.00 L486.69,386.50 L486.59,387.00 L486.48,387.50 L486.38,388.01 L486.28,388.51 L486.18,389.01 L486.08,389.51 L485.97,390.01 L485.88,390.51 L485.78,391.01 L485.68,391.51 L485.58,392.01 L485.48,392.51 L485.38,393.02 L485.29,393.52 L485.19,394.02 L485.10,394.52 L485.00,395.02 L484.90,395.52 L484.81,396.02 L484.71,396.52 L484.62,397.02 L484.52,397.53 L484.43,398.03 L484.33,398.53 L484.24,399.03 L484.15,399.53 L484.06,400.03 L483.97,400.53 L483.88,401.03 L483.80,401.53 L483.72,402.03 L483.64,402.54 L483.55,403.04 L483.47,403.54 L483.38,404.04 L483.30,404.54 L483.21,405.04 L483.13,405.54 L483.05,406.04 L482.98,406.54 L482.91,407.04 L482.85,407.55 L482.80,408.05 L482.75,408.55 L482.71,409.05 L482.68,409.55 L482.66,410.05 L482.63,410.55 L482.61,411.05 L482.58,411.55 L482.56,412.06 L482.54,412.56 L482.53,413.06 L482.52,413.56 L482.51,414.06 L482.50,414.56 L482.50,415.06 L482.51,415.56 L482.54,416.06 L482.58,416.56 L482.64,417.07 L482.70,417.57 L482.78,418.07 L482.87,418.57 L482.97,419.07 L483.09,419.57 L483.31,420.07 L483.59,420.57 L483.93,421.07 L484.31,421.57 L484.70,422.08 Z" fill="#DADAEB" stroke="#222" stroke-width="0.7" stroke-linejoin="round" clip-path="url(#c3clip)"/>
<g stroke="#222" stroke-width="0.65" clip-path="url(#c3clip)">
<line x1="493.20" y1="422.08" x2="493.20" y2="416.66" stroke="#222" stroke-width="0.65"/>
<line x1="493.20" y1="373.66" x2="493.20" y2="323.82" stroke="#222" stroke-width="0.65"/>
<rect x="489.70" y="373.66" width="7.00" height="43.00" fill="none" stroke="#222" stroke-width="0.65"/>
<line x1="489.70" y1="407.84" x2="496.70" y2="407.84" stroke="#222" stroke-width="1.1"/>
</g>
<path d="M529.70,422.79 L530.04,422.29 L530.36,421.79 L530.66,421.28 L530.94,420.78 L531.17,420.28 L531.36,419.78 L531.49,419.28 L531.59,418.78 L531.67,418.28 L531.76,417.78 L531.83,417.27 L531.89,416.77 L531.94,416.27 L531.98,415.77 L532.00,415.27 L532.00,414.77 L531.99,414.27 L531.98,413.77 L531.96,413.26 L531.94,412.76 L531.91,412.26 L531.88,411.76 L531.85,411.26 L531.81,410.76 L531.78,410.26 L531.74,409.76 L531.70,409.25 L531.66,408.75 L531.61,408.25 L531.55,407.75 L531.48,407.25 L531.41,406.75 L531.33,406.25 L531.25,405.75 L531.17,405.25 L531.08,404.74 L530.99,404.24 L530.90,403.74 L530.80,403.24 L530.71,402.74 L530.62,402.24 L530.52,401.74 L530.43,401.24 L530.32,400.73 L530.21,400.23 L530.10,399.73 L529.99,399.23 L529.87,398.73 L529.75,398.23 L529.63,397.73 L529.52,397.23 L529.40,396.72 L529.28,396.22 L529.16,395.72 L529.05,395.22 L528.93,394.72 L528.82,394.22 L528.70,393.72 L528.59,393.22 L528.47,392.71 L528.36,392.21 L528.24,391.71 L528.13,391.21 L528.02,390.71 L527.90,390.21 L527.79,389.71 L527.68,389.21 L527.57,388.70 L527.46,388.20 L527.36,387.70 L527.25,387.20 L527.15,386.70 L527.05,386.20 L526.95,385.70 L526.85,385.20 L526.75,384.69 L526.65,384.19 L526.55,383.69 L526.45,383.19 L526.36,382.69 L526.26,382.19 L526.17,381.69 L526.07,381.19 L525.98,380.68 L525.89,380.18 L525.80,379.68 L525.71,379.18 L525.63,378.68 L525.54,378.18 L525.45,377.68 L525.37,377.18 L525.28,376.68 L525.20,376.17 L525.12,375.67 L525.04,375.17 L524.96,374.67 L524.88,374.17 L524.80,373.67 L524.72,373.17 L524.65,372.67 L524.57,372.16 L524.49,371.66 L524.42,371.16 L524.34,370.66 L524.27,370.16 L524.19,369.66 L524.12,369.16 L524.05,368.66 L523.99,368.15 L523.93,367.65 L523.87,367.15 L523.81,366.65 L523.76,366.15 L523.71,365.65 L523.66,365.15 L523.61,364.65 L523.57,364.14 L523.52,363.64 L523.48,363.14 L523.44,362.64 L523.40,362.14 L523.36,361.64 L523.32,361.14 L523.28,360.64 L523.25,360.13 L523.21,359.63 L523.18,359.13 L523.15,358.63 L523.11,358.13 L523.08,357.63 L523.04,357.13 L523.01,356.63 L522.97,356.12 L522.94,355.62 L522.91,355.12 L522.88,354.62 L522.86,354.12 L522.84,353.62 L522.82,353.12 L522.81,352.62 L522.80,352.11 L522.79,351.61 L522.78,351.11 L522.78,350.61 L522.77,350.11 L522.77,349.61 L522.76,349.11 L522.76,348.61 L522.75,348.11 L522.75,347.60 L522.75,347.10 L522.74,346.60 L522.74,346.10 L522.74,345.60 L522.73,345.10 L522.73,344.60 L522.72,344.10 L522.72,343.59 L522.71,343.09 L522.70,342.59 L522.70,342.09 L522.69,341.59 L522.67,341.09 L522.66,340.59 L522.64,340.09 L522.62,339.58 L522.60,339.08 L522.57,338.58 L522.55,338.08 L522.53,337.58 L522.50,337.08 L522.47,336.58 L522.45,336.08 L522.42,335.57 L522.39,335.07 L522.37,334.57 L522.34,334.07 L522.31,333.57 L522.29,333.07 L522.27,332.57 L522.24,332.07 L522.22,331.56 L522.20,331.06 L522.19,330.56 L522.17,330.06 L522.15,329.56 L522.13,329.06 L522.12,328.56 L522.10,328.06 L522.08,327.55 L522.06,327.05 L522.05,326.55 L522.03,326.05 L522.01,325.55 L522.00,325.05 L521.98,324.55 L521.97,324.05 L521.95,323.54 L521.94,323.04 L521.92,322.54 L521.91,322.04 L521.89,321.54 L521.88,321.04 L521.87,320.54 L521.86,320.04 L521.85,319.54 L521.84,319.03 L521.83,318.53 L521.82,318.03 L521.81,317.53 L521.80,317.03 L521.80,316.53 L521.79,316.03 L521.79,315.53 L521.78,315.02 L521.78,314.52 L521.77,314.02 L521.77,313.52 L521.76,313.02 L521.76,312.52 L521.75,312.02 L521.75,311.52 L521.74,311.01 L521.74,310.51 L521.73,310.01 L521.73,309.51 L521.73,309.01 L521.72,308.51 L521.72,308.01 L521.72,307.51 L521.71,307.00 L521.71,306.50 L521.71,306.00 L521.71,305.50 L521.70,305.00 L521.70,304.50 L521.70,304.00 L521.70,303.50 L521.70,302.99 L521.70,302.49 L521.70,301.99 L521.70,301.49 L521.70,300.99 L521.70,300.49 L521.70,299.99 L521.70,299.49 L521.70,298.98 L521.70,298.48 L521.70,297.98 L521.70,297.48 L521.70,296.98 L521.70,296.48 L521.70,295.98 L521.70,295.48 L521.70,294.98 L521.70,294.47 L521.70,293.97 L521.70,293.47 L521.70,292.97 L521.70,292.47 L521.70,291.97 L521.70,291.47 L521.70,290.97 L521.70,290.46 L521.70,289.96 L521.70,289.46 L521.70,288.96 L521.70,288.46 L521.70,287.96 L521.70,287.46 L521.70,286.96 L521.70,286.45 L521.70,285.95 L521.70,285.45 L521.70,284.95 L521.70,284.45 L521.70,283.95 L520.70,283.95 L520.70,284.45 L520.70,284.95 L520.70,285.45 L520.70,285.95 L520.70,286.45 L520.70,286.96 L520.70,287.46 L520.70,287.96 L520.70,288.46 L520.70,288.96 L520.70,289.46 L520.70,289.96 L520.70,290.46 L520.70,290.97 L520.70,291.47 L520.70,291.97 L520.70,292.47 L520.70,292.97 L520.70,293.47 L520.70,293.97 L520.70,294.47 L520.70,294.98 L520.70,295.48 L520.70,295.98 L520.70,296.48 L520.70,296.98 L520.70,297.48 L520.70,297.98 L520.70,298.48 L520.70,298.98 L520.70,299.49 L520.70,299.99 L520.70,300.49 L520.70,300.99 L520.70,301.49 L520.70,301.99 L520.70,302.49 L520.70,302.99 L520.70,303.50 L520.70,304.00 L520.70,304.50 L520.70,305.00 L520.69,305.50 L520.69,306.00 L520.69,306.50 L520.69,307.00 L520.68,307.51 L520.68,308.01 L520.68,308.51 L520.67,309.01 L520.67,309.51 L520.67,310.01 L520.66,310.51 L520.66,311.01 L520.65,311.52 L520.65,312.02 L520.64,312.52 L520.64,313.02 L520.63,313.52 L520.63,314.02 L520.62,314.52 L520.62,315.02 L520.61,315.53 L520.61,316.03 L520.60,316.53 L520.60,317.03 L520.59,317.53 L520.58,318.03 L520.57,318.53 L520.56,319.03 L520.55,319.54 L520.54,320.04 L520.53,320.54 L520.52,321.04 L520.51,321.54 L520.49,322.04 L520.48,322.54 L520.46,323.04 L520.45,323.54 L520.43,324.05 L520.42,324.55 L520.40,325.05 L520.39,325.55 L520.37,326.05 L520.35,326.55 L520.34,327.05 L520.32,327.55 L520.30,328.06 L520.28,328.56 L520.27,329.06 L520.25,329.56 L520.23,330.06 L520.21,330.56 L520.20,331.06 L520.18,331.56 L520.16,332.07 L520.13,332.57 L520.11,333.07 L520.09,333.57 L520.06,334.07 L520.03,334.57 L520.01,335.07 L519.98,335.57 L519.95,336.08 L519.93,336.58 L519.90,337.08 L519.87,337.58 L519.85,338.08 L519.83,338.58 L519.80,339.08 L519.78,339.58 L519.76,340.09 L519.74,340.59 L519.73,341.09 L519.71,341.59 L519.70,342.09 L519.70,342.59 L519.69,343.09 L519.68,343.59 L519.68,344.10 L519.67,344.60 L519.67,345.10 L519.66,345.60 L519.66,346.10 L519.66,346.60 L519.65,347.10 L519.65,347.60 L519.65,348.11 L519.64,348.61 L519.64,349.11 L519.63,349.61 L519.63,350.11 L519.62,350.61 L519.62,351.11 L519.61,351.61 L519.60,352.11 L519.59,352.62 L519.58,353.12 L519.56,353.62 L519.54,354.12 L519.52,354.62 L519.49,355.12 L519.46,355.62 L519.43,356.12 L519.39,356.63 L519.36,357.13 L519.32,357.63 L519.29,358.13 L519.25,358.63 L519.22,359.13 L519.19,359.63 L519.15,360.13 L519.12,360.64 L519.08,361.14 L519.04,361.64 L519.00,362.14 L518.96,362.64 L518.92,363.14 L518.88,363.64 L518.83,364.14 L518.79,364.65 L518.74,365.15 L518.69,365.65 L518.64,366.15 L518.59,366.65 L518.53,367.15 L518.47,367.65 L518.41,368.15 L518.35,368.66 L518.28,369.16 L518.21,369.66 L518.13,370.16 L518.06,370.66 L517.98,371.16 L517.91,371.66 L517.83,372.16 L517.75,372.67 L517.68,373.17 L517.60,373.67 L517.52,374.17 L517.44,374.67 L517.36,375.17 L517.28,375.67 L517.20,376.17 L517.12,376.68 L517.03,377.18 L516.95,377.68 L516.86,378.18 L516.77,378.68 L516.69,379.18 L516.60,379.68 L516.51,380.18 L516.42,380.68 L516.33,381.19 L516.23,381.69 L516.14,382.19 L516.04,382.69 L515.95,383.19 L515.85,383.69 L515.75,384.19 L515.65,384.69 L515.55,385.20 L515.45,385.70 L515.35,386.20 L515.25,386.70 L515.15,387.20 L515.04,387.70 L514.94,388.20 L514.83,388.70 L514.72,389.21 L514.61,389.71 L514.50,390.21 L514.38,390.71 L514.27,391.21 L514.16,391.71 L514.04,392.21 L513.93,392.71 L513.81,393.22 L513.70,393.72 L513.58,394.22 L513.47,394.72 L513.35,395.22 L513.24,395.72 L513.12,396.22 L513.00,396.72 L512.88,397.23 L512.77,397.73 L512.65,398.23 L512.53,398.73 L512.41,399.23 L512.30,399.73 L512.19,400.23 L512.08,400.73 L511.97,401.24 L511.88,401.74 L511.78,402.24 L511.69,402.74 L511.60,403.24 L511.50,403.74 L511.41,404.24 L511.32,404.74 L511.23,405.25 L511.15,405.75 L511.07,406.25 L510.99,406.75 L510.92,407.25 L510.85,407.75 L510.79,408.25 L510.74,408.75 L510.70,409.25 L510.66,409.76 L510.62,410.26 L510.59,410.76 L510.55,411.26 L510.52,411.76 L510.49,412.26 L510.46,412.76 L510.44,413.26 L510.42,413.77 L510.41,414.27 L510.40,414.77 L510.40,415.27 L510.42,415.77 L510.46,416.27 L510.51,416.77 L510.57,417.27 L510.64,417.78 L510.73,418.28 L510.81,418.78 L510.91,419.28 L511.04,419.78 L511.23,420.28 L511.46,420.78 L511.74,421.28 L512.04,421.79 L512.36,422.29 L512.70,422.79 Z" fill="#BCBDDC" stroke="#222" stroke-width="0.7" stroke-linejoin="round" clip-path="url(#c3clip)"/>
<g stroke="#222" stroke-width="0.65" clip-path="url(#c3clip)">
<line x1="521.20" y1="422.79" x2="521.20" y2="416.66" stroke="#222" stroke-width="0.65"/>
<line x1="521.20" y1="385.05" x2="521.20" y2="342.33" stroke="#222" stroke-width="0.65"/>
<rect x="517.70" y="385.05" width="7.00" height="31.61" fill="none" stroke="#222" stroke-width="0.65"/>
<line x1="517.70" y1="409.54" x2="524.70" y2="409.54" stroke="#222" stroke-width="1.1"/>
</g>
<path d="M556.20,422.08 L556.58,421.58 L556.94,421.08 L557.29,420.58 L557.62,420.08 L557.93,419.58 L558.20,419.08 L558.43,418.57 L558.62,418.07 L558.76,417.57 L558.89,417.07 L559.01,416.57 L559.12,416.07 L559.22,415.57 L559.31,415.07 L559.39,414.57 L559.46,414.07 L559.53,413.57 L559.59,413.07 L559.65,412.57 L559.70,412.07 L559.75,411.57 L559.80,411.07 L559.85,410.57 L559.90,410.07 L559.95,409.57 L559.99,409.07 L560.02,408.57 L560.05,408.07 L560.08,407.57 L560.09,407.07 L560.10,406.57 L560.10,406.07 L560.09,405.57 L560.08,405.07 L560.06,404.57 L560.04,404.07 L560.01,403.57 L559.98,403.07 L559.94,402.57 L559.91,402.07 L559.87,401.57 L559.83,401.07 L559.79,400.57 L559.74,400.07 L559.67,399.57 L559.60,399.07 L559.51,398.57 L559.42,398.07 L559.32,397.57 L559.22,397.07 L559.12,396.57 L559.01,396.07 L558.91,395.57 L558.81,395.07 L558.71,394.57 L558.61,394.07 L558.50,393.57 L558.39,393.07 L558.27,392.57 L558.16,392.07 L558.04,391.57 L557.93,391.07 L557.81,390.57 L557.69,390.07 L557.58,389.57 L557.46,389.07 L557.35,388.56 L557.24,388.06 L557.13,387.56 L557.02,387.06 L556.91,386.56 L556.80,386.06 L556.69,385.56 L556.59,385.06 L556.48,384.56 L556.37,384.06 L556.27,383.56 L556.16,383.06 L556.06,382.56 L555.96,382.06 L555.86,381.56 L555.76,381.06 L555.66,380.56 L555.56,380.06 L555.47,379.56 L555.37,379.06 L555.28,378.56 L555.19,378.06 L555.09,377.56 L555.00,377.06 L554.91,376.56 L554.82,376.06 L554.73,375.56 L554.65,375.06 L554.56,374.56 L554.47,374.06 L554.38,373.56 L554.29,373.06 L554.21,372.56 L554.12,372.06 L554.03,371.56 L553.95,371.06 L553.86,370.56 L553.77,370.06 L553.69,369.56 L553.60,369.06 L553.52,368.56 L553.44,368.06 L553.36,367.56 L553.28,367.06 L553.20,366.56 L553.13,366.06 L553.05,365.56 L552.97,365.06 L552.90,364.56 L552.82,364.06 L552.75,363.56 L552.68,363.06 L552.61,362.56 L552.54,362.06 L552.47,361.56 L552.40,361.06 L552.34,360.56 L552.28,360.06 L552.22,359.56 L552.16,359.06 L552.10,358.56 L552.04,358.05 L551.98,357.55 L551.93,357.05 L551.87,356.55 L551.82,356.05 L551.77,355.55 L551.72,355.05 L551.67,354.55 L551.63,354.05 L551.59,353.55 L551.55,353.05 L551.52,352.55 L551.49,352.05 L551.46,351.55 L551.43,351.05 L551.40,350.55 L551.37,350.05 L551.34,349.55 L551.31,349.05 L551.29,348.55 L551.27,348.05 L551.25,347.55 L551.23,347.05 L551.22,346.55 L551.21,346.05 L551.20,345.55 L551.20,345.05 L551.20,344.55 L551.20,344.05 L551.20,343.55 L551.20,343.05 L551.20,342.55 L551.20,342.05 L551.20,341.55 L551.20,341.05 L551.20,340.55 L551.20,340.05 L551.20,339.55 L551.20,339.05 L551.20,338.55 L551.20,338.05 L551.20,337.55 L551.20,337.05 L551.20,336.55 L551.20,336.05 L551.20,335.55 L551.20,335.05 L551.19,334.55 L551.17,334.05 L551.14,333.55 L551.11,333.05 L551.07,332.55 L551.02,332.05 L550.97,331.55 L550.92,331.05 L550.86,330.55 L550.81,330.05 L550.75,329.55 L550.70,329.05 L550.65,328.55 L550.60,328.04 L550.56,327.54 L550.52,327.04 L550.49,326.54 L550.47,326.04 L550.44,325.54 L550.41,325.04 L550.39,324.54 L550.36,324.04 L550.33,323.54 L550.31,323.04 L550.29,322.54 L550.26,322.04 L550.24,321.54 L550.22,321.04 L550.20,320.54 L550.18,320.04 L550.16,319.54 L550.15,319.04 L550.14,318.54 L550.12,318.04 L550.11,317.54 L550.10,317.04 L550.10,316.54 L550.09,316.04 L550.09,315.54 L550.08,315.04 L550.08,314.54 L550.07,314.04 L550.07,313.54 L550.06,313.04 L550.06,312.54 L550.05,312.04 L550.05,311.54 L550.04,311.04 L550.04,310.54 L550.04,310.04 L550.03,309.54 L550.03,309.04 L550.03,308.54 L550.02,308.04 L550.02,307.54 L550.02,307.04 L550.01,306.54 L550.01,306.04 L550.01,305.54 L550.01,305.04 L550.01,304.54 L550.00,304.04 L550.00,303.54 L550.00,303.04 L550.00,302.54 L550.00,302.04 L550.00,301.54 L550.00,301.04 L548.40,301.04 L548.40,301.54 L548.40,302.04 L548.40,302.54 L548.40,303.04 L548.40,303.54 L548.40,304.04 L548.39,304.54 L548.39,305.04 L548.39,305.54 L548.39,306.04 L548.39,306.54 L548.38,307.04 L548.38,307.54 L548.38,308.04 L548.37,308.54 L548.37,309.04 L548.37,309.54 L548.36,310.04 L548.36,310.54 L548.36,311.04 L548.35,311.54 L548.35,312.04 L548.34,312.54 L548.34,313.04 L548.33,313.54 L548.33,314.04 L548.32,314.54 L548.32,315.04 L548.31,315.54 L548.31,316.04 L548.30,316.54 L548.30,317.04 L548.29,317.54 L548.28,318.04 L548.26,318.54 L548.25,319.04 L548.24,319.54 L548.22,320.04 L548.20,320.54 L548.18,321.04 L548.16,321.54 L548.14,322.04 L548.11,322.54 L548.09,323.04 L548.07,323.54 L548.04,324.04 L548.01,324.54 L547.99,325.04 L547.96,325.54 L547.93,326.04 L547.91,326.54 L547.88,327.04 L547.84,327.54 L547.80,328.04 L547.75,328.55 L547.70,329.05 L547.65,329.55 L547.59,330.05 L547.54,330.55 L547.48,331.05 L547.43,331.55 L547.38,332.05 L547.33,332.55 L547.29,333.05 L547.26,333.55 L547.23,334.05 L547.21,334.55 L547.20,335.05 L547.20,335.55 L547.20,336.05 L547.20,336.55 L547.20,337.05 L547.20,337.55 L547.20,338.05 L547.20,338.55 L547.20,339.05 L547.20,339.55 L547.20,340.05 L547.20,340.55 L547.20,341.05 L547.20,341.55 L547.20,342.05 L547.20,342.55 L547.20,343.05 L547.20,343.55 L547.20,344.05 L547.20,344.55 L547.20,345.05 L547.20,345.55 L547.19,346.05 L547.18,346.55 L547.17,347.05 L547.15,347.55 L547.13,348.05 L547.11,348.55 L547.09,349.05 L547.06,349.55 L547.03,350.05 L547.00,350.55 L546.97,351.05 L546.94,351.55 L546.91,352.05 L546.88,352.55 L546.85,353.05 L546.81,353.55 L546.77,354.05 L546.73,354.55 L546.68,355.05 L546.63,355.55 L546.58,356.05 L546.53,356.55 L546.47,357.05 L546.42,357.55 L546.36,358.05 L546.30,358.56 L546.24,359.06 L546.18,359.56 L546.12,360.06 L546.06,360.56 L546.00,361.06 L545.93,361.56 L545.86,362.06 L545.79,362.56 L545.72,363.06 L545.65,363.56 L545.58,364.06 L545.50,364.56 L545.43,365.06 L545.35,365.56 L545.27,366.06 L545.20,366.56 L545.12,367.06 L545.04,367.56 L544.96,368.06 L544.88,368.56 L544.80,369.06 L544.71,369.56 L544.63,370.06 L544.54,370.56 L544.45,371.06 L544.37,371.56 L544.28,372.06 L544.19,372.56 L544.11,373.06 L544.02,373.56 L543.93,374.06 L543.84,374.56 L543.75,375.06 L543.67,375.56 L543.58,376.06 L543.49,376.56 L543.40,377.06 L543.31,377.56 L543.21,378.06 L543.12,378.56 L543.03,379.06 L542.93,379.56 L542.84,380.06 L542.74,380.56 L542.64,381.06 L542.54,381.56 L542.44,382.06 L542.34,382.56 L542.24,383.06 L542.13,383.56 L542.03,384.06 L541.92,384.56 L541.81,385.06 L541.71,385.56 L541.60,386.06 L541.49,386.56 L541.38,387.06 L541.27,387.56 L541.16,388.06 L541.05,388.56 L540.94,389.07 L540.82,389.57 L540.71,390.07 L540.59,390.57 L540.47,391.07 L540.36,391.57 L540.24,392.07 L540.13,392.57 L540.01,393.07 L539.90,393.57 L539.79,394.07 L539.69,394.57 L539.59,395.07 L539.49,395.57 L539.39,396.07 L539.28,396.57 L539.18,397.07 L539.08,397.57 L538.98,398.07 L538.89,398.57 L538.80,399.07 L538.73,399.57 L538.66,400.07 L538.61,400.57 L538.57,401.07 L538.53,401.57 L538.49,402.07 L538.46,402.57 L538.42,403.07 L538.39,403.57 L538.36,404.07 L538.34,404.57 L538.32,405.07 L538.31,405.57 L538.30,406.07 L538.30,406.57 L538.31,407.07 L538.32,407.57 L538.35,408.07 L538.38,408.57 L538.41,409.07 L538.45,409.57 L538.50,410.07 L538.55,410.57 L538.60,411.07 L538.65,411.57 L538.70,412.07 L538.75,412.57 L538.81,413.07 L538.87,413.57 L538.94,414.07 L539.01,414.57 L539.09,415.07 L539.18,415.57 L539.28,416.07 L539.39,416.57 L539.51,417.07 L539.64,417.57 L539.78,418.07 L539.97,418.57 L540.20,419.08 L540.47,419.58 L540.78,420.08 L541.11,420.58 L541.46,421.08 L541.82,421.58 L542.20,422.08 Z" fill="#9E9AC8" stroke="#222" stroke-width="0.7" stroke-linejoin="round" clip-path="url(#c3clip)"/>
<g stroke="#222" stroke-width="0.65" clip-path="url(#c3clip)">
<line x1="549.20" y1="422.08" x2="549.20" y2="410.26" stroke="#222" stroke-width="0.65"/>
<line x1="549.20" y1="372.81" x2="549.20" y2="332.36" stroke="#222" stroke-width="0.65"/>
<rect x="545.70" y="372.81" width="7.00" height="37.45" fill="none" stroke="#222" stroke-width="0.65"/>
<line x1="545.70" y1="399.29" x2="552.70" y2="399.29" stroke="#222" stroke-width="1.1"/>
</g>
<path d="M583.70,417.09 L583.94,416.59 L584.17,416.09 L584.40,415.59 L584.61,415.09 L584.82,414.59 L585.02,414.09 L585.21,413.58 L585.39,413.08 L585.56,412.58 L585.71,412.08 L585.85,411.58 L586.00,411.08 L586.14,410.58 L586.27,410.08 L586.40,409.58 L586.52,409.07 L586.64,408.57 L586.74,408.07 L586.83,407.57 L586.91,407.07 L586.98,406.57 L587.04,406.07 L587.09,405.57 L587.14,405.07 L587.19,404.56 L587.23,404.06 L587.27,403.56 L587.31,403.06 L587.35,402.56 L587.39,402.06 L587.42,401.56 L587.45,401.06 L587.48,400.56 L587.51,400.05 L587.53,399.55 L587.55,399.05 L587.57,398.55 L587.59,398.05 L587.61,397.55 L587.63,397.05 L587.65,396.55 L587.66,396.04 L587.68,395.54 L587.70,395.04 L587.71,394.54 L587.73,394.04 L587.74,393.54 L587.75,393.04 L587.76,392.54 L587.77,392.04 L587.78,391.53 L587.79,391.03 L587.79,390.53 L587.80,390.03 L587.80,389.53 L587.80,389.03 L587.79,388.53 L587.79,388.03 L587.77,387.53 L587.76,387.02 L587.74,386.52 L587.72,386.02 L587.70,385.52 L587.67,385.02 L587.64,384.52 L587.61,384.02 L587.58,383.52 L587.55,383.02 L587.52,382.51 L587.48,382.01 L587.45,381.51 L587.42,381.01 L587.38,380.51 L587.34,380.01 L587.30,379.51 L587.25,379.01 L587.20,378.51 L587.15,378.00 L587.09,377.50 L587.04,377.00 L586.97,376.50 L586.91,376.00 L586.84,375.50 L586.78,375.00 L586.71,374.50 L586.64,374.00 L586.57,373.49 L586.50,372.99 L586.44,372.49 L586.37,371.99 L586.30,371.49 L586.22,370.99 L586.15,370.49 L586.07,369.99 L585.99,369.49 L585.91,368.98 L585.82,368.48 L585.74,367.98 L585.65,367.48 L585.57,366.98 L585.48,366.48 L585.39,365.98 L585.31,365.48 L585.22,364.98 L585.13,364.47 L585.05,363.97 L584.96,363.47 L584.88,362.97 L584.79,362.47 L584.70,361.97 L584.61,361.47 L584.52,360.97 L584.43,360.47 L584.34,359.96 L584.25,359.46 L584.16,358.96 L584.07,358.46 L583.98,357.96 L583.89,357.46 L583.80,356.96 L583.72,356.46 L583.63,355.96 L583.55,355.45 L583.47,354.95 L583.39,354.45 L583.31,353.95 L583.23,353.45 L583.15,352.95 L583.07,352.45 L582.99,351.95 L582.92,351.45 L582.84,350.94 L582.76,350.44 L582.69,349.94 L582.61,349.44 L582.54,348.94 L582.47,348.44 L582.39,347.94 L582.32,347.44 L582.25,346.94 L582.18,346.43 L582.11,345.93 L582.04,345.43 L581.97,344.93 L581.90,344.43 L581.83,343.93 L581.76,343.43 L581.69,342.93 L581.62,342.42 L581.55,341.92 L581.48,341.42 L581.42,340.92 L581.35,340.42 L581.29,339.92 L581.22,339.42 L581.16,338.92 L581.09,338.42 L581.03,337.91 L580.97,337.41 L580.90,336.91 L580.84,336.41 L580.78,335.91 L580.72,335.41 L580.66,334.91 L580.61,334.41 L580.55,333.91 L580.50,333.40 L580.44,332.90 L580.39,332.40 L580.34,331.90 L580.28,331.40 L580.23,330.90 L580.18,330.40 L580.13,329.90 L580.08,329.40 L580.03,328.89 L579.98,328.39 L579.93,327.89 L579.88,327.39 L579.83,326.89 L579.77,326.39 L579.72,325.89 L579.67,325.39 L579.62,324.89 L579.56,324.38 L579.51,323.88 L579.45,323.38 L579.39,322.88 L579.32,322.38 L579.25,321.88 L579.19,321.38 L579.11,320.88 L579.04,320.38 L578.97,319.87 L578.90,319.37 L578.84,318.87 L578.77,318.37 L578.72,317.87 L578.66,317.37 L578.61,316.87 L578.57,316.37 L578.53,315.87 L578.50,315.36 L578.48,314.86 L578.46,314.36 L578.44,313.86 L578.42,313.36 L578.40,312.86 L578.38,312.36 L578.36,311.86 L578.34,311.36 L578.33,310.85 L578.31,310.35 L578.29,309.85 L578.28,309.35 L578.27,308.85 L578.25,308.35 L578.24,307.85 L578.23,307.35 L578.23,306.85 L578.22,306.34 L578.21,305.84 L578.21,305.34 L578.20,304.84 L578.20,304.34 L578.20,303.84 L578.20,303.34 L578.21,302.84 L578.21,302.34 L578.22,301.83 L578.23,301.33 L578.25,300.83 L578.26,300.33 L578.28,299.83 L578.30,299.33 L578.32,298.83 L578.34,298.33 L578.36,297.83 L578.38,297.32 L578.41,296.82 L578.43,296.32 L578.45,295.82 L578.48,295.32 L578.50,294.82 L578.52,294.32 L578.54,293.82 L578.57,293.32 L578.59,292.81 L578.61,292.31 L578.63,291.81 L578.65,291.31 L578.68,290.81 L578.70,290.31 L578.73,289.81 L578.75,289.31 L578.78,288.81 L578.81,288.30 L578.84,287.80 L578.86,287.30 L578.89,286.80 L578.92,286.30 L578.94,285.80 L578.97,285.30 L578.99,284.80 L579.01,284.29 L579.03,283.79 L579.05,283.29 L579.07,282.79 L579.08,282.29 L579.09,281.79 L579.10,281.29 L579.10,280.79 L579.11,280.29 L579.11,279.78 L579.12,279.28 L579.12,278.78 L579.12,278.28 L579.13,277.78 L579.13,277.28 L579.14,276.78 L579.14,276.28 L579.14,275.78 L579.15,275.27 L579.15,274.77 L579.15,274.27 L579.16,273.77 L579.16,273.27 L579.16,272.77 L579.17,272.27 L579.17,271.77 L579.17,271.27 L579.17,270.76 L579.18,270.26 L579.18,269.76 L579.18,269.26 L579.18,268.76 L579.18,268.26 L579.19,267.76 L579.19,267.26 L579.19,266.76 L579.19,266.25 L579.19,265.75 L579.19,265.25 L579.19,264.75 L579.20,264.25 L579.20,263.75 L579.20,263.25 L579.20,262.75 L579.20,262.25 L579.20,261.74 L579.20,261.24 L579.20,260.74 L579.20,260.24 L579.20,259.74 L575.20,259.74 L575.20,260.24 L575.20,260.74 L575.20,261.24 L575.20,261.74 L575.20,262.25 L575.20,262.75 L575.20,263.25 L575.20,263.75 L575.20,264.25 L575.21,264.75 L575.21,265.25 L575.21,265.75 L575.21,266.25 L575.21,266.76 L575.21,267.26 L575.21,267.76 L575.22,268.26 L575.22,268.76 L575.22,269.26 L575.22,269.76 L575.22,270.26 L575.23,270.76 L575.23,271.27 L575.23,271.77 L575.23,272.27 L575.24,272.77 L575.24,273.27 L575.24,273.77 L575.25,274.27 L575.25,274.77 L575.25,275.27 L575.26,275.78 L575.26,276.28 L575.26,276.78 L575.27,277.28 L575.27,277.78 L575.28,278.28 L575.28,278.78 L575.28,279.28 L575.29,279.78 L575.29,280.29 L575.30,280.79 L575.30,281.29 L575.31,281.79 L575.32,282.29 L575.33,282.79 L575.35,283.29 L575.37,283.79 L575.39,284.29 L575.41,284.80 L575.43,285.30 L575.46,285.80 L575.48,286.30 L575.51,286.80 L575.54,287.30 L575.56,287.80 L575.59,288.30 L575.62,288.81 L575.65,289.31 L575.67,289.81 L575.70,290.31 L575.72,290.81 L575.75,291.31 L575.77,291.81 L575.79,292.31 L575.81,292.81 L575.83,293.32 L575.86,293.82 L575.88,294.32 L575.90,294.82 L575.92,295.32 L575.95,295.82 L575.97,296.32 L575.99,296.82 L576.02,297.32 L576.04,297.83 L576.06,298.33 L576.08,298.83 L576.10,299.33 L576.12,299.83 L576.14,300.33 L576.15,300.83 L576.17,301.33 L576.18,301.83 L576.19,302.34 L576.19,302.84 L576.20,303.34 L576.20,303.84 L576.20,304.34 L576.20,304.84 L576.19,305.34 L576.19,305.84 L576.18,306.34 L576.17,306.85 L576.17,307.35 L576.16,307.85 L576.15,308.35 L576.13,308.85 L576.12,309.35 L576.11,309.85 L576.09,310.35 L576.07,310.85 L576.06,311.36 L576.04,311.86 L576.02,312.36 L576.00,312.86 L575.98,313.36 L575.96,313.86 L575.94,314.36 L575.92,314.86 L575.90,315.36 L575.87,315.87 L575.83,316.37 L575.79,316.87 L575.74,317.37 L575.68,317.87 L575.63,318.37 L575.56,318.87 L575.50,319.37 L575.43,319.87 L575.36,320.38 L575.29,320.88 L575.21,321.38 L575.15,321.88 L575.08,322.38 L575.01,322.88 L574.95,323.38 L574.89,323.88 L574.84,324.38 L574.78,324.89 L574.73,325.39 L574.68,325.89 L574.63,326.39 L574.57,326.89 L574.52,327.39 L574.47,327.89 L574.42,328.39 L574.37,328.89 L574.32,329.40 L574.27,329.90 L574.22,330.40 L574.17,330.90 L574.12,331.40 L574.06,331.90 L574.01,332.40 L573.96,332.90 L573.90,333.40 L573.85,333.91 L573.79,334.41 L573.74,334.91 L573.68,335.41 L573.62,335.91 L573.56,336.41 L573.50,336.91 L573.43,337.41 L573.37,337.91 L573.31,338.42 L573.24,338.92 L573.18,339.42 L573.11,339.92 L573.05,340.42 L572.98,340.92 L572.92,341.42 L572.85,341.92 L572.78,342.42 L572.71,342.93 L572.64,343.43 L572.57,343.93 L572.50,344.43 L572.43,344.93 L572.36,345.43 L572.29,345.93 L572.22,346.43 L572.15,346.94 L572.08,347.44 L572.01,347.94 L571.93,348.44 L571.86,348.94 L571.79,349.44 L571.71,349.94 L571.64,350.44 L571.56,350.94 L571.48,351.45 L571.41,351.95 L571.33,352.45 L571.25,352.95 L571.17,353.45 L571.09,353.95 L571.01,354.45 L570.93,354.95 L570.85,355.45 L570.77,355.96 L570.68,356.46 L570.60,356.96 L570.51,357.46 L570.42,357.96 L570.33,358.46 L570.24,358.96 L570.15,359.46 L570.06,359.96 L569.97,360.47 L569.88,360.97 L569.79,361.47 L569.70,361.97 L569.61,362.47 L569.52,362.97 L569.44,363.47 L569.35,363.97 L569.27,364.47 L569.18,364.98 L569.09,365.48 L569.01,365.98 L568.92,366.48 L568.83,366.98 L568.75,367.48 L568.66,367.98 L568.58,368.48 L568.49,368.98 L568.41,369.49 L568.33,369.99 L568.25,370.49 L568.18,370.99 L568.10,371.49 L568.03,371.99 L567.96,372.49 L567.90,372.99 L567.83,373.49 L567.76,374.00 L567.69,374.50 L567.62,375.00 L567.56,375.50 L567.49,376.00 L567.43,376.50 L567.36,377.00 L567.31,377.50 L567.25,378.00 L567.20,378.51 L567.15,379.01 L567.10,379.51 L567.06,380.01 L567.02,380.51 L566.98,381.01 L566.95,381.51 L566.92,382.01 L566.88,382.51 L566.85,383.02 L566.82,383.52 L566.79,384.02 L566.76,384.52 L566.73,385.02 L566.70,385.52 L566.68,386.02 L566.66,386.52 L566.64,387.02 L566.63,387.53 L566.61,388.03 L566.61,388.53 L566.60,389.03 L566.60,389.53 L566.60,390.03 L566.61,390.53 L566.61,391.03 L566.62,391.53 L566.63,392.04 L566.64,392.54 L566.65,393.04 L566.66,393.54 L566.67,394.04 L566.69,394.54 L566.70,395.04 L566.72,395.54 L566.74,396.04 L566.75,396.55 L566.77,397.05 L566.79,397.55 L566.81,398.05 L566.83,398.55 L566.85,399.05 L566.87,399.55 L566.89,400.05 L566.92,400.56 L566.95,401.06 L566.98,401.56 L567.01,402.06 L567.05,402.56 L567.09,403.06 L567.13,403.56 L567.17,404.06 L567.21,404.56 L567.26,405.07 L567.31,405.57 L567.36,406.07 L567.42,406.57 L567.49,407.07 L567.57,407.57 L567.66,408.07 L567.76,408.57 L567.88,409.07 L568.00,409.58 L568.13,410.08 L568.26,410.58 L568.40,411.08 L568.55,411.58 L568.69,412.08 L568.84,412.58 L569.01,413.08 L569.19,413.58 L569.38,414.09 L569.58,414.59 L569.79,415.09 L570.00,415.59 L570.23,416.09 L570.46,416.59 L570.70,417.09 Z" fill="#807DBA" stroke="#222" stroke-width="0.7" stroke-linejoin="round" clip-path="url(#c3clip)"/>
<g stroke="#222" stroke-width="0.65" clip-path="url(#c3clip)">
<line x1="577.20" y1="417.09" x2="577.20" y2="403.56" stroke="#222" stroke-width="0.65"/>
<line x1="577.20" y1="361.13" x2="577.20" y2="312.43" stroke="#222" stroke-width="0.65"/>
<rect x="573.70" y="361.13" width="7.00" height="42.44" fill="none" stroke="#222" stroke-width="0.65"/>
<line x1="573.70" y1="379.78" x2="580.70" y2="379.78" stroke="#222" stroke-width="1.1"/>
</g>
<path d="M608.20,422.79 L609.48,422.29 L610.67,421.79 L611.70,421.29 L612.52,420.79 L613.15,420.29 L613.73,419.79 L614.24,419.29 L614.67,418.78 L615.00,418.28 L615.21,417.78 L615.34,417.28 L615.47,416.78 L615.58,416.28 L615.67,415.78 L615.74,415.28 L615.78,414.78 L615.80,414.28 L615.77,413.78 L615.68,413.28 L615.55,412.78 L615.37,412.28 L615.17,411.78 L614.96,411.28 L614.74,410.78 L614.51,410.28 L614.22,409.78 L613.89,409.28 L613.52,408.78 L613.14,408.28 L612.74,407.78 L612.35,407.28 L611.96,406.78 L611.60,406.28 L611.24,405.77 L610.86,405.27 L610.47,404.77 L610.09,404.27 L609.73,403.77 L609.38,403.27 L609.05,402.77 L608.77,402.27 L608.51,401.77 L608.27,401.27 L608.03,400.77 L607.81,400.27 L607.60,399.77 L607.41,399.27 L607.24,398.77 L607.09,398.27 L606.98,397.77 L606.88,397.27 L606.78,396.77 L606.69,396.27 L606.60,395.77 L606.52,395.27 L606.45,394.77 L606.39,394.27 L606.33,393.77 L606.28,393.26 L606.24,392.76 L606.21,392.26 L606.18,391.76 L606.15,391.26 L606.12,390.76 L606.10,390.26 L606.08,389.76 L606.06,389.26 L606.04,388.76 L606.03,388.26 L606.01,387.76 L606.01,387.26 L606.00,386.76 L606.00,386.26 L606.01,385.76 L606.04,385.26 L606.08,384.76 L606.12,384.26 L606.17,383.76 L606.23,383.26 L606.28,382.76 L606.34,382.26 L606.40,381.76 L606.45,381.26 L606.50,380.76 L606.55,380.25 L606.61,379.75 L606.67,379.25 L606.74,378.75 L606.79,378.25 L606.84,377.75 L606.88,377.25 L606.90,376.75 L606.90,376.25 L606.87,375.75 L606.82,375.25 L606.75,374.75 L606.68,374.25 L606.60,373.75 L606.52,373.25 L606.46,372.75 L606.40,372.25 L606.36,371.75 L606.31,371.25 L606.27,370.75 L606.22,370.25 L606.18,369.75 L606.14,369.25 L606.11,368.75 L606.07,368.25 L606.05,367.74 L606.02,367.24 L606.01,366.74 L605.99,366.24 L605.98,365.74 L605.97,365.24 L605.96,364.74 L605.95,364.24 L605.94,363.74 L605.93,363.24 L605.93,362.74 L605.92,362.24 L605.91,361.74 L605.91,361.24 L605.90,360.74 L605.90,360.24 L605.90,359.74 L605.90,359.24 L605.90,358.74 L605.91,358.24 L605.93,357.74 L605.95,357.24 L605.97,356.74 L605.99,356.24 L606.01,355.74 L606.04,355.24 L606.07,354.73 L606.10,354.23 L606.13,353.73 L606.15,353.23 L606.18,352.73 L606.20,352.23 L606.23,351.73 L606.26,351.23 L606.29,350.73 L606.33,350.23 L606.36,349.73 L606.40,349.23 L606.43,348.73 L606.46,348.23 L606.48,347.73 L606.49,347.23 L606.50,346.73 L606.50,346.23 L606.48,345.73 L606.45,345.23 L606.42,344.73 L606.37,344.23 L606.33,343.73 L606.28,343.23 L606.23,342.73 L606.19,342.22 L606.15,341.72 L606.12,341.22 L606.09,340.72 L606.07,340.22 L606.05,339.72 L606.03,339.22 L606.01,338.72 L605.99,338.22 L605.97,337.72 L605.95,337.22 L605.93,336.72 L605.92,336.22 L605.90,335.72 L605.88,335.22 L605.87,334.72 L605.86,334.22 L605.85,333.72 L605.83,333.22 L605.82,332.72 L605.82,332.22 L605.81,331.72 L605.80,331.22 L605.80,330.72 L605.79,330.22 L605.79,329.72 L605.79,329.21 L605.78,328.71 L605.78,328.21 L605.77,327.71 L605.77,327.21 L605.77,326.71 L605.76,326.21 L605.76,325.71 L605.76,325.21 L605.75,324.71 L605.75,324.21 L605.75,323.71 L605.74,323.21 L605.74,322.71 L605.74,322.21 L605.73,321.71 L605.73,321.21 L605.73,320.71 L605.73,320.21 L605.72,319.71 L605.72,319.21 L605.72,318.71 L605.72,318.21 L605.72,317.71 L605.71,317.21 L605.71,316.70 L605.71,316.20 L605.71,315.70 L605.71,315.20 L605.71,314.70 L605.71,314.20 L605.70,313.70 L605.70,313.20 L605.70,312.70 L605.70,312.20 L605.70,311.70 L605.70,311.20 L605.70,310.70 L605.70,310.20 L605.70,309.70 L605.70,309.20 L605.70,308.70 L605.70,308.20 L605.70,307.70 L605.70,307.20 L605.70,306.70 L605.70,306.20 L605.70,305.70 L605.70,305.20 L605.70,304.70 L605.70,304.20 L605.71,303.69 L605.71,303.19 L605.71,302.69 L605.71,302.19 L605.71,301.69 L605.71,301.19 L605.71,300.69 L605.71,300.19 L605.72,299.69 L605.72,299.19 L605.72,298.69 L605.72,298.19 L605.72,297.69 L605.73,297.19 L605.73,296.69 L605.73,296.19 L605.74,295.69 L605.74,295.19 L605.74,294.69 L605.75,294.19 L605.75,293.69 L605.75,293.19 L605.76,292.69 L605.76,292.19 L605.76,291.69 L605.77,291.19 L605.77,290.68 L605.78,290.18 L605.78,289.68 L605.79,289.18 L605.79,288.68 L605.80,288.18 L605.83,287.68 L605.90,287.18 L606.00,286.68 L606.11,286.18 L606.23,285.68 L606.34,285.18 L606.43,284.68 L606.49,284.18 L606.51,283.68 L606.53,283.18 L606.55,282.68 L606.56,282.18 L606.58,281.68 L606.59,281.18 L606.59,280.68 L606.60,280.18 L606.60,279.68 L603.80,279.68 L603.80,280.18 L603.81,280.68 L603.81,281.18 L603.82,281.68 L603.84,282.18 L603.85,282.68 L603.87,283.18 L603.89,283.68 L603.91,284.18 L603.97,284.68 L604.06,285.18 L604.17,285.68 L604.29,286.18 L604.40,286.68 L604.50,287.18 L604.57,287.68 L604.60,288.18 L604.61,288.68 L604.61,289.18 L604.62,289.68 L604.62,290.18 L604.63,290.68 L604.63,291.19 L604.64,291.69 L604.64,292.19 L604.64,292.69 L604.65,293.19 L604.65,293.69 L604.65,294.19 L604.66,294.69 L604.66,295.19 L604.66,295.69 L604.67,296.19 L604.67,296.69 L604.67,297.19 L604.68,297.69 L604.68,298.19 L604.68,298.69 L604.68,299.19 L604.68,299.69 L604.69,300.19 L604.69,300.69 L604.69,301.19 L604.69,301.69 L604.69,302.19 L604.69,302.69 L604.69,303.19 L604.69,303.69 L604.70,304.20 L604.70,304.70 L604.70,305.20 L604.70,305.70 L604.70,306.20 L604.70,306.70 L604.70,307.20 L604.70,307.70 L604.70,308.20 L604.70,308.70 L604.70,309.20 L604.70,309.70 L604.70,310.20 L604.70,310.70 L604.70,311.20 L604.70,311.70 L604.70,312.20 L604.70,312.70 L604.70,313.20 L604.70,313.70 L604.69,314.20 L604.69,314.70 L604.69,315.20 L604.69,315.70 L604.69,316.20 L604.69,316.70 L604.69,317.21 L604.68,317.71 L604.68,318.21 L604.68,318.71 L604.68,319.21 L604.68,319.71 L604.67,320.21 L604.67,320.71 L604.67,321.21 L604.67,321.71 L604.66,322.21 L604.66,322.71 L604.66,323.21 L604.65,323.71 L604.65,324.21 L604.65,324.71 L604.64,325.21 L604.64,325.71 L604.64,326.21 L604.63,326.71 L604.63,327.21 L604.63,327.71 L604.62,328.21 L604.62,328.71 L604.61,329.21 L604.61,329.72 L604.61,330.22 L604.60,330.72 L604.60,331.22 L604.59,331.72 L604.58,332.22 L604.58,332.72 L604.57,333.22 L604.55,333.72 L604.54,334.22 L604.53,334.72 L604.52,335.22 L604.50,335.72 L604.48,336.22 L604.47,336.72 L604.45,337.22 L604.43,337.72 L604.41,338.22 L604.39,338.72 L604.37,339.22 L604.35,339.72 L604.33,340.22 L604.31,340.72 L604.28,341.22 L604.25,341.72 L604.21,342.22 L604.17,342.73 L604.12,343.23 L604.07,343.73 L604.03,344.23 L603.98,344.73 L603.95,345.23 L603.92,345.73 L603.90,346.23 L603.90,346.73 L603.91,347.23 L603.92,347.73 L603.94,348.23 L603.97,348.73 L604.00,349.23 L604.04,349.73 L604.07,350.23 L604.11,350.73 L604.14,351.23 L604.17,351.73 L604.20,352.23 L604.22,352.73 L604.25,353.23 L604.27,353.73 L604.30,354.23 L604.33,354.73 L604.36,355.24 L604.39,355.74 L604.41,356.24 L604.43,356.74 L604.45,357.24 L604.47,357.74 L604.49,358.24 L604.50,358.74 L604.50,359.24 L604.50,359.74 L604.50,360.24 L604.50,360.74 L604.49,361.24 L604.49,361.74 L604.48,362.24 L604.47,362.74 L604.47,363.24 L604.46,363.74 L604.45,364.24 L604.44,364.74 L604.43,365.24 L604.42,365.74 L604.41,366.24 L604.39,366.74 L604.38,367.24 L604.35,367.74 L604.33,368.25 L604.29,368.75 L604.26,369.25 L604.22,369.75 L604.18,370.25 L604.13,370.75 L604.09,371.25 L604.04,371.75 L604.00,372.25 L603.94,372.75 L603.88,373.25 L603.80,373.75 L603.72,374.25 L603.65,374.75 L603.58,375.25 L603.53,375.75 L603.50,376.25 L603.50,376.75 L603.52,377.25 L603.56,377.75 L603.61,378.25 L603.66,378.75 L603.73,379.25 L603.79,379.75 L603.85,380.25 L603.90,380.76 L603.95,381.26 L604.00,381.76 L604.06,382.26 L604.12,382.76 L604.17,383.26 L604.23,383.76 L604.28,384.26 L604.32,384.76 L604.36,385.26 L604.39,385.76 L604.40,386.26 L604.40,386.76 L604.39,387.26 L604.39,387.76 L604.37,388.26 L604.36,388.76 L604.34,389.26 L604.32,389.76 L604.30,390.26 L604.28,390.76 L604.25,391.26 L604.22,391.76 L604.19,392.26 L604.16,392.76 L604.12,393.26 L604.07,393.77 L604.01,394.27 L603.95,394.77 L603.88,395.27 L603.80,395.77 L603.71,396.27 L603.62,396.77 L603.52,397.27 L603.42,397.77 L603.31,398.27 L603.16,398.77 L602.99,399.27 L602.80,399.77 L602.59,400.27 L602.37,400.77 L602.13,401.27 L601.89,401.77 L601.63,402.27 L601.35,402.77 L601.02,403.27 L600.67,403.77 L600.31,404.27 L599.93,404.77 L599.54,405.27 L599.16,405.77 L598.80,406.28 L598.44,406.78 L598.05,407.28 L597.66,407.78 L597.26,408.28 L596.88,408.78 L596.51,409.28 L596.18,409.78 L595.89,410.28 L595.66,410.78 L595.44,411.28 L595.23,411.78 L595.03,412.28 L594.85,412.78 L594.72,413.28 L594.63,413.78 L594.60,414.28 L594.62,414.78 L594.66,415.28 L594.73,415.78 L594.82,416.28 L594.93,416.78 L595.06,417.28 L595.19,417.78 L595.40,418.28 L595.73,418.78 L596.16,419.29 L596.67,419.79 L597.25,420.29 L597.88,420.79 L598.70,421.29 L599.73,421.79 L600.92,422.29 L602.20,422.79 Z" fill="#6A51A3" stroke="#222" stroke-width="0.7" stroke-linejoin="round" clip-path="url(#c3clip)"/>
<g stroke="#222" stroke-width="0.65" clip-path="url(#c3clip)">
<line x1="605.20" y1="422.79" x2="605.20" y2="414.39" stroke="#222" stroke-width="0.65"/>
<line x1="605.20" y1="402.71" x2="605.20" y2="380.78" stroke="#222" stroke-width="0.65"/>
<rect x="601.70" y="402.71" width="7.00" height="11.68" fill="none" stroke="#222" stroke-width="0.65"/>
<line x1="601.70" y1="413.67" x2="608.70" y2="413.67" stroke="#222" stroke-width="1.1"/>
</g>
<path d="M636.20,422.79 L637.49,422.29 L638.70,421.78 L639.74,421.28 L640.54,420.78 L641.13,420.28 L641.66,419.77 L642.14,419.27 L642.56,418.77 L642.91,418.27 L643.18,417.77 L643.36,417.26 L643.46,416.76 L643.55,416.26 L643.63,415.76 L643.69,415.25 L643.75,414.75 L643.78,414.25 L643.80,413.75 L643.79,413.24 L643.70,412.74 L643.54,412.24 L643.33,411.74 L643.08,411.24 L642.81,410.73 L642.54,410.23 L642.26,409.73 L641.93,409.23 L641.54,408.72 L641.11,408.22 L640.67,407.72 L640.24,407.22 L639.83,406.72 L639.46,406.21 L639.09,405.71 L638.73,405.21 L638.37,404.71 L638.02,404.20 L637.69,403.70 L637.38,403.20 L637.09,402.70 L636.83,402.20 L636.58,401.69 L636.34,401.19 L636.09,400.69 L635.86,400.19 L635.65,399.68 L635.47,399.18 L635.33,398.68 L635.23,398.18 L635.19,397.67 L635.16,397.17 L635.13,396.67 L635.10,396.17 L635.08,395.67 L635.06,395.16 L635.04,394.66 L635.03,394.16 L635.01,393.66 L635.01,393.15 L635.00,392.65 L635.00,392.15 L635.01,391.65 L635.05,391.15 L635.11,390.64 L635.19,390.14 L635.28,389.64 L635.37,389.14 L635.46,388.63 L635.56,388.13 L635.65,387.63 L635.72,387.13 L635.79,386.63 L635.83,386.12 L635.88,385.62 L635.93,385.12 L635.98,384.62 L636.03,384.11 L636.07,383.61 L636.11,383.11 L636.14,382.61 L636.17,382.10 L636.19,381.60 L636.20,381.10 L636.20,380.60 L636.17,380.10 L636.12,379.59 L636.04,379.09 L635.95,378.59 L635.85,378.09 L635.73,377.58 L635.61,377.08 L635.50,376.58 L635.39,376.08 L635.29,375.58 L635.20,375.07 L635.12,374.57 L635.03,374.07 L634.93,373.57 L634.84,373.06 L634.75,372.56 L634.66,372.06 L634.58,371.56 L634.51,371.05 L634.46,370.55 L634.42,370.05 L634.40,369.55 L634.40,369.05 L634.41,368.54 L634.43,368.04 L634.46,367.54 L634.49,367.04 L634.52,366.53 L634.55,366.03 L634.58,365.53 L634.60,365.03 L634.63,364.53 L634.66,364.02 L634.69,363.52 L634.72,363.02 L634.75,362.52 L634.77,362.01 L634.79,361.51 L634.80,361.01 L634.79,360.51 L634.77,360.01 L634.72,359.50 L634.66,359.00 L634.58,358.50 L634.50,358.00 L631.90,358.00 L631.82,358.50 L631.74,359.00 L631.68,359.50 L631.63,360.01 L631.61,360.51 L631.60,361.01 L631.61,361.51 L631.63,362.01 L631.65,362.52 L631.68,363.02 L631.71,363.52 L631.74,364.02 L631.77,364.53 L631.80,365.03 L631.82,365.53 L631.85,366.03 L631.88,366.53 L631.91,367.04 L631.94,367.54 L631.97,368.04 L631.99,368.54 L632.00,369.05 L632.00,369.55 L631.98,370.05 L631.94,370.55 L631.89,371.05 L631.82,371.56 L631.74,372.06 L631.65,372.56 L631.56,373.06 L631.47,373.57 L631.37,374.07 L631.28,374.57 L631.20,375.07 L631.11,375.58 L631.01,376.08 L630.90,376.58 L630.79,377.08 L630.67,377.58 L630.55,378.09 L630.45,378.59 L630.36,379.09 L630.28,379.59 L630.23,380.10 L630.20,380.60 L630.20,381.10 L630.21,381.60 L630.23,382.10 L630.26,382.61 L630.29,383.11 L630.33,383.61 L630.37,384.11 L630.42,384.62 L630.47,385.12 L630.52,385.62 L630.57,386.12 L630.61,386.63 L630.68,387.13 L630.75,387.63 L630.84,388.13 L630.94,388.63 L631.03,389.14 L631.12,389.64 L631.21,390.14 L631.29,390.64 L631.35,391.15 L631.39,391.65 L631.40,392.15 L631.40,392.65 L631.39,393.15 L631.39,393.66 L631.37,394.16 L631.36,394.66 L631.34,395.16 L631.32,395.67 L631.30,396.17 L631.27,396.67 L631.24,397.17 L631.21,397.67 L631.17,398.18 L631.07,398.68 L630.93,399.18 L630.75,399.68 L630.54,400.19 L630.31,400.69 L630.06,401.19 L629.82,401.69 L629.57,402.20 L629.31,402.70 L629.02,403.20 L628.71,403.70 L628.38,404.20 L628.03,404.71 L627.67,405.21 L627.31,405.71 L626.94,406.21 L626.57,406.72 L626.16,407.22 L625.73,407.72 L625.29,408.22 L624.86,408.72 L624.47,409.23 L624.14,409.73 L623.86,410.23 L623.59,410.73 L623.32,411.24 L623.07,411.74 L622.86,412.24 L622.70,412.74 L622.61,413.24 L622.60,413.75 L622.62,414.25 L622.65,414.75 L622.71,415.25 L622.77,415.76 L622.85,416.26 L622.94,416.76 L623.04,417.26 L623.22,417.77 L623.49,418.27 L623.84,418.77 L624.26,419.27 L624.74,419.77 L625.27,420.28 L625.86,420.78 L626.66,421.28 L627.70,421.78 L628.91,422.29 L630.20,422.79 Z" fill="#54278F" stroke="#222" stroke-width="0.7" stroke-linejoin="round" clip-path="url(#c3clip)"/>
<g stroke="#222" stroke-width="0.65" clip-path="url(#c3clip)">
<line x1="633.20" y1="422.79" x2="633.20" y2="417.09" stroke="#222" stroke-width="0.65"/>
<line x1="633.20" y1="402.71" x2="633.20" y2="383.63" stroke="#222" stroke-width="0.65"/>
<rect x="629.70" y="402.71" width="7.00" height="14.38" fill="none" stroke="#222" stroke-width="0.65"/>
<line x1="629.70" y1="413.10" x2="636.70" y2="413.10" stroke="#222" stroke-width="1.1"/>
</g>
<path d="M669.70,420.08 L669.96,419.58 L670.21,419.08 L670.46,418.58 L670.68,418.08 L670.88,417.58 L671.05,417.08 L671.17,416.58 L671.24,416.08 L671.32,415.58 L671.38,415.08 L671.45,414.57 L671.51,414.07 L671.56,413.57 L671.61,413.07 L671.65,412.57 L671.69,412.07 L671.73,411.57 L671.75,411.07 L671.78,410.57 L671.79,410.07 L671.80,409.57 L671.80,409.07 L671.80,408.57 L671.79,408.06 L671.79,407.56 L671.78,407.06 L671.76,406.56 L671.75,406.06 L671.74,405.56 L671.72,405.06 L671.70,404.56 L671.68,404.06 L671.66,403.56 L671.64,403.06 L671.62,402.56 L671.60,402.06 L671.57,401.56 L671.53,401.05 L671.49,400.55 L671.45,400.05 L671.39,399.55 L671.34,399.05 L671.28,398.55 L671.21,398.05 L671.15,397.55 L671.08,397.05 L671.01,396.55 L670.94,396.05 L670.87,395.55 L670.80,395.05 L670.73,394.55 L670.66,394.04 L670.59,393.54 L670.51,393.04 L670.43,392.54 L670.34,392.04 L670.26,391.54 L670.17,391.04 L670.08,390.54 L669.99,390.04 L669.90,389.54 L669.81,389.04 L669.72,388.54 L669.62,388.04 L669.53,387.54 L669.44,387.03 L669.34,386.53 L669.25,386.03 L669.15,385.53 L669.05,385.03 L668.95,384.53 L668.85,384.03 L668.75,383.53 L668.65,383.03 L668.55,382.53 L668.45,382.03 L668.35,381.53 L668.25,381.03 L668.15,380.52 L668.05,380.02 L667.95,379.52 L667.85,379.02 L667.75,378.52 L667.65,378.02 L667.55,377.52 L667.45,377.02 L667.35,376.52 L667.25,376.02 L667.15,375.52 L667.05,375.02 L666.96,374.52 L666.87,374.02 L666.77,373.51 L666.68,373.01 L666.59,372.51 L666.51,372.01 L666.42,371.51 L666.33,371.01 L666.24,370.51 L666.16,370.01 L666.08,369.51 L665.99,369.01 L665.91,368.51 L665.83,368.01 L665.75,367.51 L665.67,367.01 L665.59,366.50 L665.52,366.00 L665.44,365.50 L665.37,365.00 L665.29,364.50 L665.22,364.00 L665.14,363.50 L665.07,363.00 L665.00,362.50 L664.93,362.00 L664.86,361.50 L664.79,361.00 L664.73,360.50 L664.67,360.00 L664.61,359.49 L664.55,358.99 L664.49,358.49 L664.44,357.99 L664.38,357.49 L664.32,356.99 L664.27,356.49 L664.22,355.99 L664.16,355.49 L664.12,354.99 L664.07,354.49 L664.02,353.99 L663.98,353.49 L663.95,352.99 L663.91,352.48 L663.88,351.98 L663.85,351.48 L663.82,350.98 L663.79,350.48 L663.77,349.98 L663.74,349.48 L663.71,348.98 L663.69,348.48 L663.66,347.98 L663.64,347.48 L663.62,346.98 L663.59,346.48 L663.57,345.97 L663.55,345.47 L663.53,344.97 L663.51,344.47 L663.49,343.97 L663.47,343.47 L663.46,342.97 L663.44,342.47 L663.42,341.97 L663.40,341.47 L663.39,340.97 L663.37,340.47 L663.36,339.97 L663.34,339.47 L663.33,338.96 L663.31,338.46 L663.30,337.96 L663.28,337.46 L663.27,336.96 L663.26,336.46 L663.24,335.96 L663.23,335.46 L663.22,334.96 L663.21,334.46 L663.20,333.96 L663.18,333.46 L663.17,332.96 L663.16,332.46 L663.15,331.95 L663.14,331.45 L663.13,330.95 L663.12,330.45 L663.11,329.95 L663.10,329.45 L663.09,328.95 L663.08,328.45 L663.07,327.95 L663.06,327.45 L663.05,326.95 L663.05,326.45 L663.04,325.95 L663.03,325.45 L663.02,324.94 L663.01,324.44 L663.00,323.94 L662.99,323.44 L662.99,322.94 L662.98,322.44 L662.97,321.94 L662.96,321.44 L662.95,320.94 L662.94,320.44 L662.93,319.94 L662.93,319.44 L662.92,318.94 L662.91,318.43 L662.90,317.93 L662.89,317.43 L662.89,316.93 L662.88,316.43 L662.87,315.93 L662.86,315.43 L662.86,314.93 L662.85,314.43 L662.84,313.93 L662.84,313.43 L662.83,312.93 L662.83,312.43 L662.82,311.93 L662.82,311.42 L662.81,310.92 L662.81,310.42 L662.80,309.92 L662.80,309.42 L662.80,308.92 L662.79,308.42 L662.79,307.92 L662.78,307.42 L662.78,306.92 L662.78,306.42 L662.77,305.92 L662.77,305.42 L662.77,304.92 L662.76,304.41 L662.76,303.91 L662.76,303.41 L662.75,302.91 L662.75,302.41 L662.75,301.91 L662.74,301.41 L662.74,300.91 L662.74,300.41 L662.74,299.91 L662.73,299.41 L662.73,298.91 L662.73,298.41 L662.73,297.91 L662.72,297.40 L662.72,296.90 L662.72,296.40 L662.72,295.90 L662.71,295.40 L662.71,294.90 L662.71,294.40 L662.71,293.90 L662.71,293.40 L662.71,292.90 L662.71,292.40 L662.70,291.90 L662.70,291.40 L662.70,290.89 L662.70,290.39 L662.70,289.89 L662.70,289.39 L662.70,288.89 L662.70,288.39 L662.70,287.89 L662.70,287.39 L662.70,286.89 L662.70,286.39 L662.70,285.89 L662.70,285.39 L662.70,284.89 L662.70,284.39 L662.70,283.88 L662.70,283.38 L662.70,282.88 L662.70,282.38 L662.70,281.88 L662.70,281.38 L662.70,280.88 L662.70,280.38 L662.70,279.88 L662.70,279.38 L662.70,278.88 L662.70,278.38 L662.70,277.88 L662.70,277.38 L662.70,276.87 L662.70,276.37 L662.70,275.87 L662.70,275.37 L662.70,274.87 L662.70,274.37 L662.70,273.87 L662.70,273.37 L662.70,272.87 L662.70,272.37 L662.70,271.87 L662.70,271.37 L662.70,270.87 L662.70,270.37 L662.70,269.86 L662.70,269.36 L662.70,268.86 L662.70,268.36 L662.70,267.86 L662.70,267.36 L662.70,266.86 L659.70,266.86 L659.70,267.36 L659.70,267.86 L659.70,268.36 L659.70,268.86 L659.70,269.36 L659.70,269.86 L659.70,270.37 L659.70,270.87 L659.70,271.37 L659.70,271.87 L659.70,272.37 L659.70,272.87 L659.70,273.37 L659.70,273.87 L659.70,274.37 L659.70,274.87 L659.70,275.37 L659.70,275.87 L659.70,276.37 L659.70,276.87 L659.70,277.38 L659.70,277.88 L659.70,278.38 L659.70,278.88 L659.70,279.38 L659.70,279.88 L659.70,280.38 L659.70,280.88 L659.70,281.38 L659.70,281.88 L659.70,282.38 L659.70,282.88 L659.70,283.38 L659.70,283.88 L659.70,284.39 L659.70,284.89 L659.70,285.39 L659.70,285.89 L659.70,286.39 L659.70,286.89 L659.70,287.39 L659.70,287.89 L659.70,288.39 L659.70,288.89 L659.70,289.39 L659.70,289.89 L659.70,290.39 L659.70,290.89 L659.70,291.40 L659.70,291.90 L659.69,292.40 L659.69,292.90 L659.69,293.40 L659.69,293.90 L659.69,294.40 L659.69,294.90 L659.69,295.40 L659.68,295.90 L659.68,296.40 L659.68,296.90 L659.68,297.40 L659.67,297.91 L659.67,298.41 L659.67,298.91 L659.67,299.41 L659.66,299.91 L659.66,300.41 L659.66,300.91 L659.66,301.41 L659.65,301.91 L659.65,302.41 L659.65,302.91 L659.64,303.41 L659.64,303.91 L659.64,304.41 L659.63,304.92 L659.63,305.42 L659.63,305.92 L659.62,306.42 L659.62,306.92 L659.62,307.42 L659.61,307.92 L659.61,308.42 L659.60,308.92 L659.60,309.42 L659.60,309.92 L659.59,310.42 L659.59,310.92 L659.58,311.42 L659.58,311.93 L659.57,312.43 L659.57,312.93 L659.56,313.43 L659.56,313.93 L659.55,314.43 L659.54,314.93 L659.54,315.43 L659.53,315.93 L659.52,316.43 L659.51,316.93 L659.51,317.43 L659.50,317.93 L659.49,318.43 L659.48,318.94 L659.47,319.44 L659.47,319.94 L659.46,320.44 L659.45,320.94 L659.44,321.44 L659.43,321.94 L659.42,322.44 L659.41,322.94 L659.41,323.44 L659.40,323.94 L659.39,324.44 L659.38,324.94 L659.37,325.45 L659.36,325.95 L659.35,326.45 L659.35,326.95 L659.34,327.45 L659.33,327.95 L659.32,328.45 L659.31,328.95 L659.30,329.45 L659.29,329.95 L659.28,330.45 L659.27,330.95 L659.26,331.45 L659.25,331.95 L659.24,332.46 L659.23,332.96 L659.22,333.46 L659.20,333.96 L659.19,334.46 L659.18,334.96 L659.17,335.46 L659.16,335.96 L659.14,336.46 L659.13,336.96 L659.12,337.46 L659.10,337.96 L659.09,338.46 L659.07,338.96 L659.06,339.47 L659.04,339.97 L659.03,340.47 L659.01,340.97 L659.00,341.47 L658.98,341.97 L658.96,342.47 L658.94,342.97 L658.93,343.47 L658.91,343.97 L658.89,344.47 L658.87,344.97 L658.85,345.47 L658.83,345.97 L658.81,346.48 L658.78,346.98 L658.76,347.48 L658.74,347.98 L658.71,348.48 L658.69,348.98 L658.66,349.48 L658.63,349.98 L658.61,350.48 L658.58,350.98 L658.55,351.48 L658.52,351.98 L658.49,352.48 L658.45,352.99 L658.42,353.49 L658.38,353.99 L658.33,354.49 L658.28,354.99 L658.24,355.49 L658.18,355.99 L658.13,356.49 L658.08,356.99 L658.02,357.49 L657.96,357.99 L657.91,358.49 L657.85,358.99 L657.79,359.49 L657.73,360.00 L657.67,360.50 L657.61,361.00 L657.54,361.50 L657.47,362.00 L657.40,362.50 L657.33,363.00 L657.26,363.50 L657.18,364.00 L657.11,364.50 L657.03,365.00 L656.96,365.50 L656.88,366.00 L656.81,366.50 L656.73,367.01 L656.65,367.51 L656.57,368.01 L656.49,368.51 L656.41,369.01 L656.32,369.51 L656.24,370.01 L656.16,370.51 L656.07,371.01 L655.98,371.51 L655.89,372.01 L655.81,372.51 L655.72,373.01 L655.63,373.51 L655.53,374.02 L655.44,374.52 L655.35,375.02 L655.25,375.52 L655.15,376.02 L655.05,376.52 L654.95,377.02 L654.85,377.52 L654.75,378.02 L654.65,378.52 L654.55,379.02 L654.45,379.52 L654.35,380.02 L654.25,380.52 L654.15,381.03 L654.05,381.53 L653.95,382.03 L653.85,382.53 L653.75,383.03 L653.65,383.53 L653.55,384.03 L653.45,384.53 L653.35,385.03 L653.25,385.53 L653.15,386.03 L653.06,386.53 L652.96,387.03 L652.87,387.54 L652.78,388.04 L652.68,388.54 L652.59,389.04 L652.50,389.54 L652.41,390.04 L652.32,390.54 L652.23,391.04 L652.14,391.54 L652.06,392.04 L651.97,392.54 L651.89,393.04 L651.81,393.54 L651.74,394.04 L651.67,394.55 L651.60,395.05 L651.53,395.55 L651.46,396.05 L651.39,396.55 L651.32,397.05 L651.25,397.55 L651.19,398.05 L651.12,398.55 L651.06,399.05 L651.01,399.55 L650.95,400.05 L650.91,400.55 L650.87,401.05 L650.83,401.56 L650.80,402.06 L650.78,402.56 L650.76,403.06 L650.74,403.56 L650.72,404.06 L650.70,404.56 L650.68,405.06 L650.66,405.56 L650.65,406.06 L650.64,406.56 L650.62,407.06 L650.61,407.56 L650.61,408.06 L650.60,408.57 L650.60,409.07 L650.60,409.57 L650.61,410.07 L650.62,410.57 L650.65,411.07 L650.67,411.57 L650.71,412.07 L650.75,412.57 L650.79,413.07 L650.84,413.57 L650.89,414.07 L650.95,414.57 L651.02,415.08 L651.08,415.58 L651.16,416.08 L651.23,416.58 L651.35,417.08 L651.52,417.58 L651.72,418.08 L651.94,418.58 L652.19,419.08 L652.44,419.58 L652.70,420.08 Z" fill="#3F007D" stroke="#222" stroke-width="0.7" stroke-linejoin="round" clip-path="url(#c3clip)"/>
<g stroke="#222" stroke-width="0.65" clip-path="url(#c3clip)">
<line x1="661.20" y1="420.08" x2="661.20" y2="411.25" stroke="#222" stroke-width="0.65"/>
<line x1="661.20" y1="362.98" x2="661.20" y2="302.46" stroke="#222" stroke-width="0.65"/>
<rect x="657.70" y="362.98" width="7.00" height="48.27" fill="none" stroke="#222" stroke-width="0.65"/>
<line x1="657.70" y1="395.73" x2="664.70" y2="395.73" stroke="#222" stroke-width="1.1"/>
</g>
<circle cx="493.2" cy="251.6" r="0.6" fill="#333"/>
<line x1="420.20" y1="251.10" x2="420.20" y2="269.60" stroke="#111" stroke-width="1.1"/>
<line x1="420.20" y1="274.20" x2="420.20" y2="430.00" stroke="#111" stroke-width="1.1"/>
<line x1="419.70" y1="429.50" x2="678.00" y2="429.50" stroke="#111" stroke-width="1.1"/>
<line x1="417.70" y1="268.80" x2="420.20" y2="268.80" stroke="#111" stroke-width="1.0"/>
<text x="415.40" y="271.30" font-size="7.65" text-anchor="end" fill="#000" color="#000">175%</text>
<line x1="417.70" y1="423.50" x2="420.20" y2="423.50" stroke="#111" stroke-width="1.0"/>
<text x="415.40" y="426.00" font-size="7.65" text-anchor="end" fill="#000" color="#000">0%</text>
<line x1="417.70" y1="387.90" x2="420.20" y2="387.90" stroke="#111" stroke-width="1.0"/>
<text x="415.40" y="390.40" font-size="7.65" text-anchor="end" fill="#000" color="#000">25%</text>
<line x1="417.70" y1="352.30" x2="420.20" y2="352.30" stroke="#111" stroke-width="1.0"/>
<text x="415.40" y="354.80" font-size="7.65" text-anchor="end" fill="#000" color="#000">50%</text>
<line x1="417.70" y1="316.70" x2="420.20" y2="316.70" stroke="#111" stroke-width="1.0"/>
<text x="415.40" y="319.20" font-size="7.65" text-anchor="end" fill="#000" color="#000">75%</text>
<line x1="417.70" y1="281.10" x2="420.20" y2="281.10" stroke="#111" stroke-width="1.0"/>
<text x="415.40" y="283.60" font-size="7.65" text-anchor="end" fill="#000" color="#000">100%</text>
<line x1="437.20" y1="429.50" x2="437.20" y2="432.00" stroke="#111" stroke-width="1.0"/>
<text x="441.30" y="438.20" font-size="7.9" text-anchor="end" fill="#000" color="#000" transform="rotate(-45 441.30 438.20)">Histone Standard</text>
<text x="441.30" y="447.10" font-size="7.9" text-anchor="end" fill="#000" color="#000" transform="rotate(-45 441.30 438.20)">10 pg</text>
<line x1="465.20" y1="429.50" x2="465.20" y2="432.00" stroke="#111" stroke-width="1.0"/>
<text x="469.30" y="438.20" font-size="7.9" text-anchor="end" fill="#000" color="#000" transform="rotate(-45 469.30 438.20)">HUVECS</text>
<line x1="493.20" y1="429.50" x2="493.20" y2="432.00" stroke="#111" stroke-width="1.0"/>
<text x="497.30" y="438.20" font-size="7.9" text-anchor="end" fill="#000" color="#000" transform="rotate(-45 497.30 438.20)">A549</text>
<line x1="521.20" y1="429.50" x2="521.20" y2="432.00" stroke="#111" stroke-width="1.0"/>
<text x="525.30" y="438.20" font-size="7.9" text-anchor="end" fill="#000" color="#000" transform="rotate(-45 525.30 438.20)">A375</text>
<line x1="549.20" y1="429.50" x2="549.20" y2="432.00" stroke="#111" stroke-width="1.0"/>
<text x="553.30" y="438.20" font-size="7.9" text-anchor="end" fill="#000" color="#000" transform="rotate(-45 553.30 438.20)">MCF7</text>
<line x1="577.20" y1="429.50" x2="577.20" y2="432.00" stroke="#111" stroke-width="1.0"/>
<text x="581.30" y="438.20" font-size="7.9" text-anchor="end" fill="#000" color="#000" transform="rotate(-45 581.30 438.20)">PC3</text>
<line x1="605.20" y1="429.50" x2="605.20" y2="432.00" stroke="#111" stroke-width="1.0"/>
<text x="609.30" y="438.20" font-size="7.9" text-anchor="end" fill="#000" color="#000" transform="rotate(-45 609.30 438.20)">YAPC</text>
<line x1="633.20" y1="429.50" x2="633.20" y2="432.00" stroke="#111" stroke-width="1.0"/>
<text x="637.30" y="438.20" font-size="7.9" text-anchor="end" fill="#000" color="#000" transform="rotate(-45 637.30 438.20)">NCPs</text>
<line x1="661.20" y1="429.50" x2="661.20" y2="432.00" stroke="#111" stroke-width="1.0"/>
<text x="665.30" y="438.20" font-size="7.9" text-anchor="end" fill="#000" color="#000" transform="rotate(-45 665.30 438.20)">Astrocytes</text>
<text x="392.20" y="240.60" font-size="9.82" text-anchor="start" fill="#000" color="#000">Dele−Oni et al., 2021 (LINCS)</text>
<line x1="41.90" y1="533.20" x2="41.90" y2="882.00" stroke="#EBEBEB" stroke-width="1.0"/>
<line x1="90.00" y1="533.20" x2="90.00" y2="882.00" stroke="#EBEBEB" stroke-width="1.0"/>
<line x1="138.10" y1="533.20" x2="138.10" y2="882.00" stroke="#EBEBEB" stroke-width="1.0"/>
<line x1="186.20" y1="533.20" x2="186.20" y2="882.00" stroke="#EBEBEB" stroke-width="1.0"/>
<line x1="234.30" y1="533.20" x2="234.30" y2="882.00" stroke="#EBEBEB" stroke-width="1.0"/>
<line x1="32.40" y1="540.89" x2="243.70" y2="540.89" stroke="#EBEBEB" stroke-width="1.0"/>
<line x1="32.40" y1="553.72" x2="243.70" y2="553.72" stroke="#EBEBEB" stroke-width="1.0"/>
<line x1="32.40" y1="566.54" x2="243.70" y2="566.54" stroke="#EBEBEB" stroke-width="1.0"/>
<line x1="32.40" y1="579.36" x2="243.70" y2="579.36" stroke="#EBEBEB" stroke-width="1.0"/>
<line x1="32.40" y1="592.19" x2="243.70" y2="592.19" stroke="#EBEBEB" stroke-width="1.0"/>
<line x1="32.40" y1="605.01" x2="243.70" y2="605.01" stroke="#EBEBEB" stroke-width="1.0"/>
<line x1="32.40" y1="617.84" x2="243.70" y2="617.84" stroke="#EBEBEB" stroke-width="1.0"/>
<line x1="32.40" y1="630.66" x2="243.70" y2="630.66" stroke="#EBEBEB" stroke-width="1.0"/>
<line x1="32.40" y1="643.48" x2="243.70" y2="643.48" stroke="#EBEBEB" stroke-width="1.0"/>
<line x1="32.40" y1="656.31" x2="243.70" y2="656.31" stroke="#EBEBEB" stroke-width="1.0"/>
<line x1="32.40" y1="669.13" x2="243.70" y2="669.13" stroke="#EBEBEB" stroke-width="1.0"/>
<line x1="32.40" y1="681.95" x2="243.70" y2="681.95" stroke="#EBEBEB" stroke-width="1.0"/>
<line x1="32.40" y1="694.78" x2="243.70" y2="694.78" stroke="#EBEBEB" stroke-width="1.0"/>
<line x1="32.40" y1="707.60" x2="243.70" y2="707.60" stroke="#EBEBEB" stroke-width="1.0"/>
<line x1="32.40" y1="720.42" x2="243.70" y2="720.42" stroke="#EBEBEB" stroke-width="1.0"/>
<line x1="32.40" y1="733.25" x2="243.70" y2="733.25" stroke="#EBEBEB" stroke-width="1.0"/>
<line x1="32.40" y1="746.07" x2="243.70" y2="746.07" stroke="#EBEBEB" stroke-width="1.0"/>
<line x1="32.40" y1="758.89" x2="243.70" y2="758.89" stroke="#EBEBEB" stroke-width="1.0"/>
<line x1="32.40" y1="771.72" x2="243.70" y2="771.72" stroke="#EBEBEB" stroke-width="1.0"/>
<line x1="32.40" y1="784.54" x2="243.70" y2="784.54" stroke="#EBEBEB" stroke-width="1.0"/>
<line x1="32.40" y1="797.36" x2="243.70" y2="797.36" stroke="#EBEBEB" stroke-width="1.0"/>
<line x1="32.40" y1="810.19" x2="243.70" y2="810.19" stroke="#EBEBEB" stroke-width="1.0"/>
<line x1="32.40" y1="823.01" x2="243.70" y2="823.01" stroke="#EBEBEB" stroke-width="1.0"/>
<line x1="32.40" y1="835.84" x2="243.70" y2="835.84" stroke="#EBEBEB" stroke-width="1.0"/>
<line x1="32.40" y1="848.66" x2="243.70" y2="848.66" stroke="#EBEBEB" stroke-width="1.0"/>
<line x1="32.40" y1="861.48" x2="243.70" y2="861.48" stroke="#EBEBEB" stroke-width="1.0"/>
<line x1="32.40" y1="874.31" x2="243.70" y2="874.31" stroke="#EBEBEB" stroke-width="1.0"/>
<rect x="41.90" y="534.93" width="112.50" height="11.93" fill="#2A67AE"/>
<rect x="41.90" y="547.75" width="106.60" height="11.93" fill="#2A67AE"/>
<rect x="41.90" y="560.58" width="73.50" height="11.93" fill="#2565AD"/>
<rect x="41.90" y="573.40" width="72.00" height="11.93" fill="#2363AC"/>
<rect x="41.90" y="586.23" width="69.30" height="11.93" fill="#2D6BB1"/>
<rect x="41.90" y="599.05" width="60.80" height="11.93" fill="#4080BF"/>
<rect x="41.90" y="611.87" width="58.20" height="11.93" fill="#2666AE"/>
<rect x="41.90" y="624.70" width="55.80" height="11.93" fill="#2868AF"/>
<rect x="41.90" y="637.52" width="53.80" height="11.93" fill="#3D7DBD"/>
<rect x="41.90" y="650.34" width="53.80" height="11.93" fill="#4D8EC6"/>
<rect x="41.90" y="663.17" width="45.00" height="11.93" fill="#2767AE"/>
<rect x="41.90" y="675.99" width="43.50" height="11.93" fill="#2767AE"/>
<rect x="41.90" y="688.81" width="42.80" height="11.93" fill="#4A8AC4"/>
<rect x="41.90" y="701.64" width="42.00" height="11.93" fill="#6EABD5"/>
<rect x="41.90" y="714.46" width="38.00" height="11.93" fill="#4383C0"/>
<rect x="41.90" y="727.28" width="33.40" height="11.93" fill="#2D6DB1"/>
<rect x="41.90" y="740.11" width="33.00" height="11.93" fill="#5EA0CF"/>
<rect x="41.90" y="752.93" width="31.20" height="11.93" fill="#2D6DB1"/>
<rect x="41.90" y="765.75" width="27.10" height="11.93" fill="#3F7EBD"/>
<rect x="41.90" y="778.58" width="23.10" height="11.93" fill="#E6EDF3"/>
<rect x="41.90" y="791.40" width="23.10" height="11.93" fill="#E8EEF3"/>
<rect x="41.90" y="804.23" width="23.10" height="11.93" fill="#68A8D4"/>
<rect x="41.90" y="817.05" width="15.50" height="11.93" fill="#E4ECF2"/>
<rect x="41.90" y="829.87" width="14.40" height="11.93" fill="#BFD8EA"/>
<rect x="41.90" y="842.70" width="13.90" height="11.93" fill="#8DBFDE"/>
<rect x="41.90" y="855.52" width="2.30" height="11.93" fill="#FAD3C1"/>
<rect x="41.90" y="868.34" width="0.80" height="11.93" fill="#F4C7B5"/>
<text x="156.60" y="544.14" font-size="7.9" text-anchor="start" fill="#111" color="#111">H4K5acK12ac</text>
<text x="150.70" y="556.96" font-size="7.9" text-anchor="start" fill="#111" color="#111">H4K5ac</text>
<text x="117.60" y="569.79" font-size="7.9" text-anchor="start" fill="#111" color="#111">H4K5acK16ac</text>
<text x="116.10" y="582.61" font-size="7.9" text-anchor="start" fill="#111" color="#111">H4K8acK12acK16ac</text>
<text x="113.40" y="595.43" font-size="7.9" text-anchor="start" fill="#111" color="#111">H4K12acK16ac</text>
<text x="104.90" y="608.26" font-size="7.9" text-anchor="start" fill="#111" color="#111">H3K14ac</text>
<text x="102.30" y="621.08" font-size="7.9" text-anchor="start" fill="#111" color="#111">H4K5acK12acK16ac</text>
<text x="99.90" y="633.90" font-size="7.9" text-anchor="start" fill="#111" color="#111">H4K8acK12ac</text>
<text x="97.90" y="646.73" font-size="7.9" text-anchor="start" fill="#111" color="#111">H2A1AK5ac</text>
<text x="97.90" y="659.55" font-size="7.9" text-anchor="start" fill="#111" color="#111">H3K4me</text>
<text x="89.10" y="672.37" font-size="7.9" text-anchor="start" fill="#111" color="#111">H4K8acK16ac</text>
<text x="87.60" y="685.20" font-size="7.9" text-anchor="start" fill="#111" color="#111">H4K8ac</text>
<text x="86.90" y="698.02" font-size="7.9" text-anchor="start" fill="#111" color="#111">H3K9me</text>
<text x="86.10" y="710.84" font-size="7.9" text-anchor="start" fill="#111" color="#111">H3K9me2K14ac</text>
<text x="82.10" y="723.67" font-size="7.9" text-anchor="start" fill="#111" color="#111">H3K18ac</text>
<text x="77.50" y="736.49" font-size="7.9" text-anchor="start" fill="#111" color="#111">H3K18acK23ac</text>
<text x="77.10" y="749.31" font-size="7.9" text-anchor="start" fill="#111" color="#111">H4K16ac</text>
<text x="75.30" y="762.14" font-size="7.9" text-anchor="start" fill="#111" color="#111">H4K12ac</text>
<text x="71.20" y="774.96" font-size="7.9" text-anchor="start" fill="#111" color="#111">H3K9meK14ac</text>
<text x="67.20" y="787.79" font-size="7.9" text-anchor="start" fill="#111" color="#111">H3K27hib</text>
<text x="67.20" y="800.61" font-size="7.9" text-anchor="start" fill="#111" color="#111">H3K27me2</text>
<text x="67.20" y="813.43" font-size="7.9" text-anchor="start" fill="#111" color="#111">H3K23ac</text>
<text x="59.60" y="826.26" font-size="7.9" text-anchor="start" fill="#111" color="#111">H2A1BK15ac</text>
<text x="58.50" y="839.08" font-size="7.9" text-anchor="start" fill="#111" color="#111">H3K9me2</text>
<text x="58.00" y="851.90" font-size="7.9" text-anchor="start" fill="#111" color="#111">H3K9me3K14ac</text>
<text x="46.40" y="864.73" font-size="7.9" text-anchor="start" fill="#111" color="#111">H2AXK5acT6ac</text>
<text x="44.90" y="877.55" font-size="7.9" text-anchor="start" fill="#111" color="#111">H2AJK5acK9ac</text>
<line x1="32.40" y1="533.70" x2="32.40" y2="882.75" stroke="#111" stroke-width="1.5"/>
<line x1="31.65" y1="882.00" x2="243.70" y2="882.00" stroke="#111" stroke-width="1.5"/>
<line x1="41.90" y1="882.00" x2="41.90" y2="885.00" stroke="#000" stroke-width="1.2000000000000002"/>
<text x="41.90" y="896.00" font-size="11.0" text-anchor="middle" fill="#111" color="#111">0%</text>
<line x1="90.00" y1="882.00" x2="90.00" y2="885.00" stroke="#000" stroke-width="1.2000000000000002"/>
<text x="90.00" y="896.00" font-size="11.0" text-anchor="middle" fill="#111" color="#111">25%</text>
<line x1="138.10" y1="882.00" x2="138.10" y2="885.00" stroke="#000" stroke-width="1.2000000000000002"/>
<text x="138.10" y="896.00" font-size="11.0" text-anchor="middle" fill="#111" color="#111">50%</text>
<line x1="186.20" y1="882.00" x2="186.20" y2="885.00" stroke="#000" stroke-width="1.2000000000000002"/>
<text x="186.20" y="896.00" font-size="11.0" text-anchor="middle" fill="#111" color="#111">75%</text>
<line x1="234.30" y1="882.00" x2="234.30" y2="885.00" stroke="#000" stroke-width="1.2000000000000002"/>
<text x="234.30" y="896.00" font-size="11.0" text-anchor="middle" fill="#111" color="#111">100%</text>
<text x="137.90" y="916.20" font-size="13.9" text-anchor="middle" font-weight="bold" fill="#000" color="#000">Coefficient of Variation</text>
<text x="19.10" y="707.40" font-size="13.9" text-anchor="middle" font-weight="bold" fill="#000" color="#000" transform="rotate(-90 19.10 707.40)">Histone PTM</text>
<text x="33.00" y="523.20" font-size="13.8" text-anchor="start" fill="#000" color="#000">With Technical Noise</text>
<text x="6.10" y="510.60" font-size="18.6" text-anchor="start" font-weight="bold" fill="#000" color="#000">E</text>
<line x1="378.10" y1="536.50" x2="378.10" y2="847.10" stroke="#EBEBEB" stroke-width="1.0"/>
<line x1="430.40" y1="536.50" x2="430.40" y2="847.10" stroke="#EBEBEB" stroke-width="1.0"/>
<line x1="482.70" y1="536.50" x2="482.70" y2="847.10" stroke="#EBEBEB" stroke-width="1.0"/>
<line x1="535.00" y1="536.50" x2="535.00" y2="847.10" stroke="#EBEBEB" stroke-width="1.0"/>
<line x1="587.30" y1="536.50" x2="587.30" y2="847.10" stroke="#EBEBEB" stroke-width="1.0"/>
<line x1="368.50" y1="547.33" x2="597.60" y2="547.33" stroke="#EBEBEB" stroke-width="1.0"/>
<line x1="368.50" y1="565.39" x2="597.60" y2="565.39" stroke="#EBEBEB" stroke-width="1.0"/>
<line x1="368.50" y1="583.45" x2="597.60" y2="583.45" stroke="#EBEBEB" stroke-width="1.0"/>
<line x1="368.50" y1="601.51" x2="597.60" y2="601.51" stroke="#EBEBEB" stroke-width="1.0"/>
<line x1="368.50" y1="619.57" x2="597.60" y2="619.57" stroke="#EBEBEB" stroke-width="1.0"/>
<line x1="368.50" y1="637.63" x2="597.60" y2="637.63" stroke="#EBEBEB" stroke-width="1.0"/>
<line x1="368.50" y1="655.68" x2="597.60" y2="655.68" stroke="#EBEBEB" stroke-width="1.0"/>
<line x1="368.50" y1="673.74" x2="597.60" y2="673.74" stroke="#EBEBEB" stroke-width="1.0"/>
<line x1="368.50" y1="691.80" x2="597.60" y2="691.80" stroke="#EBEBEB" stroke-width="1.0"/>
<line x1="368.50" y1="709.86" x2="597.60" y2="709.86" stroke="#EBEBEB" stroke-width="1.0"/>
<line x1="368.50" y1="727.92" x2="597.60" y2="727.92" stroke="#EBEBEB" stroke-width="1.0"/>
<line x1="368.50" y1="745.97" x2="597.60" y2="745.97" stroke="#EBEBEB" stroke-width="1.0"/>
<line x1="368.50" y1="764.03" x2="597.60" y2="764.03" stroke="#EBEBEB" stroke-width="1.0"/>
<line x1="368.50" y1="782.09" x2="597.60" y2="782.09" stroke="#EBEBEB" stroke-width="1.0"/>
<line x1="368.50" y1="800.15" x2="597.60" y2="800.15" stroke="#EBEBEB" stroke-width="1.0"/>
<line x1="368.50" y1="818.21" x2="597.60" y2="818.21" stroke="#EBEBEB" stroke-width="1.0"/>
<line x1="368.50" y1="836.27" x2="597.60" y2="836.27" stroke="#EBEBEB" stroke-width="1.0"/>
<rect x="378.10" y="538.94" width="99.80" height="16.79" fill="#2B69AF"/>
<rect x="378.10" y="557.00" width="65.40" height="16.79" fill="#3F7FBE"/>
<rect x="378.10" y="575.05" width="54.90" height="16.79" fill="#2C6AB0"/>
<rect x="378.10" y="593.11" width="52.80" height="16.79" fill="#3B7BBB"/>
<rect x="378.10" y="611.17" width="44.50" height="16.79" fill="#4B8CC5"/>
<rect x="378.10" y="629.23" width="40.80" height="16.79" fill="#4B8CC5"/>
<rect x="378.10" y="647.29" width="40.80" height="16.79" fill="#2F6EB2"/>
<rect x="378.10" y="665.34" width="36.80" height="16.79" fill="#4586C2"/>
<rect x="378.10" y="683.40" width="35.60" height="16.79" fill="#69A9D4"/>
<rect x="378.10" y="701.46" width="34.00" height="16.79" fill="#78B1D8"/>
<rect x="378.10" y="719.52" width="23.90" height="16.79" fill="#F6F1F0"/>
<rect x="378.10" y="737.58" width="23.20" height="16.79" fill="#74AFD7"/>
<rect x="378.10" y="755.64" width="17.40" height="16.79" fill="#2F6EB2"/>
<rect x="378.10" y="773.69" width="15.00" height="16.79" fill="#F6F1F0"/>
<rect x="378.10" y="791.75" width="15.00" height="16.79" fill="#D2E4F0"/>
<rect x="378.10" y="809.81" width="13.40" height="16.79" fill="#98C6E2"/>
<rect x="378.10" y="827.87" width="0.90" height="16.79" fill="#E8A593"/>
<text x="480.10" y="550.79" font-size="8.5" text-anchor="start" fill="#111" color="#111">H4K5acK12ac</text>
<text x="445.70" y="568.85" font-size="8.5" text-anchor="start" fill="#111" color="#111">H3K14ac</text>
<text x="435.20" y="586.91" font-size="8.5" text-anchor="start" fill="#111" color="#111">H4K12acK16ac</text>
<text x="433.10" y="604.97" font-size="8.5" text-anchor="start" fill="#111" color="#111">H2A1AK5ac</text>
<text x="424.80" y="623.03" font-size="8.5" text-anchor="start" fill="#111" color="#111">H3K9me</text>
<text x="421.10" y="641.09" font-size="8.5" text-anchor="start" fill="#111" color="#111">H3K4me</text>
<text x="421.10" y="659.14" font-size="8.5" text-anchor="start" fill="#111" color="#111">H4K8acK16ac</text>
<text x="417.10" y="677.20" font-size="8.5" text-anchor="start" fill="#111" color="#111">H3K18ac</text>
<text x="415.90" y="695.26" font-size="8.5" text-anchor="start" fill="#111" color="#111">H4K16ac</text>
<text x="414.30" y="713.32" font-size="8.5" text-anchor="start" fill="#111" color="#111">H3K9me2K14ac</text>
<text x="404.20" y="731.38" font-size="8.5" text-anchor="start" fill="#111" color="#111">H3K27hib</text>
<text x="403.50" y="749.43" font-size="8.5" text-anchor="start" fill="#111" color="#111">H3K23ac</text>
<text x="397.70" y="767.49" font-size="8.5" text-anchor="start" fill="#111" color="#111">H4K12ac</text>
<text x="395.30" y="785.55" font-size="8.5" text-anchor="start" fill="#111" color="#111">H2A1BK15ac</text>
<text x="395.30" y="803.61" font-size="8.5" text-anchor="start" fill="#111" color="#111">H3K9me2</text>
<text x="393.70" y="821.67" font-size="8.5" text-anchor="start" fill="#111" color="#111">H3K9me3K14ac</text>
<text x="381.20" y="839.73" font-size="8.5" text-anchor="start" fill="#111" color="#111">H2AJK5acK9ac</text>
<line x1="368.50" y1="537.00" x2="368.50" y2="847.85" stroke="#111" stroke-width="1.5"/>
<line x1="367.75" y1="847.10" x2="597.60" y2="847.10" stroke="#111" stroke-width="1.5"/>
<line x1="378.10" y1="847.10" x2="378.10" y2="850.10" stroke="#000" stroke-width="1.2000000000000002"/>
<text x="378.10" y="862.80" font-size="11.8" text-anchor="middle" fill="#111" color="#111">0%</text>
<line x1="430.40" y1="847.10" x2="430.40" y2="850.10" stroke="#000" stroke-width="1.2000000000000002"/>
<text x="430.40" y="862.80" font-size="11.8" text-anchor="middle" fill="#111" color="#111">25%</text>
<line x1="482.70" y1="847.10" x2="482.70" y2="850.10" stroke="#000" stroke-width="1.2000000000000002"/>
<text x="482.70" y="862.80" font-size="11.8" text-anchor="middle" fill="#111" color="#111">50%</text>
<line x1="535.00" y1="847.10" x2="535.00" y2="850.10" stroke="#000" stroke-width="1.2000000000000002"/>
<text x="535.00" y="862.80" font-size="11.8" text-anchor="middle" fill="#111" color="#111">75%</text>
<line x1="587.30" y1="847.10" x2="587.30" y2="850.10" stroke="#000" stroke-width="1.2000000000000002"/>
<text x="587.30" y="862.80" font-size="11.8" text-anchor="middle" fill="#111" color="#111">100%</text>
<text x="482.65" y="883.60" font-size="15.0" text-anchor="middle" font-weight="bold" fill="#000" color="#000">Coefficient of Variation</text>
<text x="354.10" y="692.10" font-size="15.0" text-anchor="middle" font-weight="bold" fill="#000" color="#000" transform="rotate(-90 354.10 692.10)">Histone PTM</text>
<text x="368.70" y="525.80" font-size="15.0" text-anchor="start" fill="#000" color="#000">After Removal of Technical Noise</text>
<text x="343.30" y="510.90" font-size="18.6" text-anchor="start" font-weight="bold" fill="#000" color="#000">F</text>
<defs><linearGradient id="rdbu" x1="0" y1="1" x2="0" y2="0"><stop offset="0" stop-color="#2166AC"/><stop offset="0.16" stop-color="#4393C3"/><stop offset="0.33" stop-color="#92C5DE"/><stop offset="0.43" stop-color="#D1E5F0"/><stop offset="0.52" stop-color="#F7F7F7"/><stop offset="0.62" stop-color="#FDDBC7"/><stop offset="0.76" stop-color="#F4A582"/><stop offset="0.88" stop-color="#D6604D"/><stop offset="1" stop-color="#B2182B"/></linearGradient></defs>
<rect x="612.90" y="668.10" width="16.80" height="82.10" fill="url(#rdbu)"/>
<line x1="612.90" y1="669.30" x2="616.20" y2="669.30" stroke="#fff" stroke-width="0.6"/>
<line x1="626.40" y1="669.30" x2="629.70" y2="669.30" stroke="#fff" stroke-width="0.6"/>
<text x="633.60" y="673.30" font-size="11.6" text-anchor="start" fill="#111" color="#111">0.75</text>
<line x1="612.90" y1="696.40" x2="616.20" y2="696.40" stroke="#fff" stroke-width="0.6"/>
<line x1="626.40" y1="696.40" x2="629.70" y2="696.40" stroke="#fff" stroke-width="0.6"/>
<text x="633.60" y="700.40" font-size="11.6" text-anchor="start" fill="#111" color="#111">0.50</text>
<line x1="612.90" y1="723.40" x2="616.20" y2="723.40" stroke="#fff" stroke-width="0.6"/>
<line x1="626.40" y1="723.40" x2="629.70" y2="723.40" stroke="#fff" stroke-width="0.6"/>
<text x="633.60" y="727.40" font-size="11.6" text-anchor="start" fill="#111" color="#111">0.25</text>
<line x1="612.90" y1="750.40" x2="616.20" y2="750.40" stroke="#fff" stroke-width="0.6"/>
<line x1="626.40" y1="750.40" x2="629.70" y2="750.40" stroke="#fff" stroke-width="0.6"/>
<text x="633.60" y="754.40" font-size="11.6" text-anchor="start" fill="#111" color="#111">0.00</text>
<text x="613.40" y="641.90" font-size="9.3" text-anchor="start" font-style="italic" fill="#111" color="#111">Mean</text>
<text x="613.40" y="652.20" font-size="9.3" text-anchor="start" font-style="italic" fill="#111" color="#111">Relative</text>
<text x="613.40" y="662.50" font-size="9.3" text-anchor="start" font-style="italic" fill="#111" color="#111">Abundance</text>
</svg></body></html>
